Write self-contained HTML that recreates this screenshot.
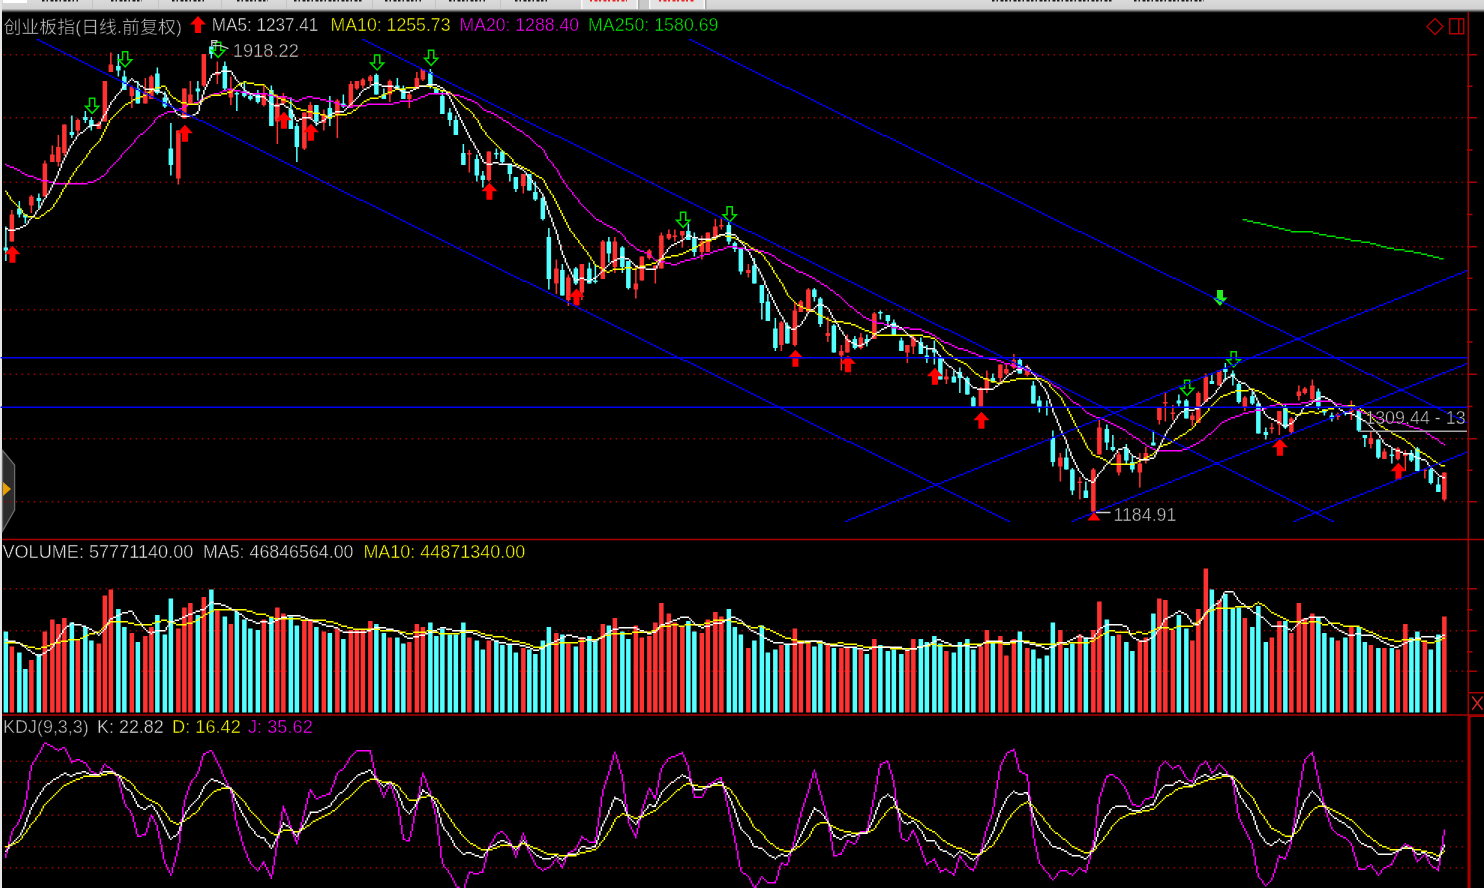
<!DOCTYPE html><html><head><meta charset="utf-8"><title>创业板指</title><style>
html,body{margin:0;padding:0;background:#000;}
#w{position:relative;width:1484px;height:888px;overflow:hidden;background:#000;}
#w>svg{position:absolute;left:0;top:0;}
text{font-family:'Liberation Sans', 'Noto Sans CJK SC', sans-serif;stroke:#000;stroke-width:0.45px;}
</style></head><body><div id="w">
<svg width="1484" height="888" viewBox="0 0 1484 888">
<defs><linearGradient id="tg" x1="0" y1="0" x2="0" y2="1"><stop offset="0" stop-color="#dadada"/><stop offset="1" stop-color="#d1d1d1"/></linearGradient></defs>
<rect x="0" y="0" width="1484" height="9" fill="url(#tg)"/><rect x="0" y="9" width="1484" height="1" fill="#b0b0b0"/><rect x="0" y="10" width="1484" height="1" fill="#7e7e7e"/><rect x="0" y="11" width="1484" height="1" fill="#454545"/><rect x="0" y="12" width="1484" height="1" fill="#0e0e0e"/>

<rect x="3" y="0" width="24" height="3" fill="#ffffff"/>
<g stroke="#1a1a1a" stroke-width="1.6" stroke-dasharray="2.5 2 1.5 2.5 3 1.5">
<line x1="42" y1="0.8" x2="78" y2="0.8"/>
<line x1="111" y1="0.8" x2="142" y2="0.8"/>
<line x1="172" y1="0.8" x2="206" y2="0.8"/>
<line x1="237" y1="0.8" x2="268" y2="0.8"/>
<line x1="294" y1="0.8" x2="363" y2="0.8"/>
<line x1="385" y1="0.8" x2="421" y2="0.8"/>
<line x1="449" y1="0.8" x2="485" y2="0.8"/>
<line x1="515" y1="0.8" x2="549" y2="0.8"/>
<line x1="992" y1="0.8" x2="1112" y2="0.8"/>
<line x1="1134" y1="0.8" x2="1204" y2="0.8"/>
</g>
<g stroke="#c4c4c4" stroke-width="1">
<line x1="92.5" y1="0" x2="92.5" y2="9"/><line x1="158.5" y1="0" x2="158.5" y2="9"/><line x1="221.5" y1="0" x2="221.5" y2="9"/>
<line x1="286.5" y1="0" x2="286.5" y2="9"/><line x1="372.5" y1="0" x2="372.5" y2="9"/><line x1="435.5" y1="0" x2="435.5" y2="9"/><line x1="500.5" y1="0" x2="500.5" y2="9"/>
</g>
<rect x="581" y="0" width="57" height="9" fill="#e3e3e3"/>
<rect x="649" y="0" width="56" height="9" fill="#e3e3e3"/>
<rect x="638" y="0" width="11" height="9" fill="#c9c9c9"/>
<rect x="581" y="0" width="1.5" height="9" fill="#fafafa"/><rect x="636.5" y="0" width="1.5" height="9" fill="#fafafa"/>
<rect x="649" y="0" width="1.5" height="9" fill="#fafafa"/><rect x="703.5" y="0" width="1.5" height="9" fill="#fafafa"/>
<rect x="638" y="0" width="1.5" height="9" fill="#a8a8a8"/><rect x="705" y="0" width="1.5" height="9" fill="#a8a8a8"/>
<g stroke="#ee2020" stroke-width="1.6" stroke-dasharray="2 2.5 3 1.5">
<line x1="590" y1="0.8" x2="627" y2="0.8"/>
<line x1="659" y1="0.8" x2="694" y2="0.8"/>
</g>

<rect x="0" y="0" width="2" height="888" fill="#e6e6e6"/>
<polygon points="2.5,450.5 14.6,465 14.6,510 2.5,531" fill="#2c2c2c" stroke="#6a6a6a" stroke-width="1.3"/><polygon points="3,482 11,489 3,496" fill="#e8a000" stroke="none" stroke-width="1.5"/>
<line x1="3.6" y1="54.75" x2="1464" y2="54.75" stroke="#a00000" stroke-width="1.5" stroke-dasharray="1.5 4.5"/>
<line x1="3.6" y1="117.75" x2="1464" y2="117.75" stroke="#a00000" stroke-width="1.5" stroke-dasharray="1.5 4.5"/>
<line x1="3.6" y1="182.25" x2="1464" y2="182.25" stroke="#a00000" stroke-width="1.5" stroke-dasharray="1.5 4.5"/>
<line x1="3.6" y1="246.75" x2="1464" y2="246.75" stroke="#a00000" stroke-width="1.5" stroke-dasharray="1.5 4.5"/>
<line x1="3.6" y1="309.75" x2="1464" y2="309.75" stroke="#a00000" stroke-width="1.5" stroke-dasharray="1.5 4.5"/>
<line x1="3.6" y1="374.25" x2="1464" y2="374.25" stroke="#a00000" stroke-width="1.5" stroke-dasharray="1.5 4.5"/>
<line x1="3.6" y1="438.75" x2="1464" y2="438.75" stroke="#a00000" stroke-width="1.5" stroke-dasharray="1.5 4.5"/>
<line x1="3.6" y1="501.75" x2="1464" y2="501.75" stroke="#a00000" stroke-width="1.5" stroke-dasharray="1.5 4.5"/>
<line x1="3.6" y1="588.75" x2="1464" y2="588.75" stroke="#a00000" stroke-width="1.5" stroke-dasharray="1.5 4.5"/>
<line x1="3.6" y1="630.75" x2="1464" y2="630.75" stroke="#a00000" stroke-width="1.5" stroke-dasharray="1.5 4.5"/>
<line x1="3.6" y1="671.25" x2="1464" y2="671.25" stroke="#a00000" stroke-width="1.5" stroke-dasharray="1.5 4.5"/>
<line x1="3.6" y1="761.25" x2="1464" y2="761.25" stroke="#a00000" stroke-width="1.5" stroke-dasharray="1.5 4.5"/>
<line x1="3.6" y1="782.25" x2="1464" y2="782.25" stroke="#a00000" stroke-width="1.5" stroke-dasharray="1.5 4.5"/>
<line x1="3.6" y1="815.25" x2="1464" y2="815.25" stroke="#a00000" stroke-width="1.5" stroke-dasharray="1.5 4.5"/>
<line x1="3.6" y1="846.75" x2="1464" y2="846.75" stroke="#a00000" stroke-width="1.5" stroke-dasharray="1.5 4.5"/>
<line x1="3.6" y1="867.75" x2="1464" y2="867.75" stroke="#a00000" stroke-width="1.5" stroke-dasharray="1.5 4.5"/>
<rect x="5.1" y="226.5" width="1.5" height="34.5" fill="#54ffff"/>
<rect x="3.6" y="247.5" width="4.5" height="3" fill="#54ffff"/>
<rect x="11.1" y="210" width="1.5" height="31.5" fill="#ff3232"/>
<rect x="9.6" y="214.5" width="4.5" height="27" fill="#ff3232"/>
<rect x="18.6" y="201" width="1.5" height="16.5" fill="#54ffff"/>
<rect x="17.1" y="208.5" width="4.5" height="6" fill="#54ffff"/>
<rect x="24.6" y="214.5" width="1.5" height="9" fill="#54ffff"/>
<rect x="23.1" y="214.5" width="4.5" height="3" fill="#54ffff"/>
<rect x="30.6" y="195" width="1.5" height="18" fill="#ff3232"/>
<rect x="29.1" y="196.5" width="4.5" height="9" fill="#ff3232"/>
<rect x="38.1" y="193.5" width="1.5" height="15" fill="#54ffff"/>
<rect x="36.6" y="198" width="4.5" height="3" fill="#54ffff"/>
<rect x="44.1" y="160.5" width="1.5" height="36" fill="#ff3232"/>
<rect x="42.6" y="163.5" width="4.5" height="33" fill="#ff3232"/>
<rect x="51.6" y="145.5" width="1.5" height="16.5" fill="#ff3232"/>
<rect x="50.1" y="154.5" width="4.5" height="7.5" fill="#ff3232"/>
<rect x="57.6" y="135" width="1.5" height="31.5" fill="#ff3232"/>
<rect x="56.1" y="147" width="4.5" height="15" fill="#ff3232"/>
<rect x="63.6" y="124.5" width="1.5" height="31.5" fill="#ff3232"/>
<rect x="62.1" y="124.5" width="4.5" height="28.5" fill="#ff3232"/>
<rect x="71.1" y="115.5" width="1.5" height="22.5" fill="#54ffff"/>
<rect x="69.6" y="132" width="4.5" height="3" fill="#54ffff"/>
<rect x="77.1" y="118.5" width="1.5" height="16.5" fill="#ff3232"/>
<rect x="75.6" y="120" width="4.5" height="10.5" fill="#ff3232"/>
<rect x="84.6" y="111" width="1.5" height="12" fill="#54ffff"/>
<rect x="83.1" y="117" width="4.5" height="3" fill="#54ffff"/>
<rect x="90.6" y="117" width="1.5" height="13.5" fill="#54ffff"/>
<rect x="89.1" y="120" width="4.5" height="6" fill="#54ffff"/>
<rect x="98.1" y="121.5" width="1.5" height="7.5" fill="#ff3232"/>
<rect x="96.6" y="123" width="4.5" height="6" fill="#ff3232"/>
<rect x="104.1" y="81" width="1.5" height="40.5" fill="#ff3232"/>
<rect x="102.6" y="81" width="4.5" height="40.5" fill="#ff3232"/>
<rect x="110.1" y="52.5" width="1.5" height="19.5" fill="#ff3232"/>
<rect x="108.6" y="64.5" width="4.5" height="7.5" fill="#ff3232"/>
<rect x="117.6" y="54" width="1.5" height="22.5" fill="#54ffff"/>
<rect x="116.1" y="66" width="4.5" height="4.5" fill="#54ffff"/>
<rect x="123.6" y="70.5" width="1.5" height="19.5" fill="#54ffff"/>
<rect x="122.1" y="76.5" width="4.5" height="13.5" fill="#54ffff"/>
<rect x="131.1" y="85.5" width="1.5" height="22.5" fill="#ff3232"/>
<rect x="129.6" y="87" width="4.5" height="9" fill="#ff3232"/>
<rect x="137.1" y="81" width="1.5" height="22.5" fill="#54ffff"/>
<rect x="135.6" y="88.5" width="4.5" height="15" fill="#54ffff"/>
<rect x="144.6" y="78" width="1.5" height="25.5" fill="#ff3232"/>
<rect x="143.1" y="91.5" width="4.5" height="12" fill="#ff3232"/>
<rect x="150.6" y="75" width="1.5" height="24" fill="#ff3232"/>
<rect x="149.1" y="76.5" width="4.5" height="22.5" fill="#ff3232"/>
<rect x="156.6" y="67.5" width="1.5" height="27" fill="#54ffff"/>
<rect x="155.1" y="73.5" width="4.5" height="19.5" fill="#54ffff"/>
<rect x="164.1" y="91.5" width="1.5" height="16.5" fill="#54ffff"/>
<rect x="162.6" y="97.5" width="4.5" height="9" fill="#54ffff"/>
<rect x="170.1" y="123" width="1.5" height="52.5" fill="#54ffff"/>
<rect x="168.6" y="148.5" width="4.5" height="16.5" fill="#54ffff"/>
<rect x="177.6" y="130.5" width="1.5" height="54" fill="#ff3232"/>
<rect x="176.1" y="130.5" width="4.5" height="48" fill="#ff3232"/>
<rect x="183.6" y="88.5" width="1.5" height="30" fill="#ff3232"/>
<rect x="182.1" y="88.5" width="4.5" height="30" fill="#ff3232"/>
<rect x="189.6" y="81" width="1.5" height="24" fill="#ff3232"/>
<rect x="188.1" y="94.5" width="4.5" height="9" fill="#ff3232"/>
<rect x="197.1" y="81" width="1.5" height="19.5" fill="#54ffff"/>
<rect x="195.6" y="88.5" width="4.5" height="3" fill="#54ffff"/>
<rect x="203.1" y="54" width="1.5" height="33" fill="#ff3232"/>
<rect x="201.6" y="54" width="4.5" height="31.5" fill="#ff3232"/>
<rect x="210.6" y="46.5" width="1.5" height="12" fill="#54ffff"/>
<rect x="209.1" y="46.5" width="4.5" height="7.5" fill="#54ffff"/>
<rect x="216.6" y="61.5" width="1.5" height="22.5" fill="#ff3232"/>
<rect x="215.1" y="72" width="4.5" height="3" fill="#ff3232"/>
<rect x="224.1" y="61.5" width="1.5" height="28.5" fill="#54ffff"/>
<rect x="222.6" y="66" width="4.5" height="22.5" fill="#54ffff"/>
<rect x="230.1" y="76.5" width="1.5" height="28.5" fill="#ff3232"/>
<rect x="228.6" y="90" width="4.5" height="7.5" fill="#ff3232"/>
<rect x="236.1" y="91.5" width="1.5" height="19.5" fill="#54ffff"/>
<rect x="234.6" y="93" width="4.5" height="1.5" fill="#54ffff"/>
<rect x="243.6" y="81" width="1.5" height="16.5" fill="#54ffff"/>
<rect x="242.1" y="91.5" width="4.5" height="4.5" fill="#54ffff"/>
<rect x="249.6" y="94.5" width="1.5" height="6" fill="#54ffff"/>
<rect x="248.1" y="96" width="4.5" height="3" fill="#54ffff"/>
<rect x="257.1" y="90" width="1.5" height="13.5" fill="#54ffff"/>
<rect x="255.6" y="94.5" width="4.5" height="7.5" fill="#54ffff"/>
<rect x="263.1" y="85.5" width="1.5" height="21" fill="#ff3232"/>
<rect x="261.6" y="93" width="4.5" height="12" fill="#ff3232"/>
<rect x="270.6" y="85.5" width="1.5" height="40.5" fill="#54ffff"/>
<rect x="269.1" y="90" width="4.5" height="36" fill="#54ffff"/>
<rect x="276.6" y="94.5" width="1.5" height="49.5" fill="#ff3232"/>
<rect x="275.1" y="103.5" width="4.5" height="18" fill="#ff3232"/>
<rect x="282.6" y="93" width="1.5" height="12" fill="#ff3232"/>
<rect x="281.1" y="96" width="4.5" height="7.5" fill="#ff3232"/>
<rect x="290.1" y="97.5" width="1.5" height="31.5" fill="#54ffff"/>
<rect x="288.6" y="109.5" width="4.5" height="19.5" fill="#54ffff"/>
<rect x="296.1" y="123" width="1.5" height="39" fill="#54ffff"/>
<rect x="294.6" y="126" width="4.5" height="21" fill="#54ffff"/>
<rect x="303.6" y="112.5" width="1.5" height="37.5" fill="#ff3232"/>
<rect x="302.1" y="112.5" width="4.5" height="36" fill="#ff3232"/>
<rect x="309.6" y="102" width="1.5" height="18" fill="#ff3232"/>
<rect x="308.1" y="105" width="4.5" height="13.5" fill="#ff3232"/>
<rect x="315.6" y="105" width="1.5" height="21" fill="#54ffff"/>
<rect x="314.1" y="105" width="4.5" height="16.5" fill="#54ffff"/>
<rect x="323.1" y="109.5" width="1.5" height="21" fill="#ff3232"/>
<rect x="321.6" y="114" width="4.5" height="9" fill="#ff3232"/>
<rect x="329.1" y="96" width="1.5" height="30" fill="#54ffff"/>
<rect x="327.6" y="108" width="4.5" height="10.5" fill="#54ffff"/>
<rect x="336.6" y="99" width="1.5" height="39" fill="#ff3232"/>
<rect x="335.1" y="100.5" width="4.5" height="13.5" fill="#ff3232"/>
<rect x="342.6" y="94.5" width="1.5" height="13.5" fill="#54ffff"/>
<rect x="341.1" y="103.5" width="4.5" height="3" fill="#54ffff"/>
<rect x="350.1" y="81" width="1.5" height="25.5" fill="#ff3232"/>
<rect x="348.6" y="84" width="4.5" height="22.5" fill="#ff3232"/>
<rect x="356.1" y="81" width="1.5" height="9" fill="#ff3232"/>
<rect x="354.6" y="81" width="4.5" height="7.5" fill="#ff3232"/>
<rect x="362.1" y="78" width="1.5" height="10.5" fill="#ff3232"/>
<rect x="360.6" y="79.5" width="4.5" height="6" fill="#ff3232"/>
<rect x="369.6" y="75" width="1.5" height="10.5" fill="#ff3232"/>
<rect x="368.1" y="76.5" width="4.5" height="4.5" fill="#ff3232"/>
<rect x="375.6" y="73.5" width="1.5" height="21" fill="#54ffff"/>
<rect x="374.1" y="75" width="4.5" height="19.5" fill="#54ffff"/>
<rect x="383.1" y="88.5" width="1.5" height="10.5" fill="#54ffff"/>
<rect x="381.6" y="94.5" width="4.5" height="4.5" fill="#54ffff"/>
<rect x="389.1" y="79.5" width="1.5" height="22.5" fill="#ff3232"/>
<rect x="387.6" y="81" width="4.5" height="13.5" fill="#ff3232"/>
<rect x="396.6" y="78" width="1.5" height="12" fill="#54ffff"/>
<rect x="395.1" y="85.5" width="4.5" height="3" fill="#54ffff"/>
<rect x="402.6" y="85.5" width="1.5" height="13.5" fill="#54ffff"/>
<rect x="401.1" y="88.5" width="4.5" height="10.5" fill="#54ffff"/>
<rect x="408.6" y="93" width="1.5" height="15" fill="#ff3232"/>
<rect x="407.1" y="94.5" width="4.5" height="4.5" fill="#ff3232"/>
<rect x="416.1" y="72" width="1.5" height="16.5" fill="#ff3232"/>
<rect x="414.6" y="78" width="4.5" height="10.5" fill="#ff3232"/>
<rect x="422.1" y="69" width="1.5" height="12" fill="#ff3232"/>
<rect x="420.6" y="69" width="4.5" height="10.5" fill="#ff3232"/>
<rect x="429.6" y="69" width="1.5" height="19.5" fill="#54ffff"/>
<rect x="428.1" y="72" width="4.5" height="13.5" fill="#54ffff"/>
<rect x="435.6" y="88.5" width="1.5" height="4.5" fill="#54ffff"/>
<rect x="434.1" y="88.5" width="4.5" height="4.5" fill="#54ffff"/>
<rect x="441.6" y="90" width="1.5" height="24" fill="#54ffff"/>
<rect x="440.1" y="96" width="4.5" height="18" fill="#54ffff"/>
<rect x="449.1" y="108" width="1.5" height="18" fill="#54ffff"/>
<rect x="447.6" y="112.5" width="4.5" height="7.5" fill="#54ffff"/>
<rect x="455.1" y="115.5" width="1.5" height="19.5" fill="#54ffff"/>
<rect x="453.6" y="120" width="4.5" height="15" fill="#54ffff"/>
<rect x="462.6" y="144" width="1.5" height="21" fill="#54ffff"/>
<rect x="461.1" y="153" width="4.5" height="12" fill="#54ffff"/>
<rect x="468.6" y="150" width="1.5" height="22.5" fill="#ff3232"/>
<rect x="467.1" y="153" width="4.5" height="1.5" fill="#ff3232"/>
<rect x="476.1" y="154.5" width="1.5" height="27" fill="#54ffff"/>
<rect x="474.6" y="159" width="4.5" height="16.5" fill="#54ffff"/>
<rect x="482.1" y="171" width="1.5" height="16.5" fill="#54ffff"/>
<rect x="480.6" y="175.5" width="4.5" height="4.5" fill="#54ffff"/>
<rect x="488.1" y="151.5" width="1.5" height="30" fill="#ff3232"/>
<rect x="486.6" y="151.5" width="4.5" height="28.5" fill="#ff3232"/>
<rect x="495.6" y="148.5" width="1.5" height="10.5" fill="#54ffff"/>
<rect x="494.1" y="153" width="4.5" height="1.5" fill="#54ffff"/>
<rect x="501.6" y="150" width="1.5" height="13.5" fill="#54ffff"/>
<rect x="500.1" y="151.5" width="4.5" height="10.5" fill="#54ffff"/>
<rect x="509.1" y="165" width="1.5" height="16.5" fill="#54ffff"/>
<rect x="507.6" y="165" width="4.5" height="9" fill="#54ffff"/>
<rect x="515.1" y="177" width="1.5" height="15" fill="#54ffff"/>
<rect x="513.6" y="177" width="4.5" height="12" fill="#54ffff"/>
<rect x="522.6" y="174" width="1.5" height="19.5" fill="#ff3232"/>
<rect x="521.1" y="174" width="4.5" height="12" fill="#ff3232"/>
<rect x="528.6" y="174" width="1.5" height="16.5" fill="#54ffff"/>
<rect x="527.1" y="174" width="4.5" height="16.5" fill="#54ffff"/>
<rect x="534.6" y="181.5" width="1.5" height="19.5" fill="#54ffff"/>
<rect x="533.1" y="192" width="4.5" height="7.5" fill="#54ffff"/>
<rect x="542.1" y="196.5" width="1.5" height="24" fill="#54ffff"/>
<rect x="540.6" y="198" width="4.5" height="21" fill="#54ffff"/>
<rect x="548.1" y="228" width="1.5" height="61.5" fill="#54ffff"/>
<rect x="546.6" y="237" width="4.5" height="42" fill="#54ffff"/>
<rect x="555.6" y="259.5" width="1.5" height="34.5" fill="#ff3232"/>
<rect x="554.1" y="268.5" width="4.5" height="15" fill="#ff3232"/>
<rect x="561.6" y="264" width="1.5" height="31.5" fill="#54ffff"/>
<rect x="560.1" y="270" width="4.5" height="25.5" fill="#54ffff"/>
<rect x="567.6" y="274.5" width="1.5" height="31.5" fill="#ff3232"/>
<rect x="566.1" y="277.5" width="4.5" height="22.5" fill="#ff3232"/>
<rect x="575.1" y="267" width="1.5" height="18" fill="#54ffff"/>
<rect x="573.6" y="268.5" width="4.5" height="15" fill="#54ffff"/>
<rect x="581.1" y="264" width="1.5" height="36" fill="#ff3232"/>
<rect x="579.6" y="264" width="4.5" height="28.5" fill="#ff3232"/>
<rect x="588.6" y="262.5" width="1.5" height="21" fill="#54ffff"/>
<rect x="587.1" y="268.5" width="4.5" height="15" fill="#54ffff"/>
<rect x="594.6" y="264" width="1.5" height="19.5" fill="#54ffff"/>
<rect x="593.1" y="280.5" width="4.5" height="1.5" fill="#54ffff"/>
<rect x="602.1" y="240" width="1.5" height="39" fill="#ff3232"/>
<rect x="600.6" y="241.5" width="4.5" height="37.5" fill="#ff3232"/>
<rect x="608.1" y="237" width="1.5" height="25.5" fill="#54ffff"/>
<rect x="606.6" y="241.5" width="4.5" height="12" fill="#54ffff"/>
<rect x="614.1" y="237" width="1.5" height="36" fill="#ff3232"/>
<rect x="612.6" y="241.5" width="4.5" height="25.5" fill="#ff3232"/>
<rect x="621.6" y="246" width="1.5" height="27" fill="#54ffff"/>
<rect x="620.1" y="247.5" width="4.5" height="19.5" fill="#54ffff"/>
<rect x="627.6" y="261" width="1.5" height="28.5" fill="#54ffff"/>
<rect x="626.1" y="261" width="4.5" height="27" fill="#54ffff"/>
<rect x="635.1" y="265.5" width="1.5" height="33" fill="#ff3232"/>
<rect x="633.6" y="283.5" width="4.5" height="6" fill="#ff3232"/>
<rect x="641.1" y="256.5" width="1.5" height="24" fill="#ff3232"/>
<rect x="639.6" y="256.5" width="4.5" height="24" fill="#ff3232"/>
<rect x="648.6" y="249" width="1.5" height="10.5" fill="#ff3232"/>
<rect x="647.1" y="250.5" width="4.5" height="7.5" fill="#ff3232"/>
<rect x="654.6" y="265.5" width="1.5" height="18" fill="#ff3232"/>
<rect x="653.1" y="265.5" width="4.5" height="3" fill="#ff3232"/>
<rect x="660.6" y="232.5" width="1.5" height="36" fill="#ff3232"/>
<rect x="659.1" y="235.5" width="4.5" height="33" fill="#ff3232"/>
<rect x="668.1" y="229.5" width="1.5" height="10.5" fill="#ff3232"/>
<rect x="666.6" y="234" width="4.5" height="4.5" fill="#ff3232"/>
<rect x="674.1" y="229.5" width="1.5" height="12" fill="#ff3232"/>
<rect x="672.6" y="235.5" width="4.5" height="1.5" fill="#ff3232"/>
<rect x="681.6" y="231" width="1.5" height="16.5" fill="#ff3232"/>
<rect x="680.1" y="231" width="4.5" height="4.5" fill="#ff3232"/>
<rect x="687.6" y="223.5" width="1.5" height="16.5" fill="#54ffff"/>
<rect x="686.1" y="231" width="4.5" height="9" fill="#54ffff"/>
<rect x="693.6" y="232.5" width="1.5" height="24" fill="#54ffff"/>
<rect x="692.1" y="238.5" width="4.5" height="13.5" fill="#54ffff"/>
<rect x="701.1" y="235.5" width="1.5" height="24" fill="#ff3232"/>
<rect x="699.6" y="241.5" width="4.5" height="10.5" fill="#ff3232"/>
<rect x="707.1" y="232.5" width="1.5" height="19.5" fill="#ff3232"/>
<rect x="705.6" y="232.5" width="4.5" height="19.5" fill="#ff3232"/>
<rect x="714.6" y="219" width="1.5" height="19.5" fill="#ff3232"/>
<rect x="713.1" y="226.5" width="4.5" height="10.5" fill="#ff3232"/>
<rect x="720.6" y="217.5" width="1.5" height="12" fill="#ff3232"/>
<rect x="719.1" y="225" width="4.5" height="1.5" fill="#ff3232"/>
<rect x="728.1" y="222" width="1.5" height="22.5" fill="#54ffff"/>
<rect x="726.6" y="225" width="4.5" height="16.5" fill="#54ffff"/>
<rect x="734.1" y="241.5" width="1.5" height="10.5" fill="#54ffff"/>
<rect x="732.6" y="243" width="4.5" height="6" fill="#54ffff"/>
<rect x="740.1" y="249" width="1.5" height="25.5" fill="#54ffff"/>
<rect x="738.6" y="249" width="4.5" height="22.5" fill="#54ffff"/>
<rect x="747.6" y="264" width="1.5" height="13.5" fill="#ff3232"/>
<rect x="746.1" y="270" width="4.5" height="3" fill="#ff3232"/>
<rect x="753.6" y="258" width="1.5" height="25.5" fill="#54ffff"/>
<rect x="752.1" y="265.5" width="4.5" height="18" fill="#54ffff"/>
<rect x="761.1" y="285" width="1.5" height="34.5" fill="#54ffff"/>
<rect x="759.6" y="285" width="4.5" height="18" fill="#54ffff"/>
<rect x="767.1" y="294" width="1.5" height="27" fill="#54ffff"/>
<rect x="765.6" y="301.5" width="4.5" height="19.5" fill="#54ffff"/>
<rect x="774.6" y="318" width="1.5" height="33" fill="#54ffff"/>
<rect x="773.1" y="328.5" width="4.5" height="19.5" fill="#54ffff"/>
<rect x="780.6" y="321" width="1.5" height="30" fill="#ff3232"/>
<rect x="779.1" y="322.5" width="4.5" height="22.5" fill="#ff3232"/>
<rect x="786.6" y="322.5" width="1.5" height="21" fill="#54ffff"/>
<rect x="785.1" y="325.5" width="4.5" height="18" fill="#54ffff"/>
<rect x="794.1" y="303" width="1.5" height="43.5" fill="#ff3232"/>
<rect x="792.6" y="310.5" width="4.5" height="34.5" fill="#ff3232"/>
<rect x="800.1" y="300" width="1.5" height="12" fill="#ff3232"/>
<rect x="798.6" y="301.5" width="4.5" height="10.5" fill="#ff3232"/>
<rect x="807.6" y="288" width="1.5" height="25.5" fill="#ff3232"/>
<rect x="806.1" y="289.5" width="4.5" height="22.5" fill="#ff3232"/>
<rect x="813.6" y="288" width="1.5" height="13.5" fill="#54ffff"/>
<rect x="812.1" y="289.5" width="4.5" height="7.5" fill="#54ffff"/>
<rect x="819.6" y="297" width="1.5" height="30" fill="#54ffff"/>
<rect x="818.1" y="298.5" width="4.5" height="25.5" fill="#54ffff"/>
<rect x="827.1" y="316.5" width="1.5" height="25.5" fill="#ff3232"/>
<rect x="825.6" y="333" width="4.5" height="3" fill="#ff3232"/>
<rect x="833.1" y="324" width="1.5" height="28.5" fill="#54ffff"/>
<rect x="831.6" y="325.5" width="4.5" height="27" fill="#54ffff"/>
<rect x="840.6" y="345" width="1.5" height="25.5" fill="#ff3232"/>
<rect x="839.1" y="351" width="4.5" height="4.5" fill="#ff3232"/>
<rect x="846.6" y="334.5" width="1.5" height="18" fill="#ff3232"/>
<rect x="845.1" y="339" width="4.5" height="13.5" fill="#ff3232"/>
<rect x="854.1" y="336" width="1.5" height="13.5" fill="#54ffff"/>
<rect x="852.6" y="339" width="4.5" height="9" fill="#54ffff"/>
<rect x="860.1" y="333" width="1.5" height="16.5" fill="#ff3232"/>
<rect x="858.6" y="337.5" width="4.5" height="10.5" fill="#ff3232"/>
<rect x="866.1" y="334.5" width="1.5" height="12" fill="#54ffff"/>
<rect x="864.6" y="339" width="4.5" height="3" fill="#54ffff"/>
<rect x="873.6" y="312" width="1.5" height="27" fill="#ff3232"/>
<rect x="872.1" y="313.5" width="4.5" height="25.5" fill="#ff3232"/>
<rect x="879.6" y="310.5" width="1.5" height="9" fill="#54ffff"/>
<rect x="878.1" y="312" width="4.5" height="1.5" fill="#54ffff"/>
<rect x="887.1" y="315" width="1.5" height="10.5" fill="#54ffff"/>
<rect x="885.6" y="315" width="4.5" height="6" fill="#54ffff"/>
<rect x="893.1" y="319.5" width="1.5" height="16.5" fill="#54ffff"/>
<rect x="891.6" y="322.5" width="4.5" height="13.5" fill="#54ffff"/>
<rect x="900.6" y="337.5" width="1.5" height="13.5" fill="#54ffff"/>
<rect x="899.1" y="340.5" width="4.5" height="10.5" fill="#54ffff"/>
<rect x="906.6" y="345" width="1.5" height="18" fill="#ff3232"/>
<rect x="905.1" y="345" width="4.5" height="7.5" fill="#ff3232"/>
<rect x="912.6" y="336" width="1.5" height="18" fill="#ff3232"/>
<rect x="911.1" y="337.5" width="4.5" height="9" fill="#ff3232"/>
<rect x="920.1" y="337.5" width="1.5" height="16.5" fill="#54ffff"/>
<rect x="918.6" y="342" width="4.5" height="12" fill="#54ffff"/>
<rect x="926.1" y="345" width="1.5" height="18" fill="#54ffff"/>
<rect x="924.6" y="355.5" width="4.5" height="3" fill="#54ffff"/>
<rect x="933.6" y="340.5" width="1.5" height="24" fill="#54ffff"/>
<rect x="932.1" y="349.5" width="4.5" height="3" fill="#54ffff"/>
<rect x="939.6" y="355.5" width="1.5" height="24" fill="#54ffff"/>
<rect x="938.1" y="357" width="4.5" height="22.5" fill="#54ffff"/>
<rect x="945.6" y="369" width="1.5" height="15" fill="#ff3232"/>
<rect x="944.1" y="376.5" width="4.5" height="3" fill="#ff3232"/>
<rect x="953.1" y="370.5" width="1.5" height="12" fill="#54ffff"/>
<rect x="951.6" y="376.5" width="4.5" height="6" fill="#54ffff"/>
<rect x="959.1" y="367.5" width="1.5" height="25.5" fill="#54ffff"/>
<rect x="957.6" y="372" width="4.5" height="6" fill="#54ffff"/>
<rect x="966.6" y="376.5" width="1.5" height="18" fill="#54ffff"/>
<rect x="965.1" y="378" width="4.5" height="16.5" fill="#54ffff"/>
<rect x="972.6" y="396" width="1.5" height="10.5" fill="#54ffff"/>
<rect x="971.1" y="397.5" width="4.5" height="9" fill="#54ffff"/>
<rect x="980.1" y="387" width="1.5" height="19.5" fill="#ff3232"/>
<rect x="978.6" y="388.5" width="4.5" height="18" fill="#ff3232"/>
<rect x="986.1" y="370.5" width="1.5" height="22.5" fill="#ff3232"/>
<rect x="984.6" y="378" width="4.5" height="12" fill="#ff3232"/>
<rect x="992.1" y="373.5" width="1.5" height="9" fill="#54ffff"/>
<rect x="990.6" y="378" width="4.5" height="3" fill="#54ffff"/>
<rect x="999.6" y="364.5" width="1.5" height="18" fill="#ff3232"/>
<rect x="998.1" y="364.5" width="4.5" height="13.5" fill="#ff3232"/>
<rect x="1005.6" y="364.5" width="1.5" height="10.5" fill="#ff3232"/>
<rect x="1004.1" y="369" width="4.5" height="4.5" fill="#ff3232"/>
<rect x="1013.1" y="354" width="1.5" height="15" fill="#ff3232"/>
<rect x="1011.6" y="360" width="4.5" height="7.5" fill="#ff3232"/>
<rect x="1019.1" y="358.5" width="1.5" height="15" fill="#54ffff"/>
<rect x="1017.6" y="360" width="4.5" height="13.5" fill="#54ffff"/>
<rect x="1026.6" y="364.5" width="1.5" height="12" fill="#ff3232"/>
<rect x="1025.1" y="367.5" width="4.5" height="7.5" fill="#ff3232"/>
<rect x="1032.6" y="381" width="1.5" height="22.5" fill="#54ffff"/>
<rect x="1031.1" y="385.5" width="4.5" height="18" fill="#54ffff"/>
<rect x="1038.6" y="396" width="1.5" height="16.5" fill="#54ffff"/>
<rect x="1037.1" y="400.5" width="4.5" height="7.5" fill="#54ffff"/>
<rect x="1046.1" y="400.5" width="1.5" height="15" fill="#54ffff"/>
<rect x="1044.6" y="406.5" width="4.5" height="1.5" fill="#54ffff"/>
<rect x="1052.1" y="430.5" width="1.5" height="36" fill="#54ffff"/>
<rect x="1050.6" y="438" width="4.5" height="24" fill="#54ffff"/>
<rect x="1059.6" y="453" width="1.5" height="28.5" fill="#ff3232"/>
<rect x="1058.1" y="457.5" width="4.5" height="9" fill="#ff3232"/>
<rect x="1065.6" y="448.5" width="1.5" height="21" fill="#54ffff"/>
<rect x="1064.1" y="457.5" width="4.5" height="12" fill="#54ffff"/>
<rect x="1071.6" y="468" width="1.5" height="27" fill="#54ffff"/>
<rect x="1070.1" y="469.5" width="4.5" height="21" fill="#54ffff"/>
<rect x="1079.1" y="477" width="1.5" height="22.5" fill="#ff3232"/>
<rect x="1077.6" y="481.5" width="4.5" height="1.5" fill="#ff3232"/>
<rect x="1085.1" y="481.5" width="1.5" height="16.5" fill="#54ffff"/>
<rect x="1083.6" y="490.5" width="4.5" height="7.5" fill="#54ffff"/>
<rect x="1092.6" y="468" width="1.5" height="45" fill="#ff3232"/>
<rect x="1091.1" y="469.5" width="4.5" height="42" fill="#ff3232"/>
<rect x="1098.6" y="420" width="1.5" height="34.5" fill="#ff3232"/>
<rect x="1097.1" y="427.5" width="4.5" height="27" fill="#ff3232"/>
<rect x="1106.1" y="424.5" width="1.5" height="25.5" fill="#54ffff"/>
<rect x="1104.6" y="429" width="4.5" height="13.5" fill="#54ffff"/>
<rect x="1112.1" y="435" width="1.5" height="16.5" fill="#54ffff"/>
<rect x="1110.6" y="447" width="4.5" height="3" fill="#54ffff"/>
<rect x="1118.1" y="451.5" width="1.5" height="24" fill="#ff3232"/>
<rect x="1116.6" y="454.5" width="4.5" height="18" fill="#ff3232"/>
<rect x="1125.6" y="444" width="1.5" height="21" fill="#54ffff"/>
<rect x="1124.1" y="448.5" width="4.5" height="12" fill="#54ffff"/>
<rect x="1131.6" y="456" width="1.5" height="16.5" fill="#54ffff"/>
<rect x="1130.1" y="462" width="4.5" height="7.5" fill="#54ffff"/>
<rect x="1139.1" y="453" width="1.5" height="34.5" fill="#ff3232"/>
<rect x="1137.6" y="463.5" width="4.5" height="9" fill="#ff3232"/>
<rect x="1145.1" y="447" width="1.5" height="16.5" fill="#ff3232"/>
<rect x="1143.6" y="453" width="4.5" height="7.5" fill="#ff3232"/>
<rect x="1152.6" y="430.5" width="1.5" height="15" fill="#54ffff"/>
<rect x="1151.1" y="442.5" width="4.5" height="3" fill="#54ffff"/>
<rect x="1158.6" y="408" width="1.5" height="16.5" fill="#ff3232"/>
<rect x="1157.1" y="408" width="4.5" height="12" fill="#ff3232"/>
<rect x="1164.6" y="393" width="1.5" height="28.5" fill="#ff3232"/>
<rect x="1163.1" y="402" width="4.5" height="1.5" fill="#ff3232"/>
<rect x="1172.1" y="405" width="1.5" height="15" fill="#ff3232"/>
<rect x="1170.6" y="412.5" width="4.5" height="1.5" fill="#ff3232"/>
<rect x="1178.1" y="394.5" width="1.5" height="12" fill="#54ffff"/>
<rect x="1176.6" y="400.5" width="4.5" height="3" fill="#54ffff"/>
<rect x="1185.6" y="399" width="1.5" height="19.5" fill="#54ffff"/>
<rect x="1184.1" y="400.5" width="4.5" height="18" fill="#54ffff"/>
<rect x="1191.6" y="412.5" width="1.5" height="13.5" fill="#ff3232"/>
<rect x="1190.1" y="415.5" width="4.5" height="4.5" fill="#ff3232"/>
<rect x="1197.6" y="391.5" width="1.5" height="31.5" fill="#ff3232"/>
<rect x="1196.1" y="393" width="4.5" height="30" fill="#ff3232"/>
<rect x="1205.1" y="373.5" width="1.5" height="28.5" fill="#ff3232"/>
<rect x="1203.6" y="376.5" width="4.5" height="25.5" fill="#ff3232"/>
<rect x="1211.1" y="373.5" width="1.5" height="10.5" fill="#54ffff"/>
<rect x="1209.6" y="381" width="4.5" height="3" fill="#54ffff"/>
<rect x="1218.6" y="370.5" width="1.5" height="15" fill="#ff3232"/>
<rect x="1217.1" y="370.5" width="4.5" height="15" fill="#ff3232"/>
<rect x="1224.6" y="363" width="1.5" height="18" fill="#54ffff"/>
<rect x="1223.1" y="369" width="4.5" height="3" fill="#54ffff"/>
<rect x="1232.1" y="370.5" width="1.5" height="15" fill="#54ffff"/>
<rect x="1230.6" y="373.5" width="4.5" height="3" fill="#54ffff"/>
<rect x="1238.1" y="382.5" width="1.5" height="21" fill="#54ffff"/>
<rect x="1236.6" y="384" width="4.5" height="18" fill="#54ffff"/>
<rect x="1244.1" y="396" width="1.5" height="15" fill="#ff3232"/>
<rect x="1242.6" y="397.5" width="4.5" height="10.5" fill="#ff3232"/>
<rect x="1251.6" y="391.5" width="1.5" height="13.5" fill="#54ffff"/>
<rect x="1250.1" y="396" width="4.5" height="7.5" fill="#54ffff"/>
<rect x="1257.6" y="402" width="1.5" height="31.5" fill="#54ffff"/>
<rect x="1256.1" y="403.5" width="4.5" height="30" fill="#54ffff"/>
<rect x="1265.1" y="427.5" width="1.5" height="12" fill="#54ffff"/>
<rect x="1263.6" y="432" width="4.5" height="3" fill="#54ffff"/>
<rect x="1271.1" y="423" width="1.5" height="10.5" fill="#ff3232"/>
<rect x="1269.6" y="427.5" width="4.5" height="1.5" fill="#ff3232"/>
<rect x="1278.6" y="411" width="1.5" height="24" fill="#ff3232"/>
<rect x="1277.1" y="411" width="4.5" height="13.5" fill="#ff3232"/>
<rect x="1284.6" y="405" width="1.5" height="24" fill="#54ffff"/>
<rect x="1283.1" y="408" width="4.5" height="19.5" fill="#54ffff"/>
<rect x="1290.6" y="417" width="1.5" height="18" fill="#ff3232"/>
<rect x="1289.1" y="418.5" width="4.5" height="13.5" fill="#ff3232"/>
<rect x="1298.1" y="385.5" width="1.5" height="15" fill="#ff3232"/>
<rect x="1296.6" y="391.5" width="4.5" height="4.5" fill="#ff3232"/>
<rect x="1304.1" y="387" width="1.5" height="7.5" fill="#ff3232"/>
<rect x="1302.6" y="388.5" width="4.5" height="4.5" fill="#ff3232"/>
<rect x="1311.6" y="379.5" width="1.5" height="22.5" fill="#ff3232"/>
<rect x="1310.1" y="385.5" width="4.5" height="13.5" fill="#ff3232"/>
<rect x="1317.6" y="388.5" width="1.5" height="21" fill="#54ffff"/>
<rect x="1316.1" y="391.5" width="4.5" height="15" fill="#54ffff"/>
<rect x="1323.6" y="409.5" width="1.5" height="6" fill="#54ffff"/>
<rect x="1322.1" y="409.5" width="4.5" height="3" fill="#54ffff"/>
<rect x="1331.1" y="412.5" width="1.5" height="9" fill="#54ffff"/>
<rect x="1329.6" y="415.5" width="4.5" height="3" fill="#54ffff"/>
<rect x="1337.1" y="412.5" width="1.5" height="7.5" fill="#ff3232"/>
<rect x="1335.6" y="414" width="4.5" height="3" fill="#ff3232"/>
<rect x="1344.6" y="411" width="1.5" height="4.5" fill="#54ffff"/>
<rect x="1343.1" y="412.5" width="4.5" height="1.5" fill="#54ffff"/>
<rect x="1350.6" y="400.5" width="1.5" height="19.5" fill="#ff3232"/>
<rect x="1349.1" y="409.5" width="4.5" height="3" fill="#ff3232"/>
<rect x="1358.1" y="409.5" width="1.5" height="22.5" fill="#54ffff"/>
<rect x="1356.6" y="411" width="4.5" height="19.5" fill="#54ffff"/>
<rect x="1364.1" y="435" width="1.5" height="12" fill="#54ffff"/>
<rect x="1362.6" y="435" width="4.5" height="3" fill="#54ffff"/>
<rect x="1370.1" y="432" width="1.5" height="16.5" fill="#ff3232"/>
<rect x="1368.6" y="438" width="4.5" height="6" fill="#ff3232"/>
<rect x="1377.6" y="439.5" width="1.5" height="19.5" fill="#54ffff"/>
<rect x="1376.1" y="439.5" width="4.5" height="18" fill="#54ffff"/>
<rect x="1383.6" y="448.5" width="1.5" height="10.5" fill="#ff3232"/>
<rect x="1382.1" y="451.5" width="4.5" height="7.5" fill="#ff3232"/>
<rect x="1391.1" y="448.5" width="1.5" height="15" fill="#54ffff"/>
<rect x="1389.6" y="454.5" width="4.5" height="1.5" fill="#54ffff"/>
<rect x="1397.1" y="447" width="1.5" height="13.5" fill="#ff3232"/>
<rect x="1395.6" y="448.5" width="4.5" height="10.5" fill="#ff3232"/>
<rect x="1404.6" y="450" width="1.5" height="21" fill="#ff3232"/>
<rect x="1403.1" y="453" width="4.5" height="3" fill="#ff3232"/>
<rect x="1410.6" y="450" width="1.5" height="12" fill="#54ffff"/>
<rect x="1409.1" y="453" width="4.5" height="7.5" fill="#54ffff"/>
<rect x="1416.6" y="447" width="1.5" height="24" fill="#54ffff"/>
<rect x="1415.1" y="448.5" width="4.5" height="22.5" fill="#54ffff"/>
<rect x="1424.1" y="468" width="1.5" height="10.5" fill="#ff3232"/>
<rect x="1422.6" y="469.5" width="4.5" height="1.5" fill="#ff3232"/>
<rect x="1430.1" y="468" width="1.5" height="16.5" fill="#54ffff"/>
<rect x="1428.6" y="469.5" width="4.5" height="13.5" fill="#54ffff"/>
<rect x="1437.6" y="477" width="1.5" height="15" fill="#54ffff"/>
<rect x="1436.1" y="484.5" width="4.5" height="7.5" fill="#54ffff"/>
<rect x="1443.6" y="472.5" width="1.5" height="28.5" fill="#ff3232"/>
<rect x="1442.1" y="472.5" width="4.5" height="27" fill="#ff3232"/>
<path fill="#ff00ff" d="M213.6 93h6v1.5h-6zM246.6 93h21v1.5h-21zM428.1 93h24v1.5h-24zM1095.6 417h6v1.5h-6zM1230.6 417h4.5v1.5h-4.5zM1376.1 417h3v1.5h-3zM1116.6 426h3v1.5h-3zM1409.1 426h4.5v1.5h-4.5zM1104.6 420h3v1.5h-3zM1224.6 420h3v1.5h-3zM1382.1 420h6v1.5h-6zM1113.6 424.5h3v1.5h-3zM1406.1 424.5h3v1.5h-3zM206.1 96h3v1.5h-3zM273.6 96h13.5v1.5h-13.5zM306.6 96h6v1.5h-6zM420.6 96h4.5v1.5h-4.5zM459.6 96h4.5v1.5h-4.5zM983.1 357h6v1.5h-6zM1308.6 400.5h24v1.5h-24zM1136.1 438h3v1.5h-3zM1434.6 438h3v1.5h-3zM185.1 105h3v1.5h-3zM341.1 105h6v1.5h-6zM353.1 105h13.5v1.5h-13.5zM1146.6 445.5h3v1.5h-3zM1190.1 445.5h3v1.5h-3zM665.1 262.5h6v1.5h-6zM677.1 262.5h3v1.5h-3zM782.1 262.5h3v1.5h-3zM1254.6 409.5h7.5v1.5h-7.5zM1356.6 409.5h3v1.5h-3zM1128.6 433.5h3v1.5h-3zM1208.1 433.5h3v1.5h-3zM1427.1 433.5h3v1.5h-3zM498.6 117h3v1.5h-3zM167.1 111h7.5v1.5h-7.5zM486.6 111h4.5v1.5h-4.5zM806.1 274.5h3v1.5h-3zM222.6 90h4.5v1.5h-4.5zM233.1 90h7.5v1.5h-7.5zM836.1 294h3v1.5h-3zM1037.1 375h4.5v1.5h-4.5zM1023.6 369h4.5v1.5h-4.5zM1076.1 403.5h3v1.5h-3zM1275.6 403.5h25.5v1.5h-25.5zM1335.6 403.5h6v1.5h-6zM1266.6 406.5h3v1.5h-3zM1347.6 406.5h6v1.5h-6zM795.6 270h3v1.5h-3zM639.6 250.5h4.5v1.5h-4.5zM713.1 250.5h4.5v1.5h-4.5zM758.1 250.5h6v1.5h-6zM1028.1 370.5h3v1.5h-3zM219.6 91.5h3v1.5h-3zM240.6 91.5h6v1.5h-6zM33.6 177h3v1.5h-3zM36.6 178.5h4.5v1.5h-4.5zM96.6 178.5h3v1.5h-3zM857.1 312h3v1.5h-3zM1041.6 376.5h3v1.5h-3zM636.6 249h3v1.5h-3zM717.6 249h6v1.5h-6zM744.6 249h13.5v1.5h-13.5zM1155.6 450h27v1.5h-27zM200.1 99h3v1.5h-3zM291.6 99h3v1.5h-3zM299.1 99h3v1.5h-3zM320.1 99h6v1.5h-6zM413.1 99h4.5v1.5h-4.5zM467.1 99h4.5v1.5h-4.5zM647.1 253.5h3v1.5h-3zM704.1 253.5h6v1.5h-6zM768.6 253.5h3v1.5h-3zM188.1 103.5h6v1.5h-6zM338.1 103.5h3v1.5h-3zM366.6 103.5h27v1.5h-27zM798.6 271.5h4.5v1.5h-4.5zM897.6 328.5h6v1.5h-6zM909.6 328.5h12v1.5h-12zM788.1 265.5h3v1.5h-3zM1248.6 411h6v1.5h-6zM1359.6 411h3v1.5h-3zM1031.1 372h3v1.5h-3zM1101.6 418.5h3v1.5h-3zM1227.6 418.5h3v1.5h-3zM1379.1 418.5h3v1.5h-3zM1142.1 442.5h3v1.5h-3zM1196.1 442.5h3v1.5h-3zM1440.6 442.5h3v1.5h-3zM1262.1 408h4.5v1.5h-4.5zM1353.6 408h3v1.5h-3zM1017.6 367.5h6v1.5h-6zM1193.1 444h3v1.5h-3zM203.1 97.5h3v1.5h-3zM287.1 97.5h4.5v1.5h-4.5zM302.1 97.5h4.5v1.5h-4.5zM312.6 97.5h7.5v1.5h-7.5zM417.6 97.5h3v1.5h-3zM464.1 97.5h3v1.5h-3zM194.1 102h4.5v1.5h-4.5zM333.6 102h4.5v1.5h-4.5zM393.6 102h6v1.5h-6zM474.6 102h3v1.5h-3zM671.1 264h6v1.5h-6zM785.1 264h3v1.5h-3zM41.1 180h7.5v1.5h-7.5zM93.6 180h3v1.5h-3zM54.6 183h33v1.5h-33zM989.1 358.5h7.5v1.5h-7.5zM654.6 259.5h3v1.5h-3zM684.6 259.5h6v1.5h-6zM777.6 259.5h3v1.5h-3zM723.6 247.5h3v1.5h-3zM737.1 247.5h7.5v1.5h-7.5zM161.1 114h3v1.5h-3zM494.1 114h3v1.5h-3zM1092.6 415.5h3v1.5h-3zM1235.1 415.5h4.5v1.5h-4.5zM1373.1 415.5h3v1.5h-3zM17.1 169.5h3v1.5h-3zM1152.6 448.5h3v1.5h-3zM1182.6 448.5h4.5v1.5h-4.5zM525.6 135h3v1.5h-3zM891.6 327h6v1.5h-6zM903.6 327h6v1.5h-6zM209.1 94.5h4.5v1.5h-4.5zM267.6 94.5h6v1.5h-6zM425.1 94.5h3v1.5h-3zM452.1 94.5h7.5v1.5h-7.5zM630.6 244.5h3v1.5h-3zM657.6 261h7.5v1.5h-7.5zM680.1 261h4.5v1.5h-4.5zM1073.1 402h3v1.5h-3zM1301.1 402h7.5v1.5h-7.5zM1332.6 402h3v1.5h-3zM1119.6 427.5h3v1.5h-3zM1413.6 427.5h6v1.5h-6zM1089.6 414h3v1.5h-3zM1239.6 414h3v1.5h-3zM1367.1 414h6v1.5h-6zM294.6 100.5h4.5v1.5h-4.5zM326.1 100.5h7.5v1.5h-7.5zM399.6 100.5h13.5v1.5h-13.5zM471.6 100.5h3v1.5h-3zM9.6 166.5h4.5v1.5h-4.5zM48.6 181.5h6v1.5h-6zM87.6 181.5h6v1.5h-6zM726.6 246h10.5v1.5h-10.5zM996.6 360h4.5v1.5h-4.5zM1107.6 421.5h3v1.5h-3zM1221.6 421.5h3v1.5h-3zM1388.1 421.5h13.5v1.5h-13.5zM690.6 258h6v1.5h-6zM1422.6 430.5h3v1.5h-3zM179.1 108h3v1.5h-3zM164.1 112.5h3v1.5h-3zM491.1 112.5h3v1.5h-3zM182.1 106.5h3v1.5h-3zM347.1 106.5h6v1.5h-6zM617.1 231h3v1.5h-3zM866.1 318h3v1.5h-3zM849.6 306h3v1.5h-3zM1004.1 363h6v1.5h-6zM951.6 345h3v1.5h-3zM644.1 252h3v1.5h-3zM710.1 252h3v1.5h-3zM764.1 252h4.5v1.5h-4.5zM699.6 255h4.5v1.5h-4.5zM771.6 255h3v1.5h-3zM941.1 340.5h3v1.5h-3zM1269.6 405h6v1.5h-6zM1341.6 405h6v1.5h-6zM957.6 348h6v1.5h-6zM944.1 342h4.5v1.5h-4.5zM516.6 129h3v1.5h-3zM1056.6 387h3v1.5h-3zM519.6 130.5h3v1.5h-3zM14.1 168h3v1.5h-3zM921.6 330h3v1.5h-3zM512.1 126h3v1.5h-3zM816.6 280.5h3v1.5h-3zM1001.1 361.5h3v1.5h-3zM227.1 88.5h6v1.5h-6zM971.1 352.5h4.5v1.5h-4.5zM1053.6 385.5h3v1.5h-3zM606.6 225h3v1.5h-3zM596.1 219h3v1.5h-3zM929.1 333h3v1.5h-3zM1086.6 412.5h3v1.5h-3zM1242.6 412.5h6v1.5h-6zM1362.6 412.5h4.5v1.5h-4.5zM963.6 349.5h4.5v1.5h-4.5zM872.1 321h4.5v1.5h-4.5zM821.1 283.5h3v1.5h-3zM599.1 220.5h3v1.5h-3zM968.1 351h3v1.5h-3zM503.1 120h3v1.5h-3zM932.1 334.5h3v1.5h-3zM1149.6 447h3v1.5h-3zM1187.1 447h3v1.5h-3zM158.1 115.5h3v1.5h-3zM1010.1 364.5h4.5v1.5h-4.5zM6.6 165h3v1.5h-3zM876.6 322.5h7.5v1.5h-7.5zM924.6 331.5h4.5v1.5h-4.5zM21.6 172.5h3v1.5h-3zM1122.6 429h3v1.5h-3zM1419.6 429h3v1.5h-3zM809.1 276h3v1.5h-3zM140.1 133.5h3v1.5h-3zM978.6 355.5h4.5v1.5h-4.5zM1133.1 436.5h3v1.5h-3zM1431.6 436.5h3v1.5h-3zM506.1 121.5h3v1.5h-3zM803.1 273h3v1.5h-3zM1034.1 373.5h3v1.5h-3zM1200.6 439.5h3v1.5h-3zM791.1 267h3v1.5h-3zM696.6 256.5h3v1.5h-3zM1110.6 423h3v1.5h-3zM1401.6 423h4.5v1.5h-4.5zM888.6 325.5h3v1.5h-3zM174.6 109.5h4.5v1.5h-4.5zM483.6 109.5h3v1.5h-3zM24.6 174h3v1.5h-3zM27.6 175.5h6v1.5h-6zM101.1 175.5h3v1.5h-3zM884.1 324h4.5v1.5h-4.5zM1044.6 378h3v1.5h-3zM830.1 289.5h3v1.5h-3zM603.6 223.5h3v1.5h-3zM948.6 343.5h3v1.5h-3zM609.6 226.5h3v1.5h-3zM954.6 346.5h3v1.5h-3zM824.1 285h3v1.5h-3zM612.6 228h3v1.5h-3zM537.6 145.5h3v1.5h-3zM863.1 316.5h3v1.5h-3zM936.6 337.5h3v1.5h-3zM869.1 319.5h3v1.5h-3zM1014.6 366h3v1.5h-3zM975.6 354h3v1.5h-3zM812.1 277.5h3v1.5h-3zM1217.1 426h1.5v1.5h-1.5zM1065.6 394.5h1.5v1.5h-1.5zM1218.6 424.5h1.5v1.5h-1.5zM1071.6 400.5h1.5v1.5h-1.5zM1203.6 438h1.5v1.5h-1.5zM150.6 124.5h1.5v1.5h-1.5zM510.6 124.5h1.5v1.5h-1.5zM479.1 105h1.5v1.5h-1.5zM123.6 151.5h1.5v1.5h-1.5zM543.6 150h1.5v3h-1.5zM1083.6 409.5h1.5v1.5h-1.5zM120.6 154.5h1.5v3h-1.5zM546.6 156h1.5v3h-1.5zM156.6 117h1.5v1.5h-1.5zM134.1 139.5h1.5v3h-1.5zM531.6 139.5h1.5v1.5h-1.5zM840.6 297h1.5v1.5h-1.5zM1080.6 406.5h1.5v1.5h-1.5zM1131.6 435h1.5v1.5h-1.5zM1206.6 435h1.5v1.5h-1.5zM1430.1 435h1.5v1.5h-1.5zM99.6 177h1.5v1.5h-1.5zM560.1 175.5h1.5v3h-1.5zM561.6 178.5h1.5v1.5h-1.5zM132.6 142.5h1.5v1.5h-1.5zM534.6 142.5h1.5v1.5h-1.5zM477.6 103.5h1.5v1.5h-1.5zM1085.1 411h1.5v1.5h-1.5zM1082.1 408h1.5v1.5h-1.5zM1145.1 444h1.5v1.5h-1.5zM1443.6 444h1.5v1.5h-1.5zM563.1 180h1.5v3h-1.5zM564.6 183h1.5v1.5h-1.5zM117.6 159h1.5v1.5h-1.5zM548.1 159h1.5v1.5h-1.5zM635.1 247.5h1.5v1.5h-1.5zM107.1 169.5h1.5v3h-1.5zM557.1 169.5h1.5v3h-1.5zM138.6 135h1.5v1.5h-1.5zM569.1 189h1.5v1.5h-1.5zM834.6 292.5h1.5v1.5h-1.5zM570.6 190.5h1.5v1.5h-1.5zM780.6 261h1.5v1.5h-1.5zM116.1 160.5h1.5v1.5h-1.5zM549.6 160.5h1.5v1.5h-1.5zM1215.6 427.5h1.5v1.5h-1.5zM545.1 153h1.5v3h-1.5zM198.6 100.5h1.5v1.5h-1.5zM1127.1 432h1.5v1.5h-1.5zM1211.1 432h1.5v1.5h-1.5zM1425.6 432h1.5v1.5h-1.5zM110.1 166.5h1.5v1.5h-1.5zM554.1 166.5h1.5v1.5h-1.5zM143.1 132h1.5v1.5h-1.5zM522.6 132h1.5v1.5h-1.5zM633.6 246h1.5v1.5h-1.5zM653.1 258h1.5v1.5h-1.5zM776.1 258h1.5v1.5h-1.5zM828.6 288h1.5v1.5h-1.5zM1125.6 430.5h1.5v1.5h-1.5zM1212.6 430.5h1.5v1.5h-1.5zM585.6 208.5h1.5v1.5h-1.5zM482.1 108h1.5v1.5h-1.5zM480.6 106.5h1.5v1.5h-1.5zM126.6 148.5h1.5v1.5h-1.5zM542.1 148.5h1.5v1.5h-1.5zM620.1 232.5h1.5v1.5h-1.5zM125.1 150h1.5v1.5h-1.5zM650.1 255h1.5v1.5h-1.5zM1079.1 405h1.5v1.5h-1.5zM146.1 129h1.5v1.5h-1.5zM827.1 286.5h1.5v1.5h-1.5zM144.6 130.5h1.5v1.5h-1.5zM5.1 163.5h1.5v1.5h-1.5zM113.1 163.5h1.5v1.5h-1.5zM552.6 163.5h1.5v3h-1.5zM131.1 144h1.5v1.5h-1.5zM536.1 144h1.5v1.5h-1.5zM845.1 301.5h1.5v1.5h-1.5zM1059.6 388.5h1.5v1.5h-1.5zM935.1 336h1.5v1.5h-1.5zM108.6 168h1.5v1.5h-1.5zM555.6 168h1.5v1.5h-1.5zM149.1 126h1.5v1.5h-1.5zM1052.1 384h1.5v1.5h-1.5zM1068.6 397.5h1.5v1.5h-1.5zM573.6 195h1.5v1.5h-1.5zM1070.1 399h1.5v1.5h-1.5zM843.6 300h1.5v1.5h-1.5zM584.1 207h1.5v1.5h-1.5zM860.1 313.5h1.5v1.5h-1.5zM861.6 315h1.5v1.5h-1.5zM602.1 222h1.5v1.5h-1.5zM153.6 120h1.5v3h-1.5zM594.6 217.5h1.5v1.5h-1.5zM497.1 115.5h1.5v1.5h-1.5zM111.6 165h1.5v1.5h-1.5zM105.6 172.5h1.5v1.5h-1.5zM558.6 172.5h1.5v3h-1.5zM1214.1 429h1.5v1.5h-1.5zM572.1 192h1.5v3h-1.5zM135.6 138h1.5v1.5h-1.5zM530.1 138h1.5v1.5h-1.5zM524.1 133.5h1.5v1.5h-1.5zM578.1 199.5h1.5v3h-1.5zM1205.1 436.5h1.5v1.5h-1.5zM815.1 279h1.5v1.5h-1.5zM1139.1 439.5h1.5v1.5h-1.5zM1437.6 439.5h1.5v1.5h-1.5zM119.1 157.5h1.5v1.5h-1.5zM122.1 153h1.5v1.5h-1.5zM651.6 256.5h1.5v1.5h-1.5zM774.6 256.5h1.5v1.5h-1.5zM1220.1 423h1.5v1.5h-1.5zM854.1 309h1.5v1.5h-1.5zM114.6 162h1.5v1.5h-1.5zM551.1 162h1.5v1.5h-1.5zM623.1 235.5h1.5v1.5h-1.5zM152.1 123h1.5v1.5h-1.5zM509.1 123h1.5v1.5h-1.5zM137.1 136.5h1.5v1.5h-1.5zM528.6 136.5h1.5v1.5h-1.5zM104.1 174h1.5v1.5h-1.5zM20.1 171h1.5v1.5h-1.5zM848.1 304.5h1.5v1.5h-1.5zM1062.6 391.5h1.5v1.5h-1.5zM533.1 141h1.5v1.5h-1.5zM852.6 307.5h1.5v1.5h-1.5zM621.6 234h1.5v1.5h-1.5zM1140.6 441h1.5v1.5h-1.5zM1199.1 441h1.5v1.5h-1.5zM1439.1 441h1.5v1.5h-1.5zM1061.1 390h1.5v1.5h-1.5zM587.1 210h1.5v1.5h-1.5zM615.6 229.5h1.5v1.5h-1.5zM588.6 211.5h1.5v1.5h-1.5zM566.1 184.5h1.5v3h-1.5zM575.1 196.5h1.5v1.5h-1.5zM576.6 198h1.5v1.5h-1.5zM129.6 145.5h1.5v1.5h-1.5zM846.6 303h1.5v1.5h-1.5zM624.6 237h1.5v3h-1.5zM626.1 240h1.5v1.5h-1.5zM147.6 127.5h1.5v1.5h-1.5zM515.1 127.5h1.5v1.5h-1.5zM1049.1 381h1.5v1.5h-1.5zM855.6 310.5h1.5v1.5h-1.5zM579.6 202.5h1.5v1.5h-1.5zM581.1 204h1.5v1.5h-1.5zM794.1 268.5h1.5v1.5h-1.5zM591.6 214.5h1.5v1.5h-1.5zM1047.6 379.5h1.5v1.5h-1.5zM155.1 118.5h1.5v1.5h-1.5zM501.6 118.5h1.5v1.5h-1.5zM839.1 295.5h1.5v1.5h-1.5zM590.1 213h1.5v1.5h-1.5zM1064.1 393h1.5v1.5h-1.5zM567.6 187.5h1.5v1.5h-1.5zM629.1 243h1.5v1.5h-1.5zM128.1 147h1.5v1.5h-1.5zM540.6 147h1.5v1.5h-1.5zM833.1 291h1.5v1.5h-1.5zM627.6 241.5h1.5v1.5h-1.5zM939.6 339h1.5v1.5h-1.5zM842.1 298.5h1.5v1.5h-1.5zM582.6 205.5h1.5v1.5h-1.5zM819.6 282h1.5v1.5h-1.5zM1050.6 382.5h1.5v1.5h-1.5zM1067.1 396h1.5v1.5h-1.5zM593.1 216h1.5v1.5h-1.5z"/>
<path fill="#ffff00" d="M996.6 382.5h6v1.5h-6zM1416.6 450h3v1.5h-3zM1103.1 459h3v1.5h-3zM1140.6 459h3v1.5h-3zM810.6 310.5h4.5v1.5h-4.5zM872.1 333h4.5v1.5h-4.5zM177.6 100.5h3v1.5h-3zM200.1 100.5h3v1.5h-3zM285.6 100.5h3v1.5h-3zM363.6 100.5h3v1.5h-3zM221.1 93h6v1.5h-6zM384.6 93h3v1.5h-3zM686.1 250.5h3v1.5h-3zM755.1 250.5h3v1.5h-3zM831.6 321h12v1.5h-12zM1107.6 462h3v1.5h-3zM1134.6 462h3v1.5h-3zM671.1 255h7.5v1.5h-7.5zM603.6 270h3v1.5h-3zM609.6 270h3v1.5h-3zM1295.1 414h6v1.5h-6zM1367.1 414h3v1.5h-3zM1322.1 409.5h6v1.5h-6zM1361.1 409.5h3v1.5h-3zM1271.1 399h3v1.5h-3zM152.1 88.5h3v1.5h-3zM395.1 88.5h10.5v1.5h-10.5zM437.1 88.5h3v1.5h-3zM683.1 252h3v1.5h-3zM758.1 252h3v1.5h-3zM800.1 306h3v1.5h-3zM1110.6 463.5h24v1.5h-24zM1437.6 463.5h3v1.5h-3zM990.6 381h6v1.5h-6zM1002.6 381h7.5v1.5h-7.5zM1044.6 381h3v1.5h-3zM240.6 82.5h3v1.5h-3zM246.6 82.5h7.5v1.5h-7.5zM306.6 111h6v1.5h-6zM876.6 334.5h46.5v1.5h-46.5zM606.6 271.5h3v1.5h-3zM930.6 337.5h4.5v1.5h-4.5zM1223.1 394.5h4.5v1.5h-4.5zM1347.6 405h7.5v1.5h-7.5zM320.1 114h4.5v1.5h-4.5zM335.1 114h12v1.5h-12zM1277.1 402h3v1.5h-3zM612.6 268.5h12v1.5h-12zM632.1 268.5h4.5v1.5h-4.5zM140.1 96h3v1.5h-3zM207.6 96h3v1.5h-3zM378.6 96h3v1.5h-3zM1095.6 456h4.5v1.5h-4.5zM1146.6 456h3v1.5h-3zM1427.1 456h3v1.5h-3zM392.1 90h3v1.5h-3zM440.1 90h6v1.5h-6zM692.1 247.5h3v1.5h-3zM750.6 247.5h3v1.5h-3zM237.6 84h3v1.5h-3zM254.1 84h10.5v1.5h-10.5zM1328.1 408h6v1.5h-6zM983.1 378h4.5v1.5h-4.5zM1016.1 378h25.5v1.5h-25.5zM657.6 259.5h3v1.5h-3zM300.6 109.5h6v1.5h-6zM353.1 109.5h3v1.5h-3zM161.1 85.5h4.5v1.5h-4.5zM419.1 85.5h13.5v1.5h-13.5zM705.6 240h6v1.5h-6zM738.6 240h3v1.5h-3zM536.1 175.5h3v1.5h-3zM651.6 262.5h4.5v1.5h-4.5zM1137.6 460.5h3v1.5h-3zM1433.1 460.5h3v1.5h-3zM135.6 97.5h4.5v1.5h-4.5zM173.1 97.5h3v1.5h-3zM204.6 97.5h3v1.5h-3zM278.1 97.5h3v1.5h-3zM369.6 97.5h9v1.5h-9zM147.6 91.5h3v1.5h-3zM227.1 91.5h4.5v1.5h-4.5zM387.6 91.5h4.5v1.5h-4.5zM446.1 91.5h4.5v1.5h-4.5zM143.1 94.5h3v1.5h-3zM210.6 94.5h10.5v1.5h-10.5zM273.6 94.5h3v1.5h-3zM381.6 94.5h3v1.5h-3zM1182.6 433.5h3v1.5h-3zM1392.6 433.5h3v1.5h-3zM923.1 336h7.5v1.5h-7.5zM527.1 169.5h3v1.5h-3zM518.1 165h3v1.5h-3zM155.1 87h6v1.5h-6zM405.6 87h13.5v1.5h-13.5zM432.6 87h4.5v1.5h-4.5zM327.6 117h4.5v1.5h-4.5zM1235.1 390h13.5v1.5h-13.5zM1254.6 390h4.5v1.5h-4.5zM731.1 237h4.5v1.5h-4.5zM531.6 172.5h3v1.5h-3zM125.1 103.5h3v1.5h-3zM186.6 103.5h12v1.5h-12zM1334.1 406.5h13.5v1.5h-13.5zM1355.1 406.5h4.5v1.5h-4.5zM27.6 216h7.5v1.5h-7.5zM47.1 210h3v1.5h-3zM720.6 234h4.5v1.5h-4.5zM599.1 267h3v1.5h-3zM624.6 267h7.5v1.5h-7.5zM636.6 267h3v1.5h-3zM1160.1 445.5h3v1.5h-3zM312.6 112.5h7.5v1.5h-7.5zM347.1 112.5h4.5v1.5h-4.5zM1419.6 451.5h3v1.5h-3zM515.1 163.5h3v1.5h-3zM35.1 217.5h4.5v1.5h-4.5zM324.6 115.5h3v1.5h-3zM332.1 115.5h3v1.5h-3zM717.6 235.5h3v1.5h-3zM725.1 235.5h6v1.5h-6zM678.6 253.5h4.5v1.5h-4.5zM645.6 264h6v1.5h-6zM1290.6 412.5h4.5v1.5h-4.5zM1301.1 412.5h7.5v1.5h-7.5zM1314.6 412.5h4.5v1.5h-4.5zM296.1 108h4.5v1.5h-4.5zM465.6 108h3v1.5h-3zM744.6 243h3v1.5h-3zM1163.1 444h4.5v1.5h-4.5zM987.6 379.5h3v1.5h-3zM1010.1 379.5h6v1.5h-6zM1041.6 379.5h3v1.5h-3zM1220.1 396h3v1.5h-3zM843.6 322.5h7.5v1.5h-7.5zM1170.6 441h3v1.5h-3zM660.6 258h4.5v1.5h-4.5zM689.1 249h3v1.5h-3zM1227.6 393h3v1.5h-3zM1262.1 393h3v1.5h-3zM128.1 102h3v1.5h-3zM180.6 102h6v1.5h-6zM288.6 102h3v1.5h-3zM1440.6 465h4.5v1.5h-4.5zM1274.1 400.5h3v1.5h-3zM132.6 99h3v1.5h-3zM281.1 99h4.5v1.5h-4.5zM366.6 99h3v1.5h-3zM864.6 330h4.5v1.5h-4.5zM1268.1 397.5h3v1.5h-3zM1287.6 411h3v1.5h-3zM1308.6 411h6v1.5h-6zM1319.1 411h3v1.5h-3zM702.6 241.5h3v1.5h-3zM741.6 241.5h3v1.5h-3zM960.6 361.5h3v1.5h-3zM1398.6 436.5h3v1.5h-3zM596.1 265.5h3v1.5h-3zM639.6 265.5h6v1.5h-6zM695.1 246h3v1.5h-3zM858.6 327h3v1.5h-3zM954.6 358.5h3v1.5h-3zM1248.6 388.5h6v1.5h-6zM957.6 360h3v1.5h-3zM1175.1 438h3v1.5h-3zM1401.6 438h3v1.5h-3zM851.1 324h4.5v1.5h-4.5zM825.6 318h3v1.5h-3zM803.1 307.5h3v1.5h-3zM24.6 214.5h3v1.5h-3zM41.1 214.5h3v1.5h-3zM1092.6 454.5h3v1.5h-3zM1149.6 454.5h3v1.5h-3zM869.1 331.5h3v1.5h-3zM797.1 304.5h3v1.5h-3zM539.1 177h3v1.5h-3zM1179.6 435h3v1.5h-3zM1395.6 435h3v1.5h-3zM243.6 81h3v1.5h-3zM1188.6 429h3v1.5h-3zM1385.1 429h3v1.5h-3zM1167.6 442.5h3v1.5h-3zM1407.6 442.5h3v1.5h-3zM1388.1 430.5h3v1.5h-3zM711.6 238.5h4.5v1.5h-4.5zM735.6 238.5h3v1.5h-3zM975.6 373.5h3v1.5h-3zM806.1 309h4.5v1.5h-4.5zM1380.6 426h3v1.5h-3zM665.1 256.5h6v1.5h-6zM504.6 153h3v1.5h-3zM1100.1 457.5h3v1.5h-3zM1143.6 457.5h3v1.5h-3zM948.6 354h3v1.5h-3zM1230.6 391.5h4.5v1.5h-4.5zM1259.1 391.5h3v1.5h-3zM698.1 244.5h3v1.5h-3zM524.1 168h3v1.5h-3zM521.1 166.5h3v1.5h-3zM855.6 325.5h3v1.5h-3zM963.6 363h3v1.5h-3zM980.1 376.5h3v1.5h-3zM828.6 319.5h3v1.5h-3zM816.6 313.5h3v1.5h-3zM861.6 328.5h3v1.5h-3zM822.6 316.5h3v1.5h-3zM819.6 315h3v1.5h-3zM1422.6 453h3v1.5h-3zM1047.6 382.5h1.5v1.5h-1.5zM1089.6 450h1.5v1.5h-1.5zM1155.6 450h1.5v1.5h-1.5zM1431.6 459h1.5v1.5h-1.5zM6.6 192h1.5v3h-1.5zM60.6 192h1.5v3h-1.5zM549.6 190.5h1.5v3h-1.5zM131.1 100.5h1.5v1.5h-1.5zM458.1 100.5h1.5v1.5h-1.5zM146.1 93h1.5v1.5h-1.5zM168.6 91.5h1.5v3h-1.5zM272.1 93h1.5v1.5h-1.5zM450.6 93h1.5v1.5h-1.5zM585.6 250.5h1.5v1.5h-1.5zM18.6 207h1.5v1.5h-1.5zM51.6 207h1.5v1.5h-1.5zM558.6 207h1.5v3h-1.5zM1436.1 462h1.5v1.5h-1.5zM588.6 255h1.5v1.5h-1.5zM762.6 255h1.5v1.5h-1.5zM12.6 201h1.5v1.5h-1.5zM56.1 199.5h1.5v3h-1.5zM555.6 201h1.5v3h-1.5zM773.1 270h1.5v3h-1.5zM1070.1 414h1.5v3h-1.5zM1203.6 414h1.5v1.5h-1.5zM1067.1 408h1.5v3h-1.5zM1208.1 408h1.5v3h-1.5zM1286.1 409.5h1.5v1.5h-1.5zM1079.1 432h1.5v1.5h-1.5zM1185.6 432h1.5v1.5h-1.5zM1391.1 432h1.5v1.5h-1.5zM1061.1 397.5h1.5v3h-1.5zM1217.1 399h1.5v1.5h-1.5zM165.6 87h1.5v3h-1.5zM233.1 88.5h1.5v1.5h-1.5zM267.6 88.5h1.5v1.5h-1.5zM587.1 252h1.5v3h-1.5zM122.1 106.5h1.5v1.5h-1.5zM294.6 106.5h1.5v1.5h-1.5zM357.6 106.5h1.5v1.5h-1.5zM464.1 106.5h1.5v1.5h-1.5zM117.6 111h1.5v1.5h-1.5zM351.6 111h1.5v1.5h-1.5zM470.1 111h1.5v1.5h-1.5zM23.1 213h1.5v1.5h-1.5zM44.1 213h1.5v1.5h-1.5zM561.6 213h1.5v3h-1.5zM1058.1 394.5h1.5v1.5h-1.5zM1265.1 394.5h1.5v1.5h-1.5zM1064.1 403.5h1.5v3h-1.5zM1211.1 405h1.5v1.5h-1.5zM1281.6 405h1.5v1.5h-1.5zM114.6 114h1.5v1.5h-1.5zM473.1 114h1.5v3h-1.5zM1062.6 400.5h1.5v3h-1.5zM1214.1 402h1.5v1.5h-1.5zM602.1 268.5h1.5v1.5h-1.5zM771.6 267h1.5v3h-1.5zM1076.1 426h1.5v3h-1.5zM1191.6 427.5h1.5v1.5h-1.5zM1383.6 427.5h1.5v1.5h-1.5zM171.6 96h1.5v1.5h-1.5zM276.6 96h1.5v1.5h-1.5zM453.6 96h1.5v1.5h-1.5zM150.6 90h1.5v1.5h-1.5zM167.1 90h1.5v1.5h-1.5zM231.6 90h1.5v1.5h-1.5zM269.1 90h1.5v1.5h-1.5zM582.6 246h1.5v3h-1.5zM1073.1 420h1.5v3h-1.5zM1196.1 421.5h1.5v1.5h-1.5zM1376.1 421.5h1.5v1.5h-1.5zM86.1 154.5h1.5v3h-1.5zM507.6 154.5h1.5v1.5h-1.5zM593.1 261h1.5v3h-1.5zM656.1 261h1.5v1.5h-1.5zM767.1 261h1.5v1.5h-1.5zM779.1 279h1.5v3h-1.5zM1284.6 408h1.5v1.5h-1.5zM1359.6 408h1.5v1.5h-1.5zM591.6 259.5h1.5v1.5h-1.5zM765.6 259.5h1.5v1.5h-1.5zM119.1 109.5h1.5v1.5h-1.5zM468.6 109.5h1.5v1.5h-1.5zM236.1 85.5h1.5v1.5h-1.5zM264.6 85.5h1.5v1.5h-1.5zM99.6 138h1.5v3h-1.5zM491.1 139.5h1.5v1.5h-1.5zM9.6 196.5h1.5v3h-1.5zM59.1 195h1.5v3h-1.5zM552.6 195h1.5v3h-1.5zM578.1 240h1.5v3h-1.5zM71.1 175.5h1.5v1.5h-1.5zM15.6 204h1.5v1.5h-1.5zM53.1 204h1.5v3h-1.5zM557.1 204h1.5v3h-1.5zM768.6 262.5h1.5v3h-1.5zM936.6 340.5h1.5v1.5h-1.5zM1106.1 460.5h1.5v1.5h-1.5zM455.1 97.5h1.5v1.5h-1.5zM98.1 141h1.5v1.5h-1.5zM492.6 141h1.5v1.5h-1.5zM270.6 91.5h1.5v1.5h-1.5zM170.1 94.5h1.5v1.5h-1.5zM452.1 94.5h1.5v1.5h-1.5zM1049.1 384h1.5v3h-1.5zM1080.6 433.5h1.5v3h-1.5zM11.1 199.5h1.5v1.5h-1.5zM554.1 198h1.5v3h-1.5zM74.1 171h1.5v1.5h-1.5zM530.1 171h1.5v1.5h-1.5zM75.6 168h1.5v3h-1.5zM78.6 165h1.5v1.5h-1.5zM1202.1 415.5h1.5v1.5h-1.5zM1370.1 415.5h1.5v1.5h-1.5zM234.6 87h1.5v1.5h-1.5zM266.1 87h1.5v1.5h-1.5zM111.6 117h1.5v1.5h-1.5zM474.6 117h1.5v1.5h-1.5zM947.1 352.5h1.5v1.5h-1.5zM1053.6 390h1.5v1.5h-1.5zM575.1 237h1.5v1.5h-1.5zM716.1 237h1.5v1.5h-1.5zM72.6 172.5h1.5v3h-1.5zM291.6 103.5h1.5v1.5h-1.5zM360.6 103.5h1.5v1.5h-1.5zM461.1 103.5h1.5v1.5h-1.5zM1071.6 417h1.5v3h-1.5zM1200.6 417h1.5v1.5h-1.5zM1371.6 417h1.5v1.5h-1.5zM1065.6 406.5h1.5v1.5h-1.5zM1209.6 406.5h1.5v1.5h-1.5zM1283.1 406.5h1.5v1.5h-1.5zM89.1 150h1.5v3h-1.5zM503.1 151.5h1.5v1.5h-1.5zM1074.6 423h1.5v3h-1.5zM1194.6 423h1.5v3h-1.5zM1377.6 423h1.5v1.5h-1.5zM569.1 228h1.5v3h-1.5zM39.6 216h1.5v1.5h-1.5zM563.1 216h1.5v3h-1.5zM21.6 210h1.5v3h-1.5zM560.1 210h1.5v3h-1.5zM105.6 126h1.5v3h-1.5zM480.6 126h1.5v3h-1.5zM573.6 234h1.5v3h-1.5zM1086.6 445.5h1.5v3h-1.5zM1412.1 445.5h1.5v1.5h-1.5zM116.1 112.5h1.5v1.5h-1.5zM471.6 112.5h1.5v1.5h-1.5zM62.1 189h1.5v3h-1.5zM548.1 189h1.5v1.5h-1.5zM66.6 183h1.5v1.5h-1.5zM545.1 183h1.5v3h-1.5zM1091.1 451.5h1.5v3h-1.5zM1154.1 451.5h1.5v1.5h-1.5zM80.1 163.5h1.5v1.5h-1.5zM84.6 157.5h1.5v1.5h-1.5zM510.6 157.5h1.5v1.5h-1.5zM969.6 367.5h1.5v1.5h-1.5zM8.1 195h1.5v1.5h-1.5zM102.6 132h1.5v3h-1.5zM485.1 132h1.5v3h-1.5zM113.1 115.5h1.5v1.5h-1.5zM761.1 253.5h1.5v1.5h-1.5zM594.6 264h1.5v1.5h-1.5zM1068.6 411h1.5v3h-1.5zM1205.1 412.5h1.5v1.5h-1.5zM1365.6 412.5h1.5v1.5h-1.5zM120.6 108h1.5v1.5h-1.5zM356.1 108h1.5v1.5h-1.5zM579.6 243h1.5v1.5h-1.5zM701.1 243h1.5v1.5h-1.5zM1085.1 442.5h1.5v3h-1.5zM1410.6 444h1.5v1.5h-1.5zM501.6 150h1.5v1.5h-1.5zM551.1 193.5h1.5v1.5h-1.5zM1379.1 424.5h1.5v1.5h-1.5zM1059.6 396h1.5v1.5h-1.5zM1266.6 396h1.5v1.5h-1.5zM96.6 142.5h1.5v1.5h-1.5zM494.1 142.5h1.5v1.5h-1.5zM567.6 225h1.5v3h-1.5zM1083.6 439.5h1.5v3h-1.5zM1406.1 441h1.5v1.5h-1.5zM107.1 123h1.5v3h-1.5zM479.1 123h1.5v3h-1.5zM590.1 256.5h1.5v3h-1.5zM764.1 256.5h1.5v3h-1.5zM584.1 249h1.5v1.5h-1.5zM753.6 249h1.5v1.5h-1.5zM783.6 286.5h1.5v3h-1.5zM968.1 366h1.5v1.5h-1.5zM788.1 295.5h1.5v1.5h-1.5zM81.6 160.5h1.5v3h-1.5zM512.1 159h1.5v3h-1.5zM777.6 277.5h1.5v1.5h-1.5zM1056.6 393h1.5v1.5h-1.5zM198.6 102h1.5v1.5h-1.5zM362.1 102h1.5v1.5h-1.5zM459.6 102h1.5v1.5h-1.5zM513.6 162h1.5v1.5h-1.5zM1215.6 400.5h1.5v1.5h-1.5zM176.1 99h1.5v1.5h-1.5zM203.1 99h1.5v1.5h-1.5zM456.6 99h1.5v1.5h-1.5zM20.1 208.5h1.5v1.5h-1.5zM50.1 208.5h1.5v1.5h-1.5zM1158.6 447h1.5v1.5h-1.5zM1413.6 447h1.5v1.5h-1.5zM1212.6 403.5h1.5v1.5h-1.5zM1280.1 403.5h1.5v1.5h-1.5zM1218.6 397.5h1.5v1.5h-1.5zM1206.6 411h1.5v1.5h-1.5zM1364.1 411h1.5v1.5h-1.5zM776.1 274.5h1.5v3h-1.5zM1082.1 436.5h1.5v3h-1.5zM1178.1 436.5h1.5v1.5h-1.5zM108.6 120h1.5v3h-1.5zM477.6 120h1.5v3h-1.5zM770.1 265.5h1.5v1.5h-1.5zM782.1 283.5h1.5v3h-1.5zM749.1 246h1.5v1.5h-1.5zM1052.1 388.5h1.5v1.5h-1.5zM83.1 159h1.5v1.5h-1.5zM14.1 202.5h1.5v1.5h-1.5zM54.6 202.5h1.5v1.5h-1.5zM1173.6 439.5h1.5v1.5h-1.5zM1404.6 439.5h1.5v1.5h-1.5zM566.1 222h1.5v3h-1.5zM786.6 292.5h1.5v3h-1.5zM1425.6 454.5h1.5v1.5h-1.5zM572.1 232.5h1.5v1.5h-1.5zM780.6 282h1.5v1.5h-1.5zM69.6 177h1.5v3h-1.5zM938.1 342h1.5v1.5h-1.5zM1077.6 429h1.5v3h-1.5zM939.6 343.5h1.5v1.5h-1.5zM1187.1 430.5h1.5v1.5h-1.5zM95.1 144h1.5v1.5h-1.5zM495.6 144h1.5v1.5h-1.5zM576.6 238.5h1.5v1.5h-1.5zM1193.1 426h1.5v1.5h-1.5zM978.6 375h1.5v1.5h-1.5zM87.6 153h1.5v1.5h-1.5zM1430.1 457.5h1.5v1.5h-1.5zM1055.1 391.5h1.5v1.5h-1.5zM65.1 184.5h1.5v3h-1.5zM101.1 135h1.5v3h-1.5zM486.6 135h1.5v1.5h-1.5zM785.1 289.5h1.5v3h-1.5zM815.1 312h1.5v1.5h-1.5zM17.1 205.5h1.5v1.5h-1.5zM104.1 129h1.5v3h-1.5zM483.6 130.5h1.5v1.5h-1.5zM1050.6 387h1.5v1.5h-1.5zM570.6 231h1.5v1.5h-1.5zM482.1 129h1.5v1.5h-1.5zM564.6 219h1.5v3h-1.5zM110.1 118.5h1.5v1.5h-1.5zM476.1 118.5h1.5v1.5h-1.5zM45.6 211.5h1.5v1.5h-1.5zM581.1 244.5h1.5v1.5h-1.5zM747.6 244.5h1.5v1.5h-1.5zM791.1 298.5h1.5v1.5h-1.5zM971.1 369h1.5v1.5h-1.5zM942.6 346.5h1.5v3h-1.5zM1088.1 448.5h1.5v1.5h-1.5zM1157.1 448.5h1.5v1.5h-1.5zM1415.1 448.5h1.5v1.5h-1.5zM1197.6 420h1.5v1.5h-1.5zM1374.6 420h1.5v1.5h-1.5zM489.6 138h1.5v1.5h-1.5zM77.1 166.5h1.5v1.5h-1.5zM542.1 178.5h1.5v1.5h-1.5zM789.6 297h1.5v1.5h-1.5zM92.1 147h1.5v1.5h-1.5zM498.6 147h1.5v1.5h-1.5zM93.6 145.5h1.5v1.5h-1.5zM497.1 145.5h1.5v1.5h-1.5zM63.6 187.5h1.5v1.5h-1.5zM546.6 186h1.5v3h-1.5zM123.6 105h1.5v1.5h-1.5zM293.1 105h1.5v1.5h-1.5zM359.1 105h1.5v1.5h-1.5zM462.6 105h1.5v1.5h-1.5zM57.6 198h1.5v1.5h-1.5zM941.1 345h1.5v1.5h-1.5zM1199.1 418.5h1.5v1.5h-1.5zM1373.1 418.5h1.5v1.5h-1.5zM68.1 180h1.5v3h-1.5zM543.6 180h1.5v3h-1.5zM509.1 156h1.5v1.5h-1.5zM951.6 355.5h1.5v1.5h-1.5zM953.1 357h1.5v1.5h-1.5zM972.6 370.5h1.5v1.5h-1.5zM974.1 372h1.5v1.5h-1.5zM534.6 174h1.5v1.5h-1.5zM1152.6 453h1.5v1.5h-1.5zM792.6 300h1.5v1.5h-1.5zM5.1 190.5h1.5v1.5h-1.5zM794.1 301.5h1.5v1.5h-1.5zM935.1 339h1.5v1.5h-1.5zM944.1 349.5h1.5v1.5h-1.5zM945.6 351h1.5v1.5h-1.5zM90.6 148.5h1.5v1.5h-1.5zM500.1 148.5h1.5v1.5h-1.5zM488.1 136.5h1.5v1.5h-1.5zM966.6 364.5h1.5v1.5h-1.5zM774.6 273h1.5v1.5h-1.5zM795.6 303h1.5v1.5h-1.5z"/>
<path fill="#ffffff" d="M797.1 325.5h3v1.5h-3zM887.1 325.5h3v1.5h-3zM896.1 325.5h3v1.5h-3zM677.1 241.5h3v1.5h-3zM995.1 385.5h3v1.5h-3zM698.1 238.5h13.5v1.5h-13.5zM140.1 85.5h3v1.5h-3zM381.6 85.5h12v1.5h-12zM419.1 85.5h7.5v1.5h-7.5zM437.1 85.5h3v1.5h-3zM483.6 162h3v1.5h-3zM492.6 162h6v1.5h-6zM680.1 240h3v1.5h-3zM671.1 244.5h3v1.5h-3zM786.6 327h4.5v1.5h-4.5zM884.1 327h3v1.5h-3zM899.1 327h3v1.5h-3zM851.1 342h3v1.5h-3zM864.6 342h3v1.5h-3zM90.6 124.5h9v1.5h-9zM645.6 268.5h10.5v1.5h-10.5zM1400.1 451.5h3v1.5h-3zM1308.6 403.5h3v1.5h-3zM299.1 118.5h3v1.5h-3zM80.1 132h3v1.5h-3zM144.6 88.5h9v1.5h-9zM363.6 88.5h3v1.5h-3zM413.1 88.5h3v1.5h-3zM719.1 234h6v1.5h-6zM731.1 234h4.5v1.5h-4.5zM1022.1 367.5h3v1.5h-3zM1344.6 412.5h7.5v1.5h-7.5zM791.1 328.5h4.5v1.5h-4.5zM881.1 328.5h3v1.5h-3zM134.1 81h3v1.5h-3zM614.1 259.5h3v1.5h-3zM1016.1 369h6v1.5h-6zM977.1 388.5h16.5v1.5h-16.5zM302.1 117h9v1.5h-9zM371.1 84h3v1.5h-3zM378.6 84h3v1.5h-3zM426.6 84h10.5v1.5h-10.5zM212.1 73.5h3v1.5h-3zM890.1 324h6v1.5h-6zM1139.1 459h10.5v1.5h-10.5zM1421.1 459h4.5v1.5h-4.5zM335.1 111h9v1.5h-9zM1439.1 475.5h3v1.5h-3zM180.6 115.5h12v1.5h-12zM159.6 91.5h3v1.5h-3zM246.6 91.5h3v1.5h-3zM402.6 91.5h7.5v1.5h-7.5zM1008.6 373.5h3v1.5h-3zM215.1 72h6v1.5h-6zM1314.6 399h3v1.5h-3zM1328.1 399h3v1.5h-3zM270.6 103.5h3v1.5h-3zM279.6 103.5h4.5v1.5h-4.5zM162.6 93h3v1.5h-3zM249.6 93h3v1.5h-3zM1224.6 378h3v1.5h-3zM1238.1 381h3v1.5h-3zM1289.1 423h3v1.5h-3zM576.6 279h3v1.5h-3zM584.1 279h3v1.5h-3zM590.1 279h3v1.5h-3zM519.6 168h3v1.5h-3zM221.1 70.5h10.5v1.5h-10.5zM1230.6 375h3v1.5h-3zM177.6 114h3v1.5h-3zM192.6 114h3v1.5h-3zM329.1 114h3v1.5h-3zM5.1 228h3v1.5h-3zM15.6 228h4.5v1.5h-4.5zM810.6 309h3v1.5h-3zM1122.6 447h4.5v1.5h-4.5zM1352.1 414h3v1.5h-3zM692.1 237h6v1.5h-6zM711.6 237h4.5v1.5h-4.5zM1185.6 408h3v1.5h-3zM1194.6 408h4.5v1.5h-4.5zM816.6 304.5h3v1.5h-3zM821.1 304.5h3v1.5h-3zM1118.1 448.5h4.5v1.5h-4.5zM1392.6 448.5h3v1.5h-3zM635.1 265.5h3v1.5h-3zM366.6 87h3v1.5h-3zM393.6 87h4.5v1.5h-4.5zM416.1 87h3v1.5h-3zM440.1 87h3v1.5h-3zM848.1 340.5h3v1.5h-3zM915.6 340.5h3v1.5h-3zM252.6 94.5h3v1.5h-3zM195.6 112.5h3v1.5h-3zM332.1 112.5h3v1.5h-3zM1136.1 457.5h3v1.5h-3zM1149.6 457.5h4.5v1.5h-4.5zM1416.6 457.5h4.5v1.5h-4.5zM153.6 90h6v1.5h-6zM399.6 90h3v1.5h-3zM410.1 90h3v1.5h-3zM1208.1 397.5h3v1.5h-3zM1317.6 397.5h3v1.5h-3zM1325.1 397.5h3v1.5h-3zM1188.6 409.5h6v1.5h-6zM1340.1 409.5h3v1.5h-3zM923.1 346.5h3v1.5h-3zM296.1 120h3v1.5h-3zM321.6 120h3v1.5h-3zM617.1 258h3v1.5h-3zM624.6 258h4.5v1.5h-4.5zM1227.6 376.5h3v1.5h-3zM486.6 163.5h6v1.5h-6zM498.6 163.5h13.5v1.5h-13.5zM926.1 348h9v1.5h-9zM273.6 105h6v1.5h-6zM909.6 336h3v1.5h-3zM948.6 366h3v1.5h-3zM1025.1 366h3v1.5h-3zM689.1 235.5h3v1.5h-3zM716.1 235.5h3v1.5h-3zM255.6 96h9v1.5h-9zM876.6 331.5h3v1.5h-3zM1268.1 417h3v1.5h-3zM972.6 387h4.5v1.5h-4.5zM854.1 343.5h3v1.5h-3zM861.6 343.5h3v1.5h-3zM87.6 126h3v1.5h-3zM638.1 267h7.5v1.5h-7.5zM1181.1 411h3v1.5h-3zM1274.1 420h3v1.5h-3zM1362.6 420h3v1.5h-3zM1320.6 396h4.5v1.5h-4.5zM674.1 243h3v1.5h-3zM1277.1 421.5h3v1.5h-3zM611.1 261h3v1.5h-3zM512.1 165h4.5v1.5h-4.5zM374.1 82.5h4.5v1.5h-4.5zM1385.1 444h3v1.5h-3zM1403.1 453h9v1.5h-9zM285.6 106.5h3v1.5h-3zM579.6 277.5h4.5v1.5h-4.5zM593.1 277.5h3v1.5h-3zM8.1 229.5h7.5v1.5h-7.5zM318.6 121.5h3v1.5h-3zM1305.6 405h3v1.5h-3zM1395.6 450h4.5v1.5h-4.5zM315.6 123h3v1.5h-3zM1388.1 445.5h3v1.5h-3zM956.1 372h3v1.5h-3zM725.1 232.5h6v1.5h-6zM1442.1 477h3v1.5h-3zM1133.1 456h3v1.5h-3zM1413.6 456h3v1.5h-3zM1271.1 418.5h3v1.5h-3zM1359.6 418.5h3v1.5h-3zM1355.1 415.5h3v1.5h-3zM1281.6 424.5h3v1.5h-3zM1286.1 424.5h3v1.5h-3zM620.1 256.5h4.5v1.5h-4.5zM587.1 280.5h3v1.5h-3zM516.6 166.5h3v1.5h-3zM1013.1 370.5h3v1.5h-3zM824.1 306h3v1.5h-3zM20.1 226.5h3v1.5h-3zM1241.1 382.5h4.5v1.5h-4.5zM857.1 345h4.5v1.5h-4.5zM1088.1 480h3v1.5h-3zM23.1 225h3v1.5h-3zM1091.1 481.5h3v1.5h-3zM1085.1 478.5h3v1.5h-3zM786.6 325.5h1.5v1.5h-1.5zM837.6 324h1.5v3h-1.5zM941.1 357h1.5v1.5h-1.5zM69.6 145.5h1.5v3h-1.5zM474.6 145.5h1.5v3h-1.5zM777.6 309h1.5v3h-1.5zM809.1 310.5h1.5v1.5h-1.5zM828.6 309h1.5v3h-1.5zM842.1 331.5h1.5v3h-1.5zM875.1 333h1.5v1.5h-1.5zM906.6 333h1.5v1.5h-1.5zM1076.1 465h1.5v3h-1.5zM1103.1 466.5h1.5v3h-1.5zM1430.1 466.5h1.5v1.5h-1.5zM65.1 154.5h1.5v3h-1.5zM479.1 153h1.5v3h-1.5zM558.6 240h1.5v4.5h-1.5zM740.1 241.5h1.5v1.5h-1.5zM783.6 319.5h1.5v3h-1.5zM801.6 321h1.5v3h-1.5zM834.6 319.5h1.5v3h-1.5zM971.1 385.5h1.5v1.5h-1.5zM1041.6 385.5h1.5v1.5h-1.5zM1220.1 384h1.5v3h-1.5zM1247.1 385.5h1.5v1.5h-1.5zM557.1 234h1.5v6h-1.5zM683.1 238.5h1.5v1.5h-1.5zM737.1 237h1.5v3h-1.5zM779.1 312h1.5v3h-1.5zM807.6 312h1.5v1.5h-1.5zM830.1 312h1.5v3h-1.5zM123.6 85.5h1.5v1.5h-1.5zM206.1 84h1.5v3h-1.5zM240.6 84h1.5v3h-1.5zM369.6 85.5h1.5v1.5h-1.5zM62.1 160.5h1.5v3h-1.5zM75.6 136.5h1.5v3h-1.5zM468.6 135h1.5v3h-1.5zM480.6 156h1.5v3h-1.5zM806.1 313.5h1.5v3h-1.5zM738.6 240h1.5v1.5h-1.5zM560.1 244.5h1.5v6h-1.5zM743.1 244.5h1.5v1.5h-1.5zM795.6 327h1.5v1.5h-1.5zM839.1 327h1.5v3h-1.5zM54.6 178.5h1.5v3h-1.5zM530.1 178.5h1.5v1.5h-1.5zM63.6 157.5h1.5v3h-1.5zM918.6 342h1.5v1.5h-1.5zM462.6 123h1.5v3h-1.5zM27.6 220.5h1.5v3h-1.5zM551.1 217.5h1.5v4.5h-1.5zM470.1 138h1.5v3h-1.5zM569.1 268.5h1.5v3h-1.5zM603.6 268.5h1.5v1.5h-1.5zM758.1 268.5h1.5v3h-1.5zM1070.1 451.5h1.5v4.5h-1.5zM1116.6 450h1.5v3h-1.5zM1128.6 450h1.5v3h-1.5zM1155.6 451.5h1.5v3h-1.5zM1050.6 403.5h1.5v4.5h-1.5zM1202.1 403.5h1.5v1.5h-1.5zM1259.1 403.5h1.5v3h-1.5zM1334.1 403.5h1.5v1.5h-1.5zM101.1 118.5h1.5v3h-1.5zM294.6 117h1.5v3h-1.5zM311.1 118.5h1.5v1.5h-1.5zM324.6 118.5h1.5v1.5h-1.5zM459.6 117h1.5v3h-1.5zM39.6 205.5h1.5v3h-1.5zM546.6 205.5h1.5v4.5h-1.5zM467.1 132h1.5v3h-1.5zM120.6 88.5h1.5v3h-1.5zM204.6 87h1.5v3h-1.5zM243.6 88.5h1.5v1.5h-1.5zM398.1 88.5h1.5v1.5h-1.5zM443.1 88.5h1.5v1.5h-1.5zM666.6 249h1.5v3h-1.5zM746.1 249h1.5v1.5h-1.5zM45.6 195h1.5v3h-1.5zM542.1 193.5h1.5v3h-1.5zM687.6 234h1.5v1.5h-1.5zM951.6 367.5h1.5v1.5h-1.5zM1028.1 367.5h1.5v1.5h-1.5zM1053.6 412.5h1.5v3h-1.5zM1179.6 412.5h1.5v1.5h-1.5zM1263.6 411h1.5v3h-1.5zM1299.6 412.5h1.5v1.5h-1.5zM531.6 180h1.5v3h-1.5zM1079.1 471h1.5v1.5h-1.5zM1100.1 471h1.5v1.5h-1.5zM1434.6 471h1.5v1.5h-1.5zM902.1 328.5h1.5v1.5h-1.5zM128.1 81h1.5v1.5h-1.5zM207.6 81h1.5v3h-1.5zM237.6 81h1.5v1.5h-1.5zM563.1 255h1.5v3h-1.5zM662.1 255h1.5v3h-1.5zM750.6 255h1.5v3h-1.5zM564.6 258h1.5v4.5h-1.5zM629.1 259.5h1.5v1.5h-1.5zM659.1 259.5h1.5v3h-1.5zM752.1 258h1.5v3h-1.5zM767.1 288h1.5v3h-1.5zM953.1 369h1.5v1.5h-1.5zM1029.6 369h1.5v3h-1.5zM1044.6 388.5h1.5v3h-1.5zM1217.1 388.5h1.5v1.5h-1.5zM1250.1 388.5h1.5v1.5h-1.5zM51.6 184.5h1.5v3h-1.5zM536.1 186h1.5v1.5h-1.5zM102.6 115.5h1.5v3h-1.5zM326.1 117h1.5v1.5h-1.5zM26.1 223.5h1.5v1.5h-1.5zM552.6 222h1.5v4.5h-1.5zM125.1 84h1.5v1.5h-1.5zM138.6 84h1.5v1.5h-1.5zM231.6 72h1.5v3h-1.5zM843.6 334.5h1.5v1.5h-1.5zM873.6 334.5h1.5v1.5h-1.5zM908.1 334.5h1.5v1.5h-1.5zM785.1 322.5h1.5v3h-1.5zM800.1 324h1.5v1.5h-1.5zM114.6 96h1.5v3h-1.5zM167.1 97.5h1.5v3h-1.5zM201.6 94.5h1.5v6h-1.5zM264.6 97.5h1.5v1.5h-1.5zM356.1 97.5h1.5v1.5h-1.5zM449.1 96h1.5v3h-1.5zM1073.1 459h1.5v3h-1.5zM1110.6 459h1.5v1.5h-1.5zM105.6 111h1.5v3h-1.5zM174.6 109.5h1.5v3h-1.5zM197.1 111h1.5v1.5h-1.5zM291.6 111h1.5v3h-1.5zM456.6 111h1.5v3h-1.5zM1082.1 474h1.5v3h-1.5zM1097.1 474h1.5v3h-1.5zM293.1 114h1.5v3h-1.5zM327.6 115.5h1.5v1.5h-1.5zM458.1 114h1.5v3h-1.5zM119.1 91.5h1.5v1.5h-1.5zM203.1 90h1.5v4.5h-1.5zM360.6 91.5h1.5v1.5h-1.5zM446.1 91.5h1.5v3h-1.5zM965.1 379.5h1.5v1.5h-1.5zM1002.6 379.5h1.5v1.5h-1.5zM1037.1 379.5h1.5v1.5h-1.5zM1223.1 379.5h1.5v3h-1.5zM1236.6 379.5h1.5v1.5h-1.5zM959.1 373.5h1.5v1.5h-1.5zM1032.6 373.5h1.5v1.5h-1.5zM210.6 75h1.5v3h-1.5zM233.1 75h1.5v1.5h-1.5zM1049.1 399h1.5v4.5h-1.5zM1206.6 399h1.5v1.5h-1.5zM1256.1 397.5h1.5v3h-1.5zM110.1 102h1.5v3h-1.5zM170.1 103.5h1.5v3h-1.5zM200.1 100.5h1.5v4.5h-1.5zM350.1 103.5h1.5v1.5h-1.5zM452.1 102h1.5v3h-1.5zM117.6 93h1.5v1.5h-1.5zM359.1 93h1.5v3h-1.5zM963.6 378h1.5v1.5h-1.5zM1004.1 378h1.5v1.5h-1.5zM1035.6 376.5h1.5v3h-1.5zM1235.1 378h1.5v1.5h-1.5zM966.6 381h1.5v1.5h-1.5zM1001.1 381h1.5v1.5h-1.5zM1038.6 381h1.5v1.5h-1.5zM1058.1 423h1.5v3h-1.5zM1172.1 423h1.5v1.5h-1.5zM1280.1 423h1.5v1.5h-1.5zM1367.1 423h1.5v1.5h-1.5zM1059.6 426h1.5v4.5h-1.5zM1169.1 427.5h1.5v1.5h-1.5zM1371.6 427.5h1.5v1.5h-1.5zM573.6 277.5h1.5v3h-1.5zM762.6 277.5h1.5v3h-1.5zM572.1 274.5h1.5v3h-1.5zM596.1 276h1.5v1.5h-1.5zM761.1 274.5h1.5v3h-1.5zM59.1 168h1.5v3h-1.5zM1113.6 454.5h1.5v3h-1.5zM1131.6 454.5h1.5v1.5h-1.5zM1154.1 454.5h1.5v3h-1.5zM1412.1 454.5h1.5v1.5h-1.5zM840.6 330h1.5v1.5h-1.5zM879.6 330h1.5v1.5h-1.5zM903.6 330h1.5v1.5h-1.5zM960.6 375h1.5v1.5h-1.5zM1007.1 375h1.5v1.5h-1.5zM1034.1 375h1.5v1.5h-1.5zM104.1 114h1.5v1.5h-1.5zM129.6 79.5h1.5v1.5h-1.5zM132.6 79.5h1.5v1.5h-1.5zM209.1 78h1.5v3h-1.5zM236.1 79.5h1.5v1.5h-1.5zM1077.6 468h1.5v3h-1.5zM1101.6 469.5h1.5v1.5h-1.5zM1433.1 469.5h1.5v1.5h-1.5zM845.1 336h1.5v3h-1.5zM870.6 337.5h1.5v1.5h-1.5zM912.6 337.5h1.5v1.5h-1.5zM1167.6 429h1.5v1.5h-1.5zM1373.1 429h1.5v1.5h-1.5zM1170.6 424.5h1.5v3h-1.5zM1284.6 426h1.5v1.5h-1.5zM1370.1 426h1.5v1.5h-1.5zM554.1 226.5h1.5v3h-1.5zM113.1 99h1.5v1.5h-1.5zM266.1 99h1.5v1.5h-1.5zM354.6 99h1.5v1.5h-1.5zM450.6 99h1.5v3h-1.5zM1067.1 444h1.5v4.5h-1.5zM1158.6 445.5h1.5v3h-1.5zM1391.1 447h1.5v1.5h-1.5zM1178.1 414h1.5v1.5h-1.5zM1265.1 414h1.5v1.5h-1.5zM1298.1 414h1.5v1.5h-1.5zM66.6 151.5h1.5v3h-1.5zM771.6 297h1.5v3h-1.5zM803.1 319.5h1.5v1.5h-1.5zM1109.1 460.5h1.5v1.5h-1.5zM1425.6 460.5h1.5v1.5h-1.5zM969.6 384h1.5v1.5h-1.5zM998.1 384h1.5v1.5h-1.5zM1040.1 382.5h1.5v3h-1.5zM1245.6 384h1.5v1.5h-1.5zM1203.6 402h1.5v1.5h-1.5zM1257.6 400.5h1.5v3h-1.5zM1311.6 402h1.5v1.5h-1.5zM1332.6 402h1.5v1.5h-1.5zM86.1 127.5h1.5v1.5h-1.5zM464.1 126h1.5v3h-1.5zM684.6 237h1.5v1.5h-1.5zM1052.1 408h1.5v4.5h-1.5zM1262.1 408h1.5v3h-1.5zM1302.6 408h1.5v1.5h-1.5zM1338.6 408h1.5v1.5h-1.5zM1046.1 391.5h1.5v3h-1.5zM1214.1 393h1.5v1.5h-1.5zM1253.1 391.5h1.5v3h-1.5zM57.6 171h1.5v4.5h-1.5zM525.6 172.5h1.5v3h-1.5zM774.6 303h1.5v3h-1.5zM77.1 135h1.5v1.5h-1.5zM1068.6 448.5h1.5v3h-1.5zM1127.1 448.5h1.5v1.5h-1.5zM1157.1 448.5h1.5v3h-1.5zM567.6 265.5h1.5v3h-1.5zM606.6 265.5h1.5v1.5h-1.5zM656.1 265.5h1.5v3h-1.5zM755.1 264h1.5v3h-1.5zM122.1 87h1.5v1.5h-1.5zM143.1 87h1.5v1.5h-1.5zM242.1 87h1.5v1.5h-1.5zM782.1 316.5h1.5v3h-1.5zM804.6 316.5h1.5v3h-1.5zM833.1 318h1.5v1.5h-1.5zM867.6 340.5h1.5v1.5h-1.5zM116.1 94.5h1.5v1.5h-1.5zM165.6 94.5h1.5v3h-1.5zM447.6 94.5h1.5v1.5h-1.5zM561.6 250.5h1.5v4.5h-1.5zM665.1 252h1.5v1.5h-1.5zM749.1 252h1.5v3h-1.5zM176.1 112.5h1.5v1.5h-1.5zM1071.6 456h1.5v3h-1.5zM1112.1 457.5h1.5v1.5h-1.5zM245.1 90h1.5v1.5h-1.5zM362.1 90h1.5v1.5h-1.5zM444.6 90h1.5v1.5h-1.5zM1047.6 394.5h1.5v4.5h-1.5zM534.6 184.5h1.5v1.5h-1.5zM1184.1 409.5h1.5v1.5h-1.5zM1301.1 409.5h1.5v3h-1.5zM74.1 139.5h1.5v1.5h-1.5zM1074.6 462h1.5v3h-1.5zM1106.1 463.5h1.5v1.5h-1.5zM1427.1 462h1.5v3h-1.5zM1437.6 474h1.5v1.5h-1.5zM312.6 120h1.5v1.5h-1.5zM461.1 120h1.5v3h-1.5zM660.6 258h1.5v1.5h-1.5zM168.6 100.5h1.5v3h-1.5zM269.1 102h1.5v1.5h-1.5zM351.6 102h1.5v1.5h-1.5zM945.6 363h1.5v1.5h-1.5zM962.1 376.5h1.5v1.5h-1.5zM1005.6 376.5h1.5v1.5h-1.5zM1233.6 376.5h1.5v1.5h-1.5zM60.6 163.5h1.5v4.5h-1.5zM776.1 306h1.5v3h-1.5zM813.6 307.5h1.5v1.5h-1.5zM827.1 307.5h1.5v1.5h-1.5zM1061.1 430.5h1.5v3h-1.5zM1166.1 430.5h1.5v3h-1.5zM1376.1 432h1.5v1.5h-1.5zM108.6 105h1.5v3h-1.5zM198.6 105h1.5v6h-1.5zM284.1 105h1.5v1.5h-1.5zM348.6 105h1.5v1.5h-1.5zM453.6 105h1.5v3h-1.5zM872.1 336h1.5v1.5h-1.5zM947.1 364.5h1.5v1.5h-1.5zM566.1 262.5h1.5v3h-1.5zM609.6 262.5h1.5v1.5h-1.5zM632.1 262.5h1.5v1.5h-1.5zM657.6 262.5h1.5v3h-1.5zM753.6 261h1.5v3h-1.5zM686.1 235.5h1.5v1.5h-1.5zM735.6 235.5h1.5v1.5h-1.5zM72.6 141h1.5v3h-1.5zM473.1 142.5h1.5v3h-1.5zM765.6 285h1.5v3h-1.5zM50.1 187.5h1.5v3h-1.5zM539.1 189h1.5v3h-1.5zM770.1 294h1.5v3h-1.5zM68.1 148.5h1.5v3h-1.5zM477.6 150h1.5v3h-1.5zM357.6 96h1.5v1.5h-1.5zM905.1 331.5h1.5v1.5h-1.5zM1055.1 415.5h1.5v3h-1.5zM1176.6 415.5h1.5v3h-1.5zM1295.1 417h1.5v3h-1.5zM1358.1 417h1.5v1.5h-1.5zM33.6 214.5h1.5v1.5h-1.5zM549.6 214.5h1.5v3h-1.5zM993.6 387h1.5v1.5h-1.5zM1043.1 387h1.5v1.5h-1.5zM1218.6 387h1.5v1.5h-1.5zM1248.6 387h1.5v1.5h-1.5zM920.1 343.5h1.5v1.5h-1.5zM1215.6 390h1.5v3h-1.5zM131.1 78h1.5v1.5h-1.5zM234.6 76.5h1.5v3h-1.5zM1064.1 436.5h1.5v3h-1.5zM1163.1 436.5h1.5v3h-1.5zM1380.6 438h1.5v1.5h-1.5zM1065.6 439.5h1.5v4.5h-1.5zM1160.1 442.5h1.5v3h-1.5zM1383.6 442.5h1.5v1.5h-1.5zM605.1 267h1.5v1.5h-1.5zM756.6 267h1.5v1.5h-1.5zM831.6 315h1.5v3h-1.5zM1343.1 411h1.5v1.5h-1.5zM482.1 159h1.5v3h-1.5zM747.6 250.5h1.5v1.5h-1.5zM1056.6 418.5h1.5v4.5h-1.5zM1173.6 420h1.5v3h-1.5zM1293.6 420h1.5v1.5h-1.5zM84.6 129h1.5v1.5h-1.5zM465.6 129h1.5v3h-1.5zM29.1 219h1.5v1.5h-1.5zM1211.1 396h1.5v1.5h-1.5zM1254.6 394.5h1.5v3h-1.5zM741.6 243h1.5v1.5h-1.5zM935.1 349.5h1.5v1.5h-1.5zM780.6 315h1.5v1.5h-1.5zM1292.1 421.5h1.5v1.5h-1.5zM1365.6 421.5h1.5v1.5h-1.5zM630.6 261h1.5v1.5h-1.5zM56.1 175.5h1.5v3h-1.5zM528.6 177h1.5v1.5h-1.5zM1107.6 462h1.5v1.5h-1.5zM126.6 82.5h1.5v1.5h-1.5zM137.1 82.5h1.5v1.5h-1.5zM239.1 82.5h1.5v1.5h-1.5zM41.1 202.5h1.5v3h-1.5zM545.1 201h1.5v4.5h-1.5zM597.6 274.5h1.5v1.5h-1.5zM764.1 280.5h1.5v4.5h-1.5zM1115.1 453h1.5v1.5h-1.5zM1130.1 453h1.5v1.5h-1.5zM171.6 106.5h1.5v1.5h-1.5zM347.1 106.5h1.5v1.5h-1.5zM1374.6 430.5h1.5v1.5h-1.5zM555.6 229.5h1.5v4.5h-1.5zM99.6 121.5h1.5v3h-1.5zM314.1 121.5h1.5v1.5h-1.5zM537.6 187.5h1.5v1.5h-1.5zM1200.6 405h1.5v1.5h-1.5zM1335.6 405h1.5v1.5h-1.5zM476.1 148.5h1.5v1.5h-1.5zM1062.6 433.5h1.5v3h-1.5zM1164.6 433.5h1.5v3h-1.5zM1379.1 435h1.5v3h-1.5zM1011.6 372h1.5v1.5h-1.5zM1031.1 372h1.5v1.5h-1.5zM1083.6 477h1.5v1.5h-1.5zM1095.6 477h1.5v1.5h-1.5zM570.6 271.5h1.5v3h-1.5zM599.1 273h1.5v1.5h-1.5zM759.6 271.5h1.5v3h-1.5zM44.1 198h1.5v1.5h-1.5zM543.6 196.5h1.5v4.5h-1.5zM669.6 246h1.5v1.5h-1.5zM744.6 246h1.5v3h-1.5zM1175.1 418.5h1.5v1.5h-1.5zM1266.6 415.5h1.5v1.5h-1.5zM1296.6 415.5h1.5v1.5h-1.5zM522.6 169.5h1.5v1.5h-1.5zM1368.6 424.5h1.5v1.5h-1.5zM1080.6 472.5h1.5v1.5h-1.5zM1098.6 472.5h1.5v1.5h-1.5zM1436.1 472.5h1.5v1.5h-1.5zM608.1 264h1.5v1.5h-1.5zM633.6 264h1.5v1.5h-1.5zM42.6 199.5h1.5v3h-1.5zM575.1 280.5h1.5v1.5h-1.5zM1199.1 406.5h1.5v1.5h-1.5zM1260.6 406.5h1.5v1.5h-1.5zM1304.1 406.5h1.5v1.5h-1.5zM1337.1 406.5h1.5v1.5h-1.5zM668.1 247.5h1.5v1.5h-1.5zM954.6 370.5h1.5v1.5h-1.5zM48.6 190.5h1.5v3h-1.5zM30.6 217.5h1.5v1.5h-1.5zM35.1 211.5h1.5v3h-1.5zM548.1 210h1.5v4.5h-1.5zM32.1 216h1.5v1.5h-1.5zM540.6 192h1.5v1.5h-1.5zM815.1 306h1.5v1.5h-1.5zM1431.6 468h1.5v1.5h-1.5zM111.6 100.5h1.5v1.5h-1.5zM267.6 100.5h1.5v1.5h-1.5zM353.1 100.5h1.5v1.5h-1.5zM968.1 382.5h1.5v1.5h-1.5zM999.6 382.5h1.5v1.5h-1.5zM1221.6 382.5h1.5v1.5h-1.5zM1251.6 390h1.5v1.5h-1.5zM921.6 345h1.5v1.5h-1.5zM1104.6 465h1.5v1.5h-1.5zM1428.6 465h1.5v1.5h-1.5zM1161.6 439.5h1.5v3h-1.5zM1382.1 439.5h1.5v3h-1.5zM1094.1 478.5h1.5v3h-1.5zM471.6 141h1.5v1.5h-1.5zM107.1 108h1.5v3h-1.5zM290.1 109.5h1.5v1.5h-1.5zM344.1 109.5h1.5v1.5h-1.5zM455.1 108h1.5v3h-1.5zM938.1 354h1.5v1.5h-1.5zM846.6 339h1.5v1.5h-1.5zM869.1 339h1.5v1.5h-1.5zM914.1 339h1.5v1.5h-1.5zM602.1 270h1.5v1.5h-1.5zM836.1 322.5h1.5v1.5h-1.5zM1205.1 400.5h1.5v1.5h-1.5zM1313.1 400.5h1.5v1.5h-1.5zM1331.1 400.5h1.5v1.5h-1.5zM600.6 271.5h1.5v1.5h-1.5zM936.6 351h1.5v3h-1.5zM83.1 130.5h1.5v1.5h-1.5zM53.1 181.5h1.5v3h-1.5zM533.1 183h1.5v1.5h-1.5zM71.1 144h1.5v1.5h-1.5zM47.1 193.5h1.5v1.5h-1.5zM942.6 358.5h1.5v3h-1.5zM773.1 300h1.5v3h-1.5zM38.1 208.5h1.5v1.5h-1.5zM1377.6 433.5h1.5v1.5h-1.5zM524.1 171h1.5v1.5h-1.5zM1212.6 394.5h1.5v1.5h-1.5zM527.1 175.5h1.5v1.5h-1.5zM173.1 108h1.5v1.5h-1.5zM288.6 108h1.5v1.5h-1.5zM345.6 108h1.5v1.5h-1.5zM663.6 253.5h1.5v1.5h-1.5zM939.6 355.5h1.5v1.5h-1.5zM36.6 210h1.5v1.5h-1.5zM944.1 361.5h1.5v1.5h-1.5zM819.6 303h1.5v1.5h-1.5zM78.6 133.5h1.5v1.5h-1.5zM768.6 291h1.5v3h-1.5z"/>
<rect x="3.6" y="631.5" width="4.5" height="81" fill="#54ffff"/>
<rect x="9.6" y="646.5" width="4.5" height="66" fill="#ff3232"/>
<rect x="17.1" y="652.5" width="4.5" height="60" fill="#54ffff"/>
<rect x="23.1" y="669" width="4.5" height="43.5" fill="#54ffff"/>
<rect x="29.1" y="660" width="4.5" height="52.5" fill="#ff3232"/>
<rect x="36.6" y="654" width="4.5" height="58.5" fill="#54ffff"/>
<rect x="42.6" y="631.5" width="4.5" height="81" fill="#ff3232"/>
<rect x="50.1" y="619.5" width="4.5" height="93" fill="#ff3232"/>
<rect x="56.1" y="624" width="4.5" height="88.5" fill="#ff3232"/>
<rect x="62.1" y="618" width="4.5" height="94.5" fill="#ff3232"/>
<rect x="69.6" y="622.5" width="4.5" height="90" fill="#54ffff"/>
<rect x="75.6" y="640.5" width="4.5" height="72" fill="#ff3232"/>
<rect x="83.1" y="627" width="4.5" height="85.5" fill="#54ffff"/>
<rect x="89.1" y="640.5" width="4.5" height="72" fill="#54ffff"/>
<rect x="96.6" y="643.5" width="4.5" height="69" fill="#ff3232"/>
<rect x="102.6" y="595.5" width="4.5" height="117" fill="#ff3232"/>
<rect x="108.6" y="589.5" width="4.5" height="123" fill="#ff3232"/>
<rect x="116.1" y="609" width="4.5" height="103.5" fill="#54ffff"/>
<rect x="122.1" y="627" width="4.5" height="85.5" fill="#54ffff"/>
<rect x="129.6" y="633" width="4.5" height="79.5" fill="#ff3232"/>
<rect x="135.6" y="642" width="4.5" height="70.5" fill="#54ffff"/>
<rect x="143.1" y="636" width="4.5" height="76.5" fill="#ff3232"/>
<rect x="149.1" y="627" width="4.5" height="85.5" fill="#ff3232"/>
<rect x="155.1" y="615" width="4.5" height="97.5" fill="#54ffff"/>
<rect x="162.6" y="634.5" width="4.5" height="78" fill="#54ffff"/>
<rect x="168.6" y="598.5" width="4.5" height="114" fill="#54ffff"/>
<rect x="176.1" y="628.5" width="4.5" height="84" fill="#ff3232"/>
<rect x="182.1" y="607.5" width="4.5" height="105" fill="#ff3232"/>
<rect x="188.1" y="603" width="4.5" height="109.5" fill="#ff3232"/>
<rect x="195.6" y="615" width="4.5" height="97.5" fill="#54ffff"/>
<rect x="201.6" y="597" width="4.5" height="115.5" fill="#ff3232"/>
<rect x="209.1" y="589.5" width="4.5" height="123" fill="#54ffff"/>
<rect x="215.1" y="610.5" width="4.5" height="102" fill="#ff3232"/>
<rect x="222.6" y="616.5" width="4.5" height="96" fill="#54ffff"/>
<rect x="228.6" y="624" width="4.5" height="88.5" fill="#ff3232"/>
<rect x="234.6" y="612" width="4.5" height="100.5" fill="#54ffff"/>
<rect x="242.1" y="619.5" width="4.5" height="93" fill="#54ffff"/>
<rect x="248.1" y="628.5" width="4.5" height="84" fill="#54ffff"/>
<rect x="255.6" y="630" width="4.5" height="82.5" fill="#54ffff"/>
<rect x="261.6" y="619.5" width="4.5" height="93" fill="#ff3232"/>
<rect x="269.1" y="618" width="4.5" height="94.5" fill="#54ffff"/>
<rect x="275.1" y="607.5" width="4.5" height="105" fill="#ff3232"/>
<rect x="281.1" y="613.5" width="4.5" height="99" fill="#ff3232"/>
<rect x="288.6" y="616.5" width="4.5" height="96" fill="#54ffff"/>
<rect x="294.6" y="625.5" width="4.5" height="87" fill="#54ffff"/>
<rect x="302.1" y="621" width="4.5" height="91.5" fill="#ff3232"/>
<rect x="308.1" y="621" width="4.5" height="91.5" fill="#ff3232"/>
<rect x="314.1" y="627" width="4.5" height="85.5" fill="#54ffff"/>
<rect x="321.6" y="631.5" width="4.5" height="81" fill="#ff3232"/>
<rect x="327.6" y="633" width="4.5" height="79.5" fill="#54ffff"/>
<rect x="335.1" y="628.5" width="4.5" height="84" fill="#ff3232"/>
<rect x="341.1" y="639" width="4.5" height="73.5" fill="#54ffff"/>
<rect x="348.6" y="630" width="4.5" height="82.5" fill="#ff3232"/>
<rect x="354.6" y="630" width="4.5" height="82.5" fill="#ff3232"/>
<rect x="360.6" y="630" width="4.5" height="82.5" fill="#ff3232"/>
<rect x="368.1" y="621" width="4.5" height="91.5" fill="#ff3232"/>
<rect x="374.1" y="624" width="4.5" height="88.5" fill="#54ffff"/>
<rect x="381.6" y="633" width="4.5" height="79.5" fill="#54ffff"/>
<rect x="387.6" y="637.5" width="4.5" height="75" fill="#ff3232"/>
<rect x="395.1" y="637.5" width="4.5" height="75" fill="#54ffff"/>
<rect x="401.1" y="643.5" width="4.5" height="69" fill="#54ffff"/>
<rect x="407.1" y="642" width="4.5" height="70.5" fill="#ff3232"/>
<rect x="414.6" y="624" width="4.5" height="88.5" fill="#ff3232"/>
<rect x="420.6" y="627" width="4.5" height="85.5" fill="#ff3232"/>
<rect x="428.1" y="622.5" width="4.5" height="90" fill="#54ffff"/>
<rect x="434.1" y="636" width="4.5" height="76.5" fill="#54ffff"/>
<rect x="440.1" y="628.5" width="4.5" height="84" fill="#54ffff"/>
<rect x="447.6" y="634.5" width="4.5" height="78" fill="#54ffff"/>
<rect x="453.6" y="634.5" width="4.5" height="78" fill="#54ffff"/>
<rect x="461.1" y="622.5" width="4.5" height="90" fill="#54ffff"/>
<rect x="467.1" y="637.5" width="4.5" height="75" fill="#ff3232"/>
<rect x="474.6" y="640.5" width="4.5" height="72" fill="#54ffff"/>
<rect x="480.6" y="649.5" width="4.5" height="63" fill="#54ffff"/>
<rect x="486.6" y="640.5" width="4.5" height="72" fill="#ff3232"/>
<rect x="494.1" y="640.5" width="4.5" height="72" fill="#54ffff"/>
<rect x="500.1" y="645" width="4.5" height="67.5" fill="#54ffff"/>
<rect x="507.6" y="645" width="4.5" height="67.5" fill="#54ffff"/>
<rect x="513.6" y="652.5" width="4.5" height="60" fill="#54ffff"/>
<rect x="521.1" y="648" width="4.5" height="64.5" fill="#ff3232"/>
<rect x="527.1" y="649.5" width="4.5" height="63" fill="#54ffff"/>
<rect x="533.1" y="654" width="4.5" height="58.5" fill="#54ffff"/>
<rect x="540.6" y="640.5" width="4.5" height="72" fill="#54ffff"/>
<rect x="546.6" y="627" width="4.5" height="85.5" fill="#54ffff"/>
<rect x="554.1" y="633" width="4.5" height="79.5" fill="#ff3232"/>
<rect x="560.1" y="634.5" width="4.5" height="78" fill="#54ffff"/>
<rect x="566.1" y="643.5" width="4.5" height="69" fill="#ff3232"/>
<rect x="573.6" y="646.5" width="4.5" height="66" fill="#54ffff"/>
<rect x="579.6" y="637.5" width="4.5" height="75" fill="#ff3232"/>
<rect x="587.1" y="636" width="4.5" height="76.5" fill="#54ffff"/>
<rect x="593.1" y="640.5" width="4.5" height="72" fill="#54ffff"/>
<rect x="600.6" y="624" width="4.5" height="88.5" fill="#ff3232"/>
<rect x="606.6" y="625.5" width="4.5" height="87" fill="#54ffff"/>
<rect x="612.6" y="618" width="4.5" height="94.5" fill="#ff3232"/>
<rect x="620.1" y="631.5" width="4.5" height="81" fill="#54ffff"/>
<rect x="626.1" y="639" width="4.5" height="73.5" fill="#54ffff"/>
<rect x="633.6" y="625.5" width="4.5" height="87" fill="#ff3232"/>
<rect x="639.6" y="637.5" width="4.5" height="75" fill="#ff3232"/>
<rect x="647.1" y="636" width="4.5" height="76.5" fill="#ff3232"/>
<rect x="653.1" y="622.5" width="4.5" height="90" fill="#ff3232"/>
<rect x="659.1" y="603" width="4.5" height="109.5" fill="#ff3232"/>
<rect x="666.6" y="613.5" width="4.5" height="99" fill="#ff3232"/>
<rect x="672.6" y="622.5" width="4.5" height="90" fill="#ff3232"/>
<rect x="680.1" y="627" width="4.5" height="85.5" fill="#ff3232"/>
<rect x="686.1" y="621" width="4.5" height="91.5" fill="#54ffff"/>
<rect x="692.1" y="631.5" width="4.5" height="81" fill="#54ffff"/>
<rect x="699.6" y="633" width="4.5" height="79.5" fill="#ff3232"/>
<rect x="705.6" y="619.5" width="4.5" height="93" fill="#ff3232"/>
<rect x="713.1" y="612" width="4.5" height="100.5" fill="#ff3232"/>
<rect x="719.1" y="616.5" width="4.5" height="96" fill="#ff3232"/>
<rect x="726.6" y="609" width="4.5" height="103.5" fill="#54ffff"/>
<rect x="732.6" y="627" width="4.5" height="85.5" fill="#54ffff"/>
<rect x="738.6" y="634.5" width="4.5" height="78" fill="#54ffff"/>
<rect x="746.1" y="648" width="4.5" height="64.5" fill="#ff3232"/>
<rect x="752.1" y="640.5" width="4.5" height="72" fill="#54ffff"/>
<rect x="759.6" y="625.5" width="4.5" height="87" fill="#54ffff"/>
<rect x="765.6" y="652.5" width="4.5" height="60" fill="#54ffff"/>
<rect x="773.1" y="649.5" width="4.5" height="63" fill="#54ffff"/>
<rect x="779.1" y="645" width="4.5" height="67.5" fill="#ff3232"/>
<rect x="785.1" y="645" width="4.5" height="67.5" fill="#54ffff"/>
<rect x="792.6" y="628.5" width="4.5" height="84" fill="#ff3232"/>
<rect x="798.6" y="642" width="4.5" height="70.5" fill="#ff3232"/>
<rect x="806.1" y="643.5" width="4.5" height="69" fill="#ff3232"/>
<rect x="812.1" y="646.5" width="4.5" height="66" fill="#54ffff"/>
<rect x="818.1" y="643.5" width="4.5" height="69" fill="#54ffff"/>
<rect x="825.6" y="645" width="4.5" height="67.5" fill="#ff3232"/>
<rect x="831.6" y="648" width="4.5" height="64.5" fill="#54ffff"/>
<rect x="839.1" y="648" width="4.5" height="64.5" fill="#ff3232"/>
<rect x="845.1" y="648" width="4.5" height="64.5" fill="#ff3232"/>
<rect x="852.6" y="648" width="4.5" height="64.5" fill="#54ffff"/>
<rect x="858.6" y="649.5" width="4.5" height="63" fill="#ff3232"/>
<rect x="864.6" y="654" width="4.5" height="58.5" fill="#54ffff"/>
<rect x="872.1" y="639" width="4.5" height="73.5" fill="#ff3232"/>
<rect x="878.1" y="645" width="4.5" height="67.5" fill="#54ffff"/>
<rect x="885.6" y="651" width="4.5" height="61.5" fill="#54ffff"/>
<rect x="891.6" y="649.5" width="4.5" height="63" fill="#54ffff"/>
<rect x="899.1" y="654" width="4.5" height="58.5" fill="#54ffff"/>
<rect x="905.1" y="651" width="4.5" height="61.5" fill="#ff3232"/>
<rect x="911.1" y="639" width="4.5" height="73.5" fill="#ff3232"/>
<rect x="918.6" y="639" width="4.5" height="73.5" fill="#54ffff"/>
<rect x="924.6" y="642" width="4.5" height="70.5" fill="#54ffff"/>
<rect x="932.1" y="636" width="4.5" height="76.5" fill="#54ffff"/>
<rect x="938.1" y="643.5" width="4.5" height="69" fill="#54ffff"/>
<rect x="944.1" y="651" width="4.5" height="61.5" fill="#ff3232"/>
<rect x="951.6" y="652.5" width="4.5" height="60" fill="#54ffff"/>
<rect x="957.6" y="642" width="4.5" height="70.5" fill="#54ffff"/>
<rect x="965.1" y="639" width="4.5" height="73.5" fill="#54ffff"/>
<rect x="971.1" y="649.5" width="4.5" height="63" fill="#54ffff"/>
<rect x="978.6" y="646.5" width="4.5" height="66" fill="#ff3232"/>
<rect x="984.6" y="630" width="4.5" height="82.5" fill="#ff3232"/>
<rect x="990.6" y="642" width="4.5" height="70.5" fill="#54ffff"/>
<rect x="998.1" y="636" width="4.5" height="76.5" fill="#ff3232"/>
<rect x="1004.1" y="655.5" width="4.5" height="57" fill="#ff3232"/>
<rect x="1011.6" y="639" width="4.5" height="73.5" fill="#ff3232"/>
<rect x="1017.6" y="631.5" width="4.5" height="81" fill="#54ffff"/>
<rect x="1025.1" y="648" width="4.5" height="64.5" fill="#ff3232"/>
<rect x="1031.1" y="649.5" width="4.5" height="63" fill="#54ffff"/>
<rect x="1037.1" y="658.5" width="4.5" height="54" fill="#54ffff"/>
<rect x="1044.6" y="655.5" width="4.5" height="57" fill="#54ffff"/>
<rect x="1050.6" y="622.5" width="4.5" height="90" fill="#54ffff"/>
<rect x="1058.1" y="630" width="4.5" height="82.5" fill="#ff3232"/>
<rect x="1064.1" y="648" width="4.5" height="64.5" fill="#54ffff"/>
<rect x="1070.1" y="643.5" width="4.5" height="69" fill="#54ffff"/>
<rect x="1077.6" y="634.5" width="4.5" height="78" fill="#ff3232"/>
<rect x="1083.6" y="637.5" width="4.5" height="75" fill="#54ffff"/>
<rect x="1091.1" y="630" width="4.5" height="82.5" fill="#ff3232"/>
<rect x="1097.1" y="601.5" width="4.5" height="111" fill="#ff3232"/>
<rect x="1104.6" y="619.5" width="4.5" height="93" fill="#54ffff"/>
<rect x="1110.6" y="636" width="4.5" height="76.5" fill="#54ffff"/>
<rect x="1116.6" y="634.5" width="4.5" height="78" fill="#ff3232"/>
<rect x="1124.1" y="642" width="4.5" height="70.5" fill="#54ffff"/>
<rect x="1130.1" y="651" width="4.5" height="61.5" fill="#54ffff"/>
<rect x="1137.6" y="640.5" width="4.5" height="72" fill="#ff3232"/>
<rect x="1143.6" y="637.5" width="4.5" height="75" fill="#ff3232"/>
<rect x="1151.1" y="613.5" width="4.5" height="99" fill="#54ffff"/>
<rect x="1157.1" y="598.5" width="4.5" height="114" fill="#ff3232"/>
<rect x="1163.1" y="600" width="4.5" height="112.5" fill="#ff3232"/>
<rect x="1170.6" y="630" width="4.5" height="82.5" fill="#ff3232"/>
<rect x="1176.6" y="615" width="4.5" height="97.5" fill="#54ffff"/>
<rect x="1184.1" y="628.5" width="4.5" height="84" fill="#54ffff"/>
<rect x="1190.1" y="640.5" width="4.5" height="72" fill="#ff3232"/>
<rect x="1196.1" y="609" width="4.5" height="103.5" fill="#ff3232"/>
<rect x="1203.6" y="568.5" width="4.5" height="144" fill="#ff3232"/>
<rect x="1209.6" y="589.5" width="4.5" height="123" fill="#54ffff"/>
<rect x="1217.1" y="600" width="4.5" height="112.5" fill="#ff3232"/>
<rect x="1223.1" y="594" width="4.5" height="118.5" fill="#54ffff"/>
<rect x="1230.6" y="609" width="4.5" height="103.5" fill="#54ffff"/>
<rect x="1236.6" y="607.5" width="4.5" height="105" fill="#54ffff"/>
<rect x="1242.6" y="618" width="4.5" height="94.5" fill="#ff3232"/>
<rect x="1250.1" y="627" width="4.5" height="85.5" fill="#54ffff"/>
<rect x="1256.1" y="606" width="4.5" height="106.5" fill="#54ffff"/>
<rect x="1263.6" y="642" width="4.5" height="70.5" fill="#54ffff"/>
<rect x="1269.6" y="637.5" width="4.5" height="75" fill="#ff3232"/>
<rect x="1277.1" y="621" width="4.5" height="91.5" fill="#ff3232"/>
<rect x="1283.1" y="621" width="4.5" height="91.5" fill="#54ffff"/>
<rect x="1289.1" y="633" width="4.5" height="79.5" fill="#ff3232"/>
<rect x="1296.6" y="603" width="4.5" height="109.5" fill="#ff3232"/>
<rect x="1302.6" y="618" width="4.5" height="94.5" fill="#ff3232"/>
<rect x="1310.1" y="613.5" width="4.5" height="99" fill="#ff3232"/>
<rect x="1316.1" y="618" width="4.5" height="94.5" fill="#54ffff"/>
<rect x="1322.1" y="633" width="4.5" height="79.5" fill="#54ffff"/>
<rect x="1329.6" y="637.5" width="4.5" height="75" fill="#54ffff"/>
<rect x="1335.6" y="640.5" width="4.5" height="72" fill="#ff3232"/>
<rect x="1343.1" y="637.5" width="4.5" height="75" fill="#54ffff"/>
<rect x="1349.1" y="627" width="4.5" height="85.5" fill="#ff3232"/>
<rect x="1356.6" y="627" width="4.5" height="85.5" fill="#54ffff"/>
<rect x="1362.6" y="642" width="4.5" height="70.5" fill="#54ffff"/>
<rect x="1368.6" y="645" width="4.5" height="67.5" fill="#ff3232"/>
<rect x="1376.1" y="648" width="4.5" height="64.5" fill="#54ffff"/>
<rect x="1382.1" y="648" width="4.5" height="64.5" fill="#ff3232"/>
<rect x="1389.6" y="648" width="4.5" height="64.5" fill="#54ffff"/>
<rect x="1395.6" y="649.5" width="4.5" height="63" fill="#ff3232"/>
<rect x="1403.1" y="624" width="4.5" height="88.5" fill="#ff3232"/>
<rect x="1409.1" y="637.5" width="4.5" height="75" fill="#54ffff"/>
<rect x="1415.1" y="631.5" width="4.5" height="81" fill="#54ffff"/>
<rect x="1422.6" y="640.5" width="4.5" height="72" fill="#ff3232"/>
<rect x="1428.6" y="649.5" width="4.5" height="63" fill="#54ffff"/>
<rect x="1436.1" y="634.5" width="4.5" height="78" fill="#54ffff"/>
<rect x="1442.1" y="616.5" width="4.5" height="96" fill="#ff3232"/>
<path fill="#ffff00" d="M134.1 624h18v1.5h-18zM176.1 624h10.5v1.5h-10.5zM338.1 624h3v1.5h-3zM671.1 624h7.5v1.5h-7.5zM684.6 624h19.5v1.5h-19.5zM743.1 624h3v1.5h-3zM1322.1 624h6v1.5h-6zM1340.1 624h3v1.5h-3zM68.1 639h12v1.5h-12zM507.6 639h4.5v1.5h-4.5zM585.6 639h12v1.5h-12zM791.1 639h6v1.5h-6zM1388.1 639h6v1.5h-6zM1401.6 639h19.5v1.5h-19.5zM1439.1 639h3v1.5h-3zM347.1 627h6v1.5h-6zM657.6 627h3v1.5h-3zM750.6 627h7.5v1.5h-7.5zM762.6 627h3v1.5h-3zM1157.1 627h12v1.5h-12zM1173.6 627h3v1.5h-3zM1359.6 627h3v1.5h-3zM1254.6 603h3v1.5h-3zM1259.1 603h3v1.5h-3zM380.1 630h19.5v1.5h-19.5zM426.6 630h6v1.5h-6zM465.6 630h12v1.5h-12zM651.6 630h4.5v1.5h-4.5zM770.1 630h3v1.5h-3zM1109.1 630h6v1.5h-6zM1151.1 630h3v1.5h-3zM1365.6 630h3v1.5h-3zM210.6 610.5h3v1.5h-3zM246.6 610.5h6v1.5h-6zM1208.1 610.5h3v1.5h-3zM161.1 619.5h6v1.5h-6zM195.6 619.5h3v1.5h-3zM300.6 619.5h25.5v1.5h-25.5zM713.1 619.5h18v1.5h-18zM1286.1 619.5h3v1.5h-3zM35.1 648h6v1.5h-6zM890.1 648h27v1.5h-27zM20.1 643.5h3v1.5h-3zM50.1 643.5h4.5v1.5h-4.5zM525.6 643.5h4.5v1.5h-4.5zM546.6 643.5h12v1.5h-12zM824.1 643.5h13.5v1.5h-13.5zM843.6 643.5h13.5v1.5h-13.5zM930.6 643.5h6v1.5h-6zM963.6 643.5h19.5v1.5h-19.5zM1002.6 643.5h7.5v1.5h-7.5zM1035.6 643.5h21v1.5h-21zM1062.6 643.5h6v1.5h-6zM5.1 642h15v1.5h-15zM54.6 642h6v1.5h-6zM519.6 642h6v1.5h-6zM558.6 642h19.5v1.5h-19.5zM804.6 642h6v1.5h-6zM816.6 642h7.5v1.5h-7.5zM837.6 642h6v1.5h-6zM983.1 642h19.5v1.5h-19.5zM1010.1 642h6v1.5h-6zM1029.6 642h6v1.5h-6zM1056.6 642h6v1.5h-6zM1068.6 642h21v1.5h-21zM1427.1 642h7.5v1.5h-7.5zM95.1 631.5h4.5v1.5h-4.5zM399.6 631.5h6v1.5h-6zM413.1 631.5h13.5v1.5h-13.5zM432.6 631.5h6v1.5h-6zM459.6 631.5h6v1.5h-6zM477.6 631.5h3v1.5h-3zM632.1 631.5h19.5v1.5h-19.5zM773.1 631.5h3v1.5h-3zM1106.1 631.5h3v1.5h-3zM1115.1 631.5h13.5v1.5h-13.5zM1136.1 631.5h6v1.5h-6zM1148.1 631.5h3v1.5h-3zM1368.6 631.5h4.5v1.5h-4.5zM80.1 637.5h3v1.5h-3zM504.6 637.5h3v1.5h-3zM597.6 637.5h3v1.5h-3zM785.1 637.5h6v1.5h-6zM1095.6 637.5h3v1.5h-3zM1382.1 637.5h6v1.5h-6zM1442.1 637.5h3v1.5h-3zM273.6 618h27v1.5h-27zM1283.1 618h3v1.5h-3zM27.6 646.5h7.5v1.5h-7.5zM41.1 646.5h6v1.5h-6zM533.1 646.5h10.5v1.5h-10.5zM863.1 646.5h27v1.5h-27zM917.1 646.5h6v1.5h-6zM213.6 609h33v1.5h-33zM1211.1 609h4.5v1.5h-4.5zM110.1 621h18v1.5h-18zM155.1 621h6v1.5h-6zM167.1 621h6v1.5h-6zM192.6 621h3v1.5h-3zM326.1 621h7.5v1.5h-7.5zM710.1 621h3v1.5h-3zM731.1 621h6v1.5h-6zM1289.1 621h12v1.5h-12zM1308.6 621h10.5v1.5h-10.5zM89.1 633h6v1.5h-6zM405.6 633h7.5v1.5h-7.5zM438.6 633h21v1.5h-21zM480.6 633h4.5v1.5h-4.5zM611.1 633h21v1.5h-21zM776.1 633h3v1.5h-3zM1103.1 633h3v1.5h-3zM1128.6 633h7.5v1.5h-7.5zM1142.1 633h6v1.5h-6zM1373.1 633h3v1.5h-3zM107.1 622.5h3v1.5h-3zM128.1 622.5h6v1.5h-6zM152.1 622.5h3v1.5h-3zM173.1 622.5h3v1.5h-3zM186.6 622.5h6v1.5h-6zM333.6 622.5h4.5v1.5h-4.5zM704.1 622.5h6v1.5h-6zM737.1 622.5h6v1.5h-6zM1194.6 622.5h3v1.5h-3zM1301.1 622.5h7.5v1.5h-7.5zM1319.1 622.5h3v1.5h-3zM1328.1 622.5h12v1.5h-12zM353.1 628.5h27v1.5h-27zM765.6 628.5h4.5v1.5h-4.5zM1154.1 628.5h3v1.5h-3zM1169.1 628.5h4.5v1.5h-4.5zM1362.6 628.5h3v1.5h-3zM83.1 636h3v1.5h-3zM492.6 636h12v1.5h-12zM600.6 636h4.5v1.5h-4.5zM782.1 636h3v1.5h-3zM1379.1 636h3v1.5h-3zM60.6 640.5h7.5v1.5h-7.5zM512.1 640.5h7.5v1.5h-7.5zM578.1 640.5h7.5v1.5h-7.5zM797.1 640.5h7.5v1.5h-7.5zM810.6 640.5h6v1.5h-6zM1016.1 640.5h13.5v1.5h-13.5zM1089.6 640.5h4.5v1.5h-4.5zM1394.1 640.5h7.5v1.5h-7.5zM1421.1 640.5h6v1.5h-6zM1434.6 640.5h4.5v1.5h-4.5zM204.6 613.5h3v1.5h-3zM255.6 613.5h10.5v1.5h-10.5zM1274.1 613.5h3v1.5h-3zM1215.6 607.5h19.5v1.5h-19.5zM341.1 625.5h6v1.5h-6zM660.6 625.5h10.5v1.5h-10.5zM678.6 625.5h6v1.5h-6zM746.1 625.5h4.5v1.5h-4.5zM758.1 625.5h4.5v1.5h-4.5zM1176.6 625.5h16.5v1.5h-16.5zM1343.1 625.5h16.5v1.5h-16.5zM1235.1 606h18v1.5h-18zM23.1 645h4.5v1.5h-4.5zM47.1 645h3v1.5h-3zM530.1 645h3v1.5h-3zM543.6 645h3v1.5h-3zM857.1 645h6v1.5h-6zM923.1 645h7.5v1.5h-7.5zM936.6 645h27v1.5h-27zM266.1 615h3v1.5h-3zM1277.1 615h3v1.5h-3zM200.1 616.5h3v1.5h-3zM269.1 616.5h4.5v1.5h-4.5zM1280.1 616.5h3v1.5h-3zM207.6 612h3v1.5h-3zM252.6 612h3v1.5h-3zM1271.1 612h3v1.5h-3zM1262.1 604.5h3v1.5h-3zM86.1 634.5h3v1.5h-3zM485.1 634.5h7.5v1.5h-7.5zM605.1 634.5h6v1.5h-6zM779.1 634.5h3v1.5h-3zM1100.1 634.5h3v1.5h-3zM1376.1 634.5h3v1.5h-3zM105.6 624h1.5v1.5h-1.5zM1193.1 624h1.5v1.5h-1.5zM1094.1 639h1.5v1.5h-1.5zM102.6 627h1.5v1.5h-1.5zM99.6 630h1.5v1.5h-1.5zM1269.6 610.5h1.5v1.5h-1.5zM1199.1 619.5h1.5v1.5h-1.5zM198.6 618h1.5v1.5h-1.5zM1200.6 618h1.5v1.5h-1.5zM1268.1 609h1.5v1.5h-1.5zM1197.6 621h1.5v1.5h-1.5zM101.1 628.5h1.5v1.5h-1.5zM656.1 628.5h1.5v1.5h-1.5zM1098.6 636h1.5v1.5h-1.5zM1205.1 613.5h1.5v1.5h-1.5zM1266.6 607.5h1.5v1.5h-1.5zM104.1 625.5h1.5v1.5h-1.5zM1265.1 606h1.5v1.5h-1.5zM203.1 615h1.5v1.5h-1.5zM1203.6 615h1.5v1.5h-1.5zM1202.1 616.5h1.5v1.5h-1.5zM1257.6 601.5h1.5v1.5h-1.5zM1206.6 612h1.5v1.5h-1.5zM1253.1 604.5h1.5v1.5h-1.5z"/>
<path fill="#ffffff" d="M15.6 642h4.5v1.5h-4.5zM498.6 642h7.5v1.5h-7.5zM551.1 642h3v1.5h-3zM773.1 642h10.5v1.5h-10.5zM797.1 642h7.5v1.5h-7.5zM822.6 642h3v1.5h-3zM930.6 642h3v1.5h-3zM944.1 642h4.5v1.5h-4.5zM983.1 642h3v1.5h-3zM1002.6 642h7.5v1.5h-7.5zM1023.6 642h6v1.5h-6zM1059.6 642h7.5v1.5h-7.5zM1383.6 642h3v1.5h-3zM1404.6 642h3v1.5h-3zM71.1 622.5h3v1.5h-3zM255.6 622.5h4.5v1.5h-4.5zM267.6 622.5h4.5v1.5h-4.5zM318.6 622.5h3v1.5h-3zM665.1 622.5h4.5v1.5h-4.5zM713.1 622.5h9v1.5h-9zM1191.6 622.5h3v1.5h-3zM110.1 618h3v1.5h-3zM179.1 618h3v1.5h-3zM245.1 618h3v1.5h-3zM278.1 618h3v1.5h-3zM305.1 618h3v1.5h-3zM677.1 618h3v1.5h-3zM728.1 618h3v1.5h-3zM735.6 618h3v1.5h-3zM1164.6 618h3v1.5h-3zM1304.1 618h4.5v1.5h-4.5zM525.6 646.5h4.5v1.5h-4.5zM843.6 646.5h13.5v1.5h-13.5zM872.1 646.5h30v1.5h-30zM917.1 646.5h6v1.5h-6zM969.6 646.5h7.5v1.5h-7.5zM1041.6 646.5h3v1.5h-3zM1049.1 646.5h4.5v1.5h-4.5zM1394.1 646.5h4.5v1.5h-4.5zM74.1 624h7.5v1.5h-7.5zM321.6 624h4.5v1.5h-4.5zM660.6 624h4.5v1.5h-4.5zM695.1 624h3v1.5h-3zM710.1 624h3v1.5h-3zM1106.1 624h16.5v1.5h-16.5zM1194.6 624h4.5v1.5h-4.5zM89.1 628.5h3v1.5h-3zM371.1 628.5h3v1.5h-3zM386.1 628.5h7.5v1.5h-7.5zM437.1 628.5h3v1.5h-3zM446.1 628.5h6v1.5h-6zM612.6 628.5h6v1.5h-6zM636.6 628.5h3v1.5h-3zM1287.6 628.5h3v1.5h-3zM66.6 625.5h3v1.5h-3zM81.6 625.5h4.5v1.5h-4.5zM326.1 625.5h7.5v1.5h-7.5zM698.1 625.5h3v1.5h-3zM704.1 625.5h6v1.5h-6zM1103.1 625.5h3v1.5h-3zM1122.6 625.5h4.5v1.5h-4.5zM1271.1 625.5h15v1.5h-15zM93.6 631.5h3v1.5h-3zM147.6 631.5h3v1.5h-3zM152.1 631.5h3v1.5h-3zM342.6 631.5h24v1.5h-24zM428.1 631.5h4.5v1.5h-4.5zM465.6 631.5h7.5v1.5h-7.5zM644.1 631.5h3v1.5h-3zM651.6 631.5h4.5v1.5h-4.5zM753.6 631.5h3v1.5h-3zM1341.6 631.5h3v1.5h-3zM8.1 640.5h7.5v1.5h-7.5zM494.1 640.5h4.5v1.5h-4.5zM554.1 640.5h3v1.5h-3zM591.6 640.5h4.5v1.5h-4.5zM770.1 640.5h3v1.5h-3zM804.6 640.5h18v1.5h-18zM933.6 640.5h3v1.5h-3zM941.1 640.5h3v1.5h-3zM986.1 640.5h16.5v1.5h-16.5zM1010.1 640.5h13.5v1.5h-13.5zM1067.1 640.5h3v1.5h-3zM1139.1 640.5h7.5v1.5h-7.5zM1380.6 640.5h3v1.5h-3zM1407.6 640.5h4.5v1.5h-4.5zM113.1 616.5h3v1.5h-3zM182.1 616.5h3v1.5h-3zM281.1 616.5h6v1.5h-6zM300.6 616.5h4.5v1.5h-4.5zM680.1 616.5h9v1.5h-9zM731.1 616.5h4.5v1.5h-4.5zM1167.6 616.5h3v1.5h-3zM1260.6 616.5h3v1.5h-3zM1308.6 616.5h16.5v1.5h-16.5zM530.1 648h3v1.5h-3zM539.1 648h4.5v1.5h-4.5zM857.1 648h6v1.5h-6zM869.1 648h3v1.5h-3zM902.1 648h3v1.5h-3zM909.6 648h7.5v1.5h-7.5zM1044.6 648h4.5v1.5h-4.5zM228.6 607.5h3v1.5h-3zM1247.1 607.5h3v1.5h-3zM221.1 604.5h4.5v1.5h-4.5zM1212.6 604.5h3v1.5h-3zM5.1 639h3v1.5h-3zM491.1 639h3v1.5h-3zM557.1 639h3v1.5h-3zM585.6 639h6v1.5h-6zM596.1 639h3v1.5h-3zM767.1 639h3v1.5h-3zM936.6 639h4.5v1.5h-4.5zM1070.1 639h3v1.5h-3zM1136.1 639h3v1.5h-3zM1146.6 639h3v1.5h-3zM1412.1 639h3v1.5h-3zM419.1 634.5h6v1.5h-6zM477.6 634.5h3v1.5h-3zM566.1 634.5h6v1.5h-6zM759.6 634.5h3v1.5h-3zM1347.6 634.5h7.5v1.5h-7.5zM1361.1 634.5h12v1.5h-12zM1442.1 634.5h3v1.5h-3zM86.1 627h3v1.5h-3zM333.6 627h4.5v1.5h-4.5zM374.1 627h12v1.5h-12zM440.1 627h6v1.5h-6zM618.6 627h18v1.5h-18zM701.1 627h3v1.5h-3zM1100.1 627h3v1.5h-3zM1334.1 627h3v1.5h-3zM155.1 630h10.5v1.5h-10.5zM339.6 630h3v1.5h-3zM366.6 630h4.5v1.5h-4.5zM393.6 630h4.5v1.5h-4.5zM432.6 630h4.5v1.5h-4.5zM452.1 630h13.5v1.5h-13.5zM609.6 630h3v1.5h-3zM639.6 630h4.5v1.5h-4.5zM750.6 630h3v1.5h-3zM1338.6 630h3v1.5h-3zM128.1 610.5h4.5v1.5h-4.5zM195.6 610.5h4.5v1.5h-4.5zM234.6 610.5h3v1.5h-3zM1178.1 610.5h3v1.5h-3zM506.1 643.5h13.5v1.5h-13.5zM548.1 643.5h3v1.5h-3zM783.6 643.5h13.5v1.5h-13.5zM825.6 643.5h4.5v1.5h-4.5zM927.6 643.5h3v1.5h-3zM948.6 643.5h3v1.5h-3zM1029.6 643.5h6v1.5h-6zM1056.6 643.5h3v1.5h-3zM1386.6 643.5h3v1.5h-3zM1401.6 643.5h3v1.5h-3zM404.1 636h3v1.5h-3zM413.1 636h6v1.5h-6zM480.6 636h4.5v1.5h-4.5zM563.1 636h3v1.5h-3zM572.1 636h6v1.5h-6zM1076.1 636h3v1.5h-3zM1080.6 636h3v1.5h-3zM1373.1 636h3v1.5h-3zM1421.1 636h13.5v1.5h-13.5zM1439.1 636h3v1.5h-3zM170.1 621h4.5v1.5h-4.5zM252.6 621h3v1.5h-3zM260.1 621h7.5v1.5h-7.5zM272.1 621h3v1.5h-3zM312.6 621h6v1.5h-6zM669.6 621h3v1.5h-3zM722.1 621h3v1.5h-3zM21.6 645h3v1.5h-3zM519.6 645h6v1.5h-6zM545.1 645h3v1.5h-3zM830.1 645h13.5v1.5h-13.5zM923.1 645h4.5v1.5h-4.5zM951.6 645h18v1.5h-18zM977.1 645h4.5v1.5h-4.5zM1035.6 645h6v1.5h-6zM1053.6 645h3v1.5h-3zM1389.6 645h4.5v1.5h-4.5zM1398.6 645h3v1.5h-3zM407.1 637.5h6v1.5h-6zM485.1 637.5h6v1.5h-6zM560.1 637.5h3v1.5h-3zM578.1 637.5h7.5v1.5h-7.5zM599.1 637.5h3v1.5h-3zM764.1 637.5h3v1.5h-3zM1073.1 637.5h3v1.5h-3zM1083.6 637.5h10.5v1.5h-10.5zM1133.1 637.5h3v1.5h-3zM1149.6 637.5h3v1.5h-3zM1376.1 637.5h3v1.5h-3zM1415.1 637.5h6v1.5h-6zM1434.6 637.5h4.5v1.5h-4.5zM116.1 615h3v1.5h-3zM185.1 615h3v1.5h-3zM287.1 615h13.5v1.5h-13.5zM1170.6 615h3v1.5h-3zM213.6 603h7.5v1.5h-7.5zM1215.6 603h3v1.5h-3zM1241.1 603h3v1.5h-3zM1224.6 591h9v1.5h-9zM174.6 619.5h4.5v1.5h-4.5zM248.1 619.5h4.5v1.5h-4.5zM275.1 619.5h3v1.5h-3zM308.1 619.5h4.5v1.5h-4.5zM672.6 619.5h4.5v1.5h-4.5zM725.1 619.5h3v1.5h-3zM738.6 619.5h3v1.5h-3zM1301.1 619.5h3v1.5h-3zM399.6 633h3v1.5h-3zM425.1 633h3v1.5h-3zM473.1 633h4.5v1.5h-4.5zM605.1 633h3v1.5h-3zM647.1 633h4.5v1.5h-4.5zM756.6 633h3v1.5h-3zM1344.6 633h3v1.5h-3zM1355.1 633h6v1.5h-6zM210.6 601.5h3v1.5h-3zM119.1 613.5h3v1.5h-3zM188.1 613.5h4.5v1.5h-4.5zM239.1 613.5h3v1.5h-3zM1184.1 613.5h3v1.5h-3zM1256.1 613.5h3v1.5h-3zM32.1 652.5h3v1.5h-3zM42.6 652.5h3v1.5h-3zM27.6 649.5h3v1.5h-3zM47.1 649.5h3v1.5h-3zM533.1 649.5h6v1.5h-6zM863.1 649.5h6v1.5h-6zM905.1 649.5h4.5v1.5h-4.5zM225.6 606h3v1.5h-3zM122.1 612h6v1.5h-6zM192.6 612h3v1.5h-3zM1175.1 612h3v1.5h-3zM1181.1 612h3v1.5h-3zM1253.1 612h3v1.5h-3zM35.1 654h3v1.5h-3zM39.6 654h3v1.5h-3zM200.1 609h4.5v1.5h-4.5zM231.6 609h3v1.5h-3zM54.6 642h1.5v1.5h-1.5zM107.1 622.5h1.5v3h-1.5zM140.1 622.5h1.5v1.5h-1.5zM168.6 622.5h1.5v3h-1.5zM693.6 622.5h1.5v1.5h-1.5zM743.1 622.5h1.5v1.5h-1.5zM1161.6 622.5h1.5v3h-1.5zM1199.1 621h1.5v3h-1.5zM1268.1 622.5h1.5v1.5h-1.5zM1298.1 622.5h1.5v1.5h-1.5zM1329.6 622.5h1.5v1.5h-1.5zM135.6 616.5h1.5v3h-1.5zM689.1 618h1.5v1.5h-1.5zM1188.6 618h1.5v1.5h-1.5zM1202.1 616.5h1.5v3h-1.5zM1263.6 618h1.5v1.5h-1.5zM1325.1 618h1.5v1.5h-1.5zM24.6 646.5h1.5v1.5h-1.5zM51.6 646.5h1.5v1.5h-1.5zM543.6 646.5h1.5v1.5h-1.5zM69.6 624h1.5v1.5h-1.5zM141.6 624h1.5v3h-1.5zM744.6 624h1.5v1.5h-1.5zM1269.6 624h1.5v1.5h-1.5zM1296.6 624h1.5v1.5h-1.5zM1331.1 624h1.5v1.5h-1.5zM63.6 628.5h1.5v1.5h-1.5zM104.1 628.5h1.5v1.5h-1.5zM144.6 628.5h1.5v1.5h-1.5zM165.6 627h1.5v3h-1.5zM338.1 628.5h1.5v1.5h-1.5zM657.6 627h1.5v3h-1.5zM749.1 628.5h1.5v1.5h-1.5zM1098.6 628.5h1.5v1.5h-1.5zM1127.1 627h1.5v3h-1.5zM1158.6 628.5h1.5v1.5h-1.5zM1292.1 628.5h1.5v1.5h-1.5zM1337.1 628.5h1.5v1.5h-1.5zM105.6 625.5h1.5v3h-1.5zM167.1 625.5h1.5v1.5h-1.5zM659.1 625.5h1.5v1.5h-1.5zM746.1 625.5h1.5v1.5h-1.5zM1160.1 625.5h1.5v3h-1.5zM1295.1 625.5h1.5v1.5h-1.5zM1332.6 625.5h1.5v1.5h-1.5zM62.1 630h1.5v3h-1.5zM101.1 631.5h1.5v1.5h-1.5zM398.1 631.5h1.5v1.5h-1.5zM608.1 631.5h1.5v1.5h-1.5zM1097.1 630h1.5v3h-1.5zM1128.6 630h1.5v3h-1.5zM1155.6 631.5h1.5v3h-1.5zM56.1 639h1.5v3h-1.5zM243.6 616.5h1.5v1.5h-1.5zM1187.1 615h1.5v3h-1.5zM26.1 648h1.5v1.5h-1.5zM50.1 648h1.5v1.5h-1.5zM204.6 607.5h1.5v1.5h-1.5zM1209.6 607.5h1.5v1.5h-1.5zM207.6 604.5h1.5v1.5h-1.5zM1244.1 604.5h1.5v1.5h-1.5zM1379.1 639h1.5v1.5h-1.5zM59.1 634.5h1.5v3h-1.5zM98.1 634.5h1.5v1.5h-1.5zM402.6 634.5h1.5v1.5h-1.5zM603.6 634.5h1.5v1.5h-1.5zM1079.1 634.5h1.5v1.5h-1.5zM1094.1 634.5h1.5v3h-1.5zM1130.1 633h1.5v3h-1.5zM1154.1 634.5h1.5v1.5h-1.5zM65.1 627h1.5v1.5h-1.5zM143.1 627h1.5v1.5h-1.5zM747.6 627h1.5v1.5h-1.5zM1286.1 627h1.5v1.5h-1.5zM1293.6 627h1.5v1.5h-1.5zM92.1 630h1.5v1.5h-1.5zM102.6 630h1.5v1.5h-1.5zM146.1 630h1.5v1.5h-1.5zM656.1 630h1.5v1.5h-1.5zM1157.1 630h1.5v1.5h-1.5zM1290.6 630h1.5v1.5h-1.5zM1206.6 610.5h1.5v1.5h-1.5zM1251.6 610.5h1.5v1.5h-1.5zM20.1 643.5h1.5v1.5h-1.5zM53.1 643.5h1.5v3h-1.5zM981.6 643.5h1.5v1.5h-1.5zM602.1 636h1.5v1.5h-1.5zM762.6 636h1.5v1.5h-1.5zM1131.6 636h1.5v1.5h-1.5zM1152.6 636h1.5v1.5h-1.5zM108.6 619.5h1.5v3h-1.5zM138.6 621h1.5v1.5h-1.5zM692.1 621h1.5v1.5h-1.5zM741.6 621h1.5v1.5h-1.5zM1163.1 619.5h1.5v3h-1.5zM1190.1 619.5h1.5v3h-1.5zM1266.6 621h1.5v1.5h-1.5zM1299.6 621h1.5v1.5h-1.5zM1328.1 621h1.5v1.5h-1.5zM57.6 637.5h1.5v1.5h-1.5zM134.1 615h1.5v1.5h-1.5zM242.1 615h1.5v1.5h-1.5zM1203.6 613.5h1.5v3h-1.5zM1259.1 615h1.5v1.5h-1.5zM209.1 603h1.5v1.5h-1.5zM137.1 619.5h1.5v1.5h-1.5zM690.6 619.5h1.5v1.5h-1.5zM1200.6 619.5h1.5v1.5h-1.5zM1265.1 619.5h1.5v1.5h-1.5zM1326.6 619.5h1.5v1.5h-1.5zM1220.1 598.5h1.5v3h-1.5zM1238.1 600h1.5v1.5h-1.5zM60.6 633h1.5v1.5h-1.5zM96.6 633h1.5v1.5h-1.5zM99.6 633h1.5v1.5h-1.5zM150.6 633h1.5v1.5h-1.5zM1095.6 633h1.5v1.5h-1.5zM1218.6 601.5h1.5v1.5h-1.5zM1239.6 601.5h1.5v1.5h-1.5zM132.6 612h1.5v3h-1.5zM1173.6 613.5h1.5v1.5h-1.5zM206.1 606h1.5v1.5h-1.5zM1211.1 606h1.5v1.5h-1.5zM1245.6 606h1.5v1.5h-1.5zM237.6 612h1.5v1.5h-1.5zM1205.1 612h1.5v1.5h-1.5zM1208.1 609h1.5v1.5h-1.5zM1250.1 609h1.5v1.5h-1.5zM30.6 651h1.5v1.5h-1.5zM45.6 651h1.5v1.5h-1.5zM1221.6 595.5h1.5v3h-1.5zM1235.1 595.5h1.5v1.5h-1.5zM1223.1 592.5h1.5v3h-1.5zM1233.6 592.5h1.5v3h-1.5zM38.1 655.5h1.5v1.5h-1.5zM1236.6 597h1.5v3h-1.5z"/>
<svg x="0" y="715.5" width="1468" height="172.5" viewBox="0 715.5 1468 172.5" overflow="hidden">
<path fill="#ff00ff" d="M96.6 774h3v1.5h-3zM1025.1 774h3v1.5h-3zM1109.1 774h4.5v1.5h-4.5zM137.1 835.5h4.5v1.5h-4.5zM1340.1 835.5h3v1.5h-3zM75.6 759h4.5v1.5h-4.5zM837.6 853.5h4.5v1.5h-4.5zM203.1 753h3v1.5h-3zM678.6 753h4.5v1.5h-4.5zM1310.1 753h3v1.5h-3zM852.6 843h3v1.5h-3zM71.1 760.5h4.5v1.5h-4.5zM80.1 760.5h3v1.5h-3zM885.6 760.5h3v1.5h-3zM422.1 775.5h3v1.5h-3zM1106.1 775.5h3v1.5h-3zM581.1 837h3v1.5h-3zM1343.1 837h3v1.5h-3zM93.6 772.5h3v1.5h-3zM1022.1 772.5h3v1.5h-3zM783.6 864h4.5v1.5h-4.5zM1389.6 864h3v1.5h-3zM719.1 777h3v1.5h-3zM1115.1 777h3v1.5h-3zM83.1 762h3v1.5h-3zM882.6 762h3v1.5h-3zM573.6 849h3v1.5h-3zM1188.6 780h4.5v1.5h-4.5zM1406.1 844.5h3v1.5h-3zM588.6 841.5h7.5v1.5h-7.5zM849.6 841.5h3v1.5h-3zM339.6 769.5h3v1.5h-3zM318.6 796.5h3v1.5h-3zM653.1 796.5h3v1.5h-3zM693.6 796.5h9v1.5h-9zM1149.6 796.5h4.5v1.5h-4.5zM570.6 850.5h3v1.5h-3zM959.1 856.5h3v1.5h-3zM1278.6 856.5h4.5v1.5h-4.5zM473.1 873h6v1.5h-6zM743.1 873h3v1.5h-3zM951.6 873h3v1.5h-3zM1068.6 873h3v1.5h-3zM141.6 834h4.5v1.5h-4.5zM633.6 834h3v1.5h-3zM1337.1 834h3v1.5h-3zM1283.1 858h3v1.5h-3zM560.1 865.5h3v1.5h-3zM1367.1 865.5h3v1.5h-3zM1386.6 865.5h3v1.5h-3zM294.6 840h3v1.5h-3zM405.6 840h4.5v1.5h-4.5zM846.6 840h3v1.5h-3zM905.1 840h3v1.5h-3zM567.6 852h3v1.5h-3zM648.6 789h3v1.5h-3zM932.1 859.5h3v1.5h-3zM1416.6 859.5h3v1.5h-3zM939.6 870h4.5v1.5h-4.5zM1059.6 870h7.5v1.5h-7.5zM1082.1 870h4.5v1.5h-4.5zM500.1 831h3v1.5h-3zM860.1 831h7.5v1.5h-7.5zM911.1 831h3v1.5h-3zM282.6 810h3v1.5h-3zM282.6 808.5h3v1.5h-3zM456.6 886.5h3v1.5h-3zM753.6 886.5h3v1.5h-3zM468.6 871.5h4.5v1.5h-4.5zM479.1 871.5h4.5v1.5h-4.5zM948.6 871.5h3v1.5h-3zM833.1 855h4.5v1.5h-4.5zM1409.1 846h3v1.5h-3zM1136.1 805.5h4.5v1.5h-4.5zM309.6 790.5h3v1.5h-3zM261.6 862.5h3v1.5h-3zM780.6 862.5h3v1.5h-3zM926.1 862.5h3v1.5h-3zM497.1 832.5h3v1.5h-3zM315.6 798h3v1.5h-3zM1145.1 798h4.5v1.5h-4.5zM402.6 838.5h3v1.5h-3zM584.1 838.5h3v1.5h-3zM902.1 838.5h3v1.5h-3zM708.6 783h3v1.5h-3zM716.1 778.5h3v1.5h-3zM107.1 766.5h3v1.5h-3zM1173.6 766.5h3v1.5h-3zM543.6 868.5h3v1.5h-3zM944.1 868.5h3v1.5h-3zM969.6 868.5h4.5v1.5h-4.5zM1358.1 868.5h7.5v1.5h-7.5zM1436.1 868.5h3v1.5h-3zM711.6 781.5h3v1.5h-3zM929.1 861h3v1.5h-3zM326.1 793.5h4.5v1.5h-4.5zM54.6 748.5h3v1.5h-3zM59.1 748.5h3v1.5h-3zM150.6 816h3v1.5h-3zM206.1 751.5h3v1.5h-3zM1007.1 751.5h3v1.5h-3zM879.6 763.5h3v1.5h-3zM1200.6 763.5h3v1.5h-3zM537.6 867h3v1.5h-3zM546.6 867h3v1.5h-3zM1383.6 867h3v1.5h-3zM1433.1 867h3v1.5h-3zM675.6 754.5h3v1.5h-3zM1131.6 804h4.5v1.5h-4.5zM767.1 882h9v1.5h-9zM671.1 756h4.5v1.5h-4.5zM321.6 795h4.5v1.5h-4.5zM653.1 795h3v1.5h-3zM90.6 771h3v1.5h-3zM1019.1 771h3v1.5h-3zM1211.1 771h3v1.5h-3zM62.1 747h3v1.5h-3zM1176.6 765h3v1.5h-3zM668.1 757.5h3v1.5h-3zM209.1 750h3v1.5h-3zM356.1 750h15v1.5h-15zM1010.1 750h4.5v1.5h-4.5zM269.1 874.5h3v1.5h-3zM50.1 745.5h3v1.5h-3zM459.6 888h4.5v1.5h-4.5zM44.1 742.5h3v1.5h-3zM47.1 744h3v1.5h-3zM29.1 771h1.5v9h-1.5zM114.6 772.5h1.5v3h-1.5zM195.6 774h1.5v3h-1.5zM222.6 774h1.5v3h-1.5zM336.6 772.5h1.5v3h-1.5zM374.1 768h1.5v7.5h-1.5zM422.1 772.5h1.5v3h-1.5zM608.1 771h1.5v4.5h-1.5zM621.6 774h1.5v7.5h-1.5zM659.1 772.5h1.5v7.5h-1.5zM689.1 771h1.5v7.5h-1.5zM812.1 772.5h1.5v6h-1.5zM815.1 772.5h1.5v6h-1.5zM878.1 768h1.5v7.5h-1.5zM891.6 774h1.5v6h-1.5zM998.1 771h1.5v9h-1.5zM1157.1 771h1.5v7.5h-1.5zM1184.1 774h1.5v3h-1.5zM1194.6 772.5h1.5v4.5h-1.5zM1227.6 774h1.5v1.5h-1.5zM1301.1 771h1.5v9h-1.5zM1316.1 769.5h1.5v6h-1.5zM9.6 835.5h1.5v6h-1.5zM158.1 831h1.5v7.5h-1.5zM179.1 831h1.5v12h-1.5zM240.6 835.5h1.5v6h-1.5zM278.1 829.5h1.5v9h-1.5zM293.1 834h1.5v3h-1.5zM297.6 834h1.5v6h-1.5zM402.6 834h1.5v4.5h-1.5zM410.1 831h1.5v6h-1.5zM438.6 835.5h1.5v10.5h-1.5zM494.1 835.5h1.5v3h-1.5zM506.1 835.5h1.5v3h-1.5zM521.1 835.5h1.5v4.5h-1.5zM524.1 835.5h1.5v4.5h-1.5zM581.1 835.5h1.5v1.5h-1.5zM596.1 826.5h1.5v10.5h-1.5zM635.1 835.5h1.5v3h-1.5zM734.1 835.5h1.5v7.5h-1.5zM794.1 835.5h1.5v6h-1.5zM830.1 832.5h1.5v9h-1.5zM858.6 834h1.5v3h-1.5zM900.6 832.5h1.5v6h-1.5zM909.6 834h1.5v3h-1.5zM915.6 835.5h1.5v3h-1.5zM984.6 831h1.5v6h-1.5zM1032.6 826.5h1.5v12h-1.5zM1094.1 828h1.5v12h-1.5zM1247.1 834h1.5v3h-1.5zM1292.1 826.5h1.5v10.5h-1.5zM1442.1 835.5h1.5v10.5h-1.5zM21.6 811.5h1.5v3h-1.5zM129.6 810h1.5v3h-1.5zM182.1 807h1.5v12h-1.5zM234.6 811.5h1.5v9h-1.5zM281.1 811.5h1.5v9h-1.5zM284.1 811.5h1.5v1.5h-1.5zM303.6 810h1.5v6h-1.5zM398.1 807h1.5v9h-1.5zM414.6 810h1.5v6h-1.5zM434.1 808.5h1.5v6h-1.5zM599.1 807h1.5v10.5h-1.5zM626.1 804h1.5v12h-1.5zM641.1 808.5h1.5v6h-1.5zM728.1 807h1.5v7.5h-1.5zM800.1 811.5h1.5v6h-1.5zM825.6 811.5h1.5v6h-1.5zM870.6 807h1.5v7.5h-1.5zM897.6 810h1.5v10.5h-1.5zM992.1 807h1.5v7.5h-1.5zM1031.1 811.5h1.5v15h-1.5zM1097.1 804h1.5v12h-1.5zM1236.6 804h1.5v9h-1.5zM1295.1 807h1.5v10.5h-1.5zM1325.1 808.5h1.5v4.5h-1.5zM35.1 757.5h1.5v3h-1.5zM69.6 757.5h1.5v3h-1.5zM201.6 756h1.5v4.5h-1.5zM215.1 757.5h1.5v3h-1.5zM348.6 757.5h1.5v3h-1.5zM371.1 754.5h1.5v7.5h-1.5zM612.6 754.5h1.5v6h-1.5zM617.1 759h1.5v4.5h-1.5zM666.6 759h1.5v3h-1.5zM684.6 757.5h1.5v4.5h-1.5zM1002.6 759h1.5v3h-1.5zM1016.1 757.5h1.5v6h-1.5zM1304.1 759h1.5v4.5h-1.5zM1313.1 756h1.5v6h-1.5zM5.1 853.5h1.5v4.5h-1.5zM162.6 852h1.5v7.5h-1.5zM176.1 850.5h1.5v6h-1.5zM246.6 853.5h1.5v4.5h-1.5zM275.1 847.5h1.5v9h-1.5zM440.1 846h1.5v12h-1.5zM486.6 850.5h1.5v6h-1.5zM513.6 850.5h1.5v4.5h-1.5zM516.6 850.5h1.5v4.5h-1.5zM530.1 853.5h1.5v3h-1.5zM567.6 853.5h1.5v1.5h-1.5zM737.1 850.5h1.5v9h-1.5zM789.6 852h1.5v4.5h-1.5zM833.1 850.5h1.5v4.5h-1.5zM921.6 850.5h1.5v4.5h-1.5zM978.6 853.5h1.5v3h-1.5zM1037.1 852h1.5v7.5h-1.5zM1089.6 853.5h1.5v6h-1.5zM1253.1 849h1.5v7.5h-1.5zM1286.1 852h1.5v4.5h-1.5zM1353.6 852h1.5v4.5h-1.5zM1395.6 853.5h1.5v3h-1.5zM1413.6 852h1.5v4.5h-1.5zM1424.1 853.5h1.5v1.5h-1.5zM1440.6 846h1.5v9h-1.5zM38.1 753h1.5v1.5h-1.5zM66.6 751.5h1.5v3h-1.5zM212.1 751.5h1.5v3h-1.5zM353.1 753h1.5v1.5h-1.5zM369.6 751.5h1.5v3h-1.5zM614.1 751.5h1.5v3h-1.5zM1005.6 753h1.5v3h-1.5zM1014.6 751.5h1.5v6h-1.5zM8.1 841.5h1.5v6h-1.5zM159.6 838.5h1.5v6h-1.5zM177.6 843h1.5v7.5h-1.5zM242.1 841.5h1.5v4.5h-1.5zM276.6 838.5h1.5v9h-1.5zM296.1 841.5h1.5v3h-1.5zM489.6 843h1.5v3h-1.5zM510.6 843h1.5v4.5h-1.5zM519.6 840h1.5v6h-1.5zM525.6 840h1.5v6h-1.5zM578.1 841.5h1.5v3h-1.5zM735.6 843h1.5v7.5h-1.5zM792.6 841.5h1.5v6h-1.5zM831.6 841.5h1.5v9h-1.5zM845.1 843h1.5v3h-1.5zM918.6 843h1.5v3h-1.5zM981.6 843h1.5v6h-1.5zM1034.1 838.5h1.5v7.5h-1.5zM1092.6 840h1.5v7.5h-1.5zM1251.6 843h1.5v6h-1.5zM1290.6 837h1.5v7.5h-1.5zM1350.6 843h1.5v3h-1.5zM1404.6 843h1.5v1.5h-1.5zM33.6 760.5h1.5v1.5h-1.5zM200.1 760.5h1.5v6h-1.5zM216.6 760.5h1.5v3h-1.5zM347.1 760.5h1.5v3h-1.5zM611.1 760.5h1.5v4.5h-1.5zM1164.6 760.5h1.5v1.5h-1.5zM1205.1 760.5h1.5v1.5h-1.5zM116.1 775.5h1.5v1.5h-1.5zM335.1 775.5h1.5v4.5h-1.5zM375.6 775.5h1.5v6h-1.5zM606.6 775.5h1.5v4.5h-1.5zM876.6 775.5h1.5v9h-1.5zM1026.6 775.5h1.5v6h-1.5zM1113.6 775.5h1.5v1.5h-1.5zM1229.1 775.5h1.5v1.5h-1.5zM1317.6 775.5h1.5v7.5h-1.5zM294.6 837h1.5v3h-1.5zM408.6 837h1.5v3h-1.5zM594.6 837h1.5v4.5h-1.5zM857.1 837h1.5v3h-1.5zM908.1 837h1.5v3h-1.5zM983.1 837h1.5v6h-1.5zM1248.6 837h1.5v3h-1.5zM20.1 814.5h1.5v4.5h-1.5zM132.6 816h1.5v6h-1.5zM149.1 817.5h1.5v4.5h-1.5zM152.1 817.5h1.5v1.5h-1.5zM287.1 816h1.5v4.5h-1.5zM302.1 816h1.5v6h-1.5zM399.6 816h1.5v9h-1.5zM413.1 816h1.5v7.5h-1.5zM435.6 814.5h1.5v9h-1.5zM597.6 817.5h1.5v9h-1.5zM627.6 816h1.5v7.5h-1.5zM639.6 814.5h1.5v6h-1.5zM729.6 814.5h1.5v7.5h-1.5zM798.6 817.5h1.5v6h-1.5zM827.1 817.5h1.5v6h-1.5zM869.1 814.5h1.5v6h-1.5zM990.6 814.5h1.5v4.5h-1.5zM1095.6 816h1.5v12h-1.5zM1238.1 813h1.5v6h-1.5zM1293.6 817.5h1.5v9h-1.5zM1328.1 817.5h1.5v4.5h-1.5zM99.6 771h1.5v3h-1.5zM197.1 771h1.5v3h-1.5zM221.1 769.5h1.5v4.5h-1.5zM620.1 769.5h1.5v4.5h-1.5zM890.1 769.5h1.5v4.5h-1.5zM1182.6 771h1.5v3h-1.5zM1211.1 772.5h1.5v1.5h-1.5zM1226.1 771h1.5v3h-1.5zM165.6 864h1.5v3h-1.5zM173.1 862.5h1.5v4.5h-1.5zM251.1 864h1.5v1.5h-1.5zM261.6 864h1.5v1.5h-1.5zM264.6 864h1.5v3h-1.5zM273.6 856.5h1.5v9h-1.5zM443.1 864h1.5v3h-1.5zM483.6 862.5h1.5v6h-1.5zM534.6 862.5h1.5v3h-1.5zM551.1 864h1.5v1.5h-1.5zM560.1 864h1.5v1.5h-1.5zM563.1 862.5h1.5v3h-1.5zM738.6 859.5h1.5v7.5h-1.5zM780.6 864h1.5v1.5h-1.5zM926.1 864h1.5v1.5h-1.5zM936.6 864h1.5v3h-1.5zM956.1 862.5h1.5v6h-1.5zM965.1 862.5h1.5v3h-1.5zM975.6 861h1.5v4.5h-1.5zM1040.1 864h1.5v1.5h-1.5zM1086.6 864h1.5v6h-1.5zM1254.6 856.5h1.5v9h-1.5zM1275.6 862.5h1.5v6h-1.5zM1356.6 861h1.5v6h-1.5zM1370.1 864h1.5v1.5h-1.5zM1430.1 864h1.5v1.5h-1.5zM1439.1 855h1.5v10.5h-1.5zM117.6 777h1.5v4.5h-1.5zM194.1 777h1.5v1.5h-1.5zM224.1 777h1.5v3h-1.5zM420.6 777h1.5v9h-1.5zM423.6 777h1.5v1.5h-1.5zM1106.1 777h1.5v1.5h-1.5zM1185.6 777h1.5v1.5h-1.5zM1193.1 777h1.5v3h-1.5zM1230.6 777h1.5v3h-1.5zM32.1 762h1.5v3h-1.5zM71.1 762h1.5v1.5h-1.5zM372.6 762h1.5v6h-1.5zM665.1 762h1.5v1.5h-1.5zM686.1 762h1.5v3h-1.5zM887.1 762h1.5v1.5h-1.5zM1001.1 762h1.5v3h-1.5zM1163.1 762h1.5v1.5h-1.5zM1166.1 762h1.5v1.5h-1.5zM1203.6 762h1.5v1.5h-1.5zM1206.6 762h1.5v3h-1.5zM1314.6 762h1.5v7.5h-1.5zM6.6 847.5h1.5v6h-1.5zM161.1 844.5h1.5v7.5h-1.5zM243.6 846h1.5v4.5h-1.5zM488.1 846h1.5v4.5h-1.5zM512.1 847.5h1.5v3h-1.5zM518.1 846h1.5v4.5h-1.5zM527.1 846h1.5v4.5h-1.5zM791.1 847.5h1.5v4.5h-1.5zM842.1 849h1.5v3h-1.5zM920.1 846h1.5v4.5h-1.5zM980.1 849h1.5v4.5h-1.5zM1035.6 846h1.5v6h-1.5zM1091.1 847.5h1.5v6h-1.5zM1287.6 849h1.5v3h-1.5zM1352.1 846h1.5v6h-1.5zM1398.6 849h1.5v1.5h-1.5zM1412.1 849h1.5v3h-1.5zM27.6 780h1.5v10.5h-1.5zM191.1 780h1.5v3h-1.5zM225.6 780h1.5v3h-1.5zM333.6 780h1.5v4.5h-1.5zM425.1 778.5h1.5v4.5h-1.5zM605.1 780h1.5v4.5h-1.5zM657.6 780h1.5v7.5h-1.5zM690.6 778.5h1.5v7.5h-1.5zM714.6 780h1.5v1.5h-1.5zM720.6 778.5h1.5v3h-1.5zM810.6 778.5h1.5v4.5h-1.5zM816.6 778.5h1.5v6h-1.5zM893.1 780h1.5v7.5h-1.5zM996.6 780h1.5v9h-1.5zM1104.6 778.5h1.5v4.5h-1.5zM1119.6 780h1.5v3h-1.5zM1155.6 778.5h1.5v7.5h-1.5zM1232.1 780h1.5v6h-1.5zM1299.6 780h1.5v7.5h-1.5zM576.6 844.5h1.5v3h-1.5zM1289.1 844.5h1.5v4.5h-1.5zM1403.1 844.5h1.5v1.5h-1.5zM18.6 819h1.5v3h-1.5zM153.6 819h1.5v3h-1.5zM180.6 819h1.5v12h-1.5zM989.1 819h1.5v3h-1.5zM1239.6 819h1.5v3h-1.5zM491.1 841.5h1.5v1.5h-1.5zM509.1 840h1.5v3h-1.5zM846.6 841.5h1.5v1.5h-1.5zM855.6 840h1.5v3h-1.5zM917.1 838.5h1.5v4.5h-1.5zM1250.1 840h1.5v3h-1.5zM1349.1 841.5h1.5v1.5h-1.5zM30.6 765h1.5v6h-1.5zM89.1 768h1.5v3h-1.5zM101.1 768h1.5v3h-1.5zM111.6 769.5h1.5v1.5h-1.5zM198.6 766.5h1.5v4.5h-1.5zM609.6 765h1.5v6h-1.5zM660.6 768h1.5v4.5h-1.5zM687.6 765h1.5v6h-1.5zM813.6 769.5h1.5v3h-1.5zM999.6 765h1.5v6h-1.5zM1019.1 769.5h1.5v1.5h-1.5zM1158.6 766.5h1.5v4.5h-1.5zM1181.1 769.5h1.5v1.5h-1.5zM1196.1 769.5h1.5v3h-1.5zM1209.6 768h1.5v3h-1.5zM1214.1 769.5h1.5v1.5h-1.5zM1224.6 769.5h1.5v1.5h-1.5zM1302.6 763.5h1.5v7.5h-1.5zM26.1 790.5h1.5v9h-1.5zM122.1 793.5h1.5v6h-1.5zM185.1 795h1.5v4.5h-1.5zM231.6 793.5h1.5v9h-1.5zM308.1 792h1.5v6h-1.5zM314.1 795h1.5v3h-1.5zM383.1 795h1.5v3h-1.5zM393.6 793.5h1.5v4.5h-1.5zM417.6 793.5h1.5v9h-1.5zM431.1 796.5h1.5v6h-1.5zM600.6 796.5h1.5v10.5h-1.5zM624.6 793.5h1.5v10.5h-1.5zM645.6 795h1.5v4.5h-1.5zM725.1 793.5h1.5v7.5h-1.5zM806.1 793.5h1.5v4.5h-1.5zM821.1 795h1.5v6h-1.5zM873.6 792h1.5v7.5h-1.5zM894.6 787.5h1.5v12h-1.5zM995.1 789h1.5v9h-1.5zM1029.6 796.5h1.5v15h-1.5zM1098.6 796.5h1.5v7.5h-1.5zM1128.6 795h1.5v4.5h-1.5zM1235.1 795h1.5v9h-1.5zM1296.6 796.5h1.5v10.5h-1.5zM1322.1 796.5h1.5v6h-1.5zM119.1 781.5h1.5v6h-1.5zM189.6 783h1.5v3h-1.5zM227.1 783h1.5v3h-1.5zM332.1 784.5h1.5v3h-1.5zM378.6 784.5h1.5v3h-1.5zM389.1 783h1.5v3h-1.5zM426.6 783h1.5v4.5h-1.5zM603.6 784.5h1.5v4.5h-1.5zM623.1 781.5h1.5v12h-1.5zM707.1 784.5h1.5v3h-1.5zM722.1 781.5h1.5v6h-1.5zM809.1 783h1.5v6h-1.5zM818.1 784.5h1.5v6h-1.5zM875.1 784.5h1.5v7.5h-1.5zM1028.1 781.5h1.5v15h-1.5zM1103.1 783h1.5v4.5h-1.5zM1122.6 784.5h1.5v1.5h-1.5zM1319.1 783h1.5v6h-1.5zM12.6 828h1.5v3h-1.5zM135.6 828h1.5v6h-1.5zM146.1 828h1.5v4.5h-1.5zM156.6 825h1.5v6h-1.5zM237.6 826.5h1.5v4.5h-1.5zM279.6 820.5h1.5v9h-1.5zM290.1 825h1.5v4.5h-1.5zM299.1 828h1.5v6h-1.5zM401.1 825h1.5v9h-1.5zM411.6 823.5h1.5v7.5h-1.5zM437.1 823.5h1.5v12h-1.5zM630.6 826.5h1.5v3h-1.5zM636.6 828h1.5v6h-1.5zM732.6 828h1.5v7.5h-1.5zM797.1 823.5h1.5v6h-1.5zM828.6 823.5h1.5v9h-1.5zM866.1 828h1.5v3h-1.5zM899.1 820.5h1.5v12h-1.5zM986.1 826.5h1.5v4.5h-1.5zM1244.1 828h1.5v3h-1.5zM1331.1 826.5h1.5v3h-1.5zM245.1 850.5h1.5v3h-1.5zM528.6 850.5h1.5v3h-1.5zM1397.1 850.5h1.5v3h-1.5zM174.6 856.5h1.5v6h-1.5zM485.1 856.5h1.5v6h-1.5zM515.1 855h1.5v3h-1.5zM531.6 856.5h1.5v3h-1.5zM566.1 855h1.5v3h-1.5zM788.1 856.5h1.5v6h-1.5zM923.1 855h1.5v3h-1.5zM977.1 856.5h1.5v4.5h-1.5zM1284.6 856.5h1.5v1.5h-1.5zM1355.1 856.5h1.5v4.5h-1.5zM1394.1 856.5h1.5v3h-1.5zM1415.1 856.5h1.5v3h-1.5zM1421.1 856.5h1.5v1.5h-1.5zM1425.6 855h1.5v3h-1.5zM24.6 799.5h1.5v7.5h-1.5zM123.6 799.5h1.5v4.5h-1.5zM183.6 799.5h1.5v7.5h-1.5zM233.1 802.5h1.5v9h-1.5zM306.6 798h1.5v6h-1.5zM396.6 801h1.5v6h-1.5zM416.1 802.5h1.5v7.5h-1.5zM432.6 802.5h1.5v6h-1.5zM644.1 799.5h1.5v4.5h-1.5zM726.6 801h1.5v6h-1.5zM803.1 802.5h1.5v4.5h-1.5zM822.6 801h1.5v4.5h-1.5zM872.1 799.5h1.5v7.5h-1.5zM896.1 799.5h1.5v10.5h-1.5zM993.6 798h1.5v9h-1.5zM1131.6 802.5h1.5v1.5h-1.5zM1142.1 801h1.5v3h-1.5zM1323.6 802.5h1.5v6h-1.5zM170.1 873h1.5v3h-1.5zM269.1 873h1.5v1.5h-1.5zM272.1 865.5h1.5v9h-1.5zM449.1 873h1.5v1.5h-1.5zM468.6 873h1.5v1.5h-1.5zM777.6 870h1.5v6h-1.5zM1047.6 873h1.5v1.5h-1.5zM1056.6 873h1.5v3h-1.5zM1073.1 873h1.5v1.5h-1.5zM1257.6 873h1.5v4.5h-1.5zM1272.6 873h1.5v4.5h-1.5zM1376.1 871.5h1.5v3h-1.5zM1379.1 873h1.5v1.5h-1.5zM23.1 807h1.5v4.5h-1.5zM126.6 807h1.5v1.5h-1.5zM282.6 805.5h1.5v3h-1.5zM305.1 804h1.5v6h-1.5zM642.6 804h1.5v4.5h-1.5zM801.6 807h1.5v4.5h-1.5zM824.1 805.5h1.5v6h-1.5zM11.1 831h1.5v4.5h-1.5zM137.1 834h1.5v1.5h-1.5zM239.1 831h1.5v4.5h-1.5zM495.6 834h1.5v1.5h-1.5zM504.6 834h1.5v1.5h-1.5zM522.6 832.5h1.5v3h-1.5zM795.6 829.5h1.5v6h-1.5zM914.1 832.5h1.5v3h-1.5zM1443.6 829.5h1.5v6h-1.5zM188.1 786h1.5v4.5h-1.5zM228.6 786h1.5v3h-1.5zM387.6 786h1.5v3h-1.5zM390.6 786h1.5v3h-1.5zM419.1 786h1.5v7.5h-1.5zM692.1 786h1.5v7.5h-1.5zM1124.1 786h1.5v3h-1.5zM1154.1 786h1.5v7.5h-1.5zM1233.6 786h1.5v9h-1.5zM248.1 858h1.5v3h-1.5zM441.6 858h1.5v6h-1.5zM555.6 858h1.5v1.5h-1.5zM564.6 858h1.5v4.5h-1.5zM924.6 858h1.5v4.5h-1.5zM933.6 858h1.5v1.5h-1.5zM957.6 858h1.5v4.5h-1.5zM960.6 858h1.5v1.5h-1.5zM1277.1 858h1.5v4.5h-1.5zM1419.6 858h1.5v1.5h-1.5zM1427.1 858h1.5v3h-1.5zM252.6 865.5h1.5v1.5h-1.5zM260.1 865.5h1.5v1.5h-1.5zM536.1 865.5h1.5v1.5h-1.5zM549.6 865.5h1.5v1.5h-1.5zM779.1 865.5h1.5v4.5h-1.5zM966.6 865.5h1.5v1.5h-1.5zM974.1 865.5h1.5v3h-1.5zM1041.6 865.5h1.5v1.5h-1.5zM1256.1 865.5h1.5v7.5h-1.5zM1371.6 865.5h1.5v3h-1.5zM1431.6 865.5h1.5v1.5h-1.5zM1437.6 865.5h1.5v3h-1.5zM1437.6 870h1.5v1.5h-1.5zM492.6 838.5h1.5v3h-1.5zM579.6 838.5h1.5v3h-1.5zM587.1 840h1.5v1.5h-1.5zM1347.6 840h1.5v1.5h-1.5zM236.1 820.5h1.5v6h-1.5zM288.6 820.5h1.5v4.5h-1.5zM638.1 820.5h1.5v7.5h-1.5zM867.6 820.5h1.5v7.5h-1.5zM17.1 822h1.5v3h-1.5zM134.1 822h1.5v6h-1.5zM147.6 822h1.5v6h-1.5zM155.1 822h1.5v3h-1.5zM300.6 822h1.5v6h-1.5zM629.1 823.5h1.5v3h-1.5zM731.1 822h1.5v6h-1.5zM987.6 822h1.5v4.5h-1.5zM1241.1 822h1.5v3h-1.5zM1329.6 822h1.5v4.5h-1.5zM840.6 852h1.5v1.5h-1.5zM120.6 787.5h1.5v6h-1.5zM230.1 789h1.5v4.5h-1.5zM309.6 789h1.5v1.5h-1.5zM330.6 787.5h1.5v4.5h-1.5zM380.1 787.5h1.5v4.5h-1.5zM386.1 789h1.5v3h-1.5zM392.1 789h1.5v4.5h-1.5zM428.1 787.5h1.5v3h-1.5zM602.1 789h1.5v7.5h-1.5zM656.1 787.5h1.5v7.5h-1.5zM705.6 787.5h1.5v3h-1.5zM723.6 787.5h1.5v6h-1.5zM807.6 789h1.5v4.5h-1.5zM1101.6 787.5h1.5v4.5h-1.5zM1125.6 789h1.5v3h-1.5zM1298.1 787.5h1.5v9h-1.5zM1320.6 789h1.5v7.5h-1.5zM164.1 859.5h1.5v4.5h-1.5zM533.1 859.5h1.5v3h-1.5zM554.1 859.5h1.5v1.5h-1.5zM557.1 859.5h1.5v3h-1.5zM962.1 859.5h1.5v1.5h-1.5zM1038.6 859.5h1.5v4.5h-1.5zM1088.1 859.5h1.5v4.5h-1.5zM1392.6 859.5h1.5v3h-1.5zM168.6 870h1.5v3h-1.5zM171.6 867h1.5v6h-1.5zM257.1 870h1.5v1.5h-1.5zM267.6 870h1.5v3h-1.5zM447.6 870h1.5v3h-1.5zM482.1 868.5h1.5v3h-1.5zM542.1 870h1.5v1.5h-1.5zM740.1 867h1.5v4.5h-1.5zM947.1 870h1.5v1.5h-1.5zM954.6 868.5h1.5v4.5h-1.5zM972.6 870h1.5v1.5h-1.5zM1044.6 870h1.5v1.5h-1.5zM1076.1 870h1.5v1.5h-1.5zM1274.1 868.5h1.5v4.5h-1.5zM1374.6 870h1.5v1.5h-1.5zM1380.6 870h1.5v3h-1.5zM648.6 787.5h1.5v1.5h-1.5zM291.6 829.5h1.5v4.5h-1.5zM632.1 829.5h1.5v3h-1.5zM912.6 829.5h1.5v1.5h-1.5zM1332.6 829.5h1.5v1.5h-1.5zM1245.6 831h1.5v3h-1.5zM1334.1 831h1.5v1.5h-1.5zM128.1 808.5h1.5v1.5h-1.5zM464.1 883.5h1.5v4.5h-1.5zM741.6 871.5h1.5v1.5h-1.5zM939.6 871.5h1.5v1.5h-1.5zM1046.1 871.5h1.5v1.5h-1.5zM1058.1 871.5h1.5v1.5h-1.5zM1067.1 871.5h1.5v1.5h-1.5zM1074.6 871.5h1.5v1.5h-1.5zM1085.1 871.5h1.5v1.5h-1.5zM453.6 880.5h1.5v3h-1.5zM465.6 879h1.5v4.5h-1.5zM750.6 880.5h1.5v3h-1.5zM758.1 880.5h1.5v3h-1.5zM765.6 880.5h1.5v1.5h-1.5zM774.6 880.5h1.5v1.5h-1.5zM1262.1 880.5h1.5v3h-1.5zM1269.6 880.5h1.5v1.5h-1.5zM14.1 826.5h1.5v1.5h-1.5zM1242.6 825h1.5v3h-1.5zM959.1 855h1.5v1.5h-1.5zM1278.6 855h1.5v1.5h-1.5zM1422.6 855h1.5v1.5h-1.5zM843.6 846h1.5v3h-1.5zM1401.6 846h1.5v1.5h-1.5zM125.1 804h1.5v3h-1.5zM186.6 790.5h1.5v4.5h-1.5zM429.6 790.5h1.5v6h-1.5zM647.1 790.5h1.5v4.5h-1.5zM650.1 790.5h1.5v1.5h-1.5zM704.1 790.5h1.5v3h-1.5zM819.6 790.5h1.5v4.5h-1.5zM249.6 861h1.5v3h-1.5zM552.6 861h1.5v3h-1.5zM558.6 862.5h1.5v1.5h-1.5zM786.6 862.5h1.5v1.5h-1.5zM935.1 861h1.5v3h-1.5zM1391.1 862.5h1.5v1.5h-1.5zM1428.6 861h1.5v3h-1.5zM144.6 832.5h1.5v1.5h-1.5zM503.1 832.5h1.5v1.5h-1.5zM633.6 832.5h1.5v1.5h-1.5zM860.1 832.5h1.5v1.5h-1.5zM911.1 832.5h1.5v1.5h-1.5zM1335.6 832.5h1.5v1.5h-1.5zM395.1 798h1.5v3h-1.5zM654.6 798h1.5v1.5h-1.5zM804.6 798h1.5v4.5h-1.5zM507.6 838.5h1.5v1.5h-1.5zM1346.1 838.5h1.5v1.5h-1.5zM377.1 781.5h1.5v3h-1.5zM1121.1 783h1.5v1.5h-1.5zM192.6 778.5h1.5v1.5h-1.5zM1118.1 778.5h1.5v1.5h-1.5zM1187.1 778.5h1.5v1.5h-1.5zM87.6 766.5h1.5v1.5h-1.5zM102.6 765h1.5v3h-1.5zM219.6 766.5h1.5v3h-1.5zM344.1 765h1.5v3h-1.5zM618.6 763.5h1.5v6h-1.5zM662.1 765h1.5v3h-1.5zM879.6 765h1.5v3h-1.5zM888.6 763.5h1.5v6h-1.5zM1017.6 763.5h1.5v6h-1.5zM1170.6 766.5h1.5v1.5h-1.5zM1179.6 766.5h1.5v3h-1.5zM1197.6 766.5h1.5v3h-1.5zM1208.1 765h1.5v3h-1.5zM1215.6 766.5h1.5v3h-1.5zM1221.6 766.5h1.5v1.5h-1.5zM131.1 813h1.5v3h-1.5zM150.6 814.5h1.5v1.5h-1.5zM285.6 813h1.5v3h-1.5zM1326.6 813h1.5v4.5h-1.5zM167.1 867h1.5v3h-1.5zM255.6 868.5h1.5v1.5h-1.5zM258.6 867h1.5v3h-1.5zM266.1 867h1.5v3h-1.5zM446.1 868.5h1.5v1.5h-1.5zM540.6 868.5h1.5v1.5h-1.5zM938.1 867h1.5v3h-1.5zM1043.1 867h1.5v3h-1.5zM1077.6 868.5h1.5v1.5h-1.5zM1080.6 868.5h1.5v1.5h-1.5zM1373.1 868.5h1.5v1.5h-1.5zM1382.1 868.5h1.5v1.5h-1.5zM1191.6 781.5h1.5v1.5h-1.5zM270.6 876h1.5v3h-1.5zM450.6 874.5h1.5v3h-1.5zM467.1 874.5h1.5v4.5h-1.5zM747.6 876h1.5v1.5h-1.5zM761.1 876h1.5v1.5h-1.5zM776.1 876h1.5v4.5h-1.5zM1049.1 874.5h1.5v3h-1.5zM1055.1 876h1.5v1.5h-1.5zM263.1 861h1.5v1.5h-1.5zM963.6 861h1.5v1.5h-1.5zM1416.6 861h1.5v1.5h-1.5zM110.1 768h1.5v1.5h-1.5zM342.6 768h1.5v1.5h-1.5zM1172.1 768h1.5v1.5h-1.5zM1223.1 768h1.5v1.5h-1.5zM312.6 793.5h1.5v1.5h-1.5zM381.6 792h1.5v3h-1.5zM384.6 792h1.5v3h-1.5zM651.6 792h1.5v3h-1.5zM693.6 793.5h1.5v3h-1.5zM702.6 793.5h1.5v3h-1.5zM1100.1 792h1.5v4.5h-1.5zM1127.1 792h1.5v3h-1.5zM1152.6 793.5h1.5v3h-1.5zM41.1 747h1.5v3h-1.5zM65.1 748.5h1.5v3h-1.5zM1013.1 748.5h1.5v1.5h-1.5zM1130.1 799.5h1.5v3h-1.5zM39.6 750h1.5v3h-1.5zM354.6 751.5h1.5v1.5h-1.5zM681.6 751.5h1.5v1.5h-1.5zM1311.6 751.5h1.5v1.5h-1.5zM1311.6 754.5h1.5v1.5h-1.5zM86.1 763.5h1.5v3h-1.5zM104.1 763.5h1.5v1.5h-1.5zM218.1 763.5h1.5v3h-1.5zM345.6 763.5h1.5v1.5h-1.5zM663.6 763.5h1.5v1.5h-1.5zM1161.6 763.5h1.5v1.5h-1.5zM1167.6 763.5h1.5v1.5h-1.5zM1218.6 763.5h1.5v1.5h-1.5zM254.1 867h1.5v1.5h-1.5zM444.6 867h1.5v1.5h-1.5zM561.6 867h1.5v1.5h-1.5zM968.1 867h1.5v1.5h-1.5zM1079.1 867h1.5v1.5h-1.5zM1358.1 867h1.5v1.5h-1.5zM1365.6 867h1.5v1.5h-1.5zM36.6 754.5h1.5v3h-1.5zM68.1 754.5h1.5v3h-1.5zM203.1 754.5h1.5v1.5h-1.5zM213.6 754.5h1.5v3h-1.5zM351.6 754.5h1.5v1.5h-1.5zM615.6 754.5h1.5v4.5h-1.5zM683.1 754.5h1.5v3h-1.5zM1308.6 754.5h1.5v1.5h-1.5zM15.6 825h1.5v1.5h-1.5zM455.1 883.5h1.5v3h-1.5zM752.1 883.5h1.5v3h-1.5zM756.6 883.5h1.5v1.5h-1.5zM1263.6 883.5h1.5v1.5h-1.5zM1266.6 883.5h1.5v1.5h-1.5zM1140.6 804h1.5v1.5h-1.5zM311.1 792h1.5v1.5h-1.5zM329.1 792h1.5v1.5h-1.5zM755.1 885h1.5v1.5h-1.5zM1265.1 885h1.5v1.5h-1.5zM452.1 877.5h1.5v3h-1.5zM749.1 877.5h1.5v3h-1.5zM759.6 877.5h1.5v3h-1.5zM762.6 877.5h1.5v1.5h-1.5zM1050.6 877.5h1.5v1.5h-1.5zM1053.6 877.5h1.5v1.5h-1.5zM1259.1 877.5h1.5v1.5h-1.5zM1271.1 877.5h1.5v3h-1.5zM1268.1 882h1.5v1.5h-1.5zM350.1 756h1.5v1.5h-1.5zM1004.1 756h1.5v3h-1.5zM1307.1 756h1.5v1.5h-1.5zM113.1 771h1.5v1.5h-1.5zM338.1 771h1.5v1.5h-1.5zM53.1 747h1.5v1.5h-1.5zM575.1 847.5h1.5v1.5h-1.5zM1400.1 847.5h1.5v1.5h-1.5zM1410.6 847.5h1.5v1.5h-1.5zM105.6 765h1.5v1.5h-1.5zM1160.1 765h1.5v1.5h-1.5zM1169.1 765h1.5v1.5h-1.5zM1199.1 765h1.5v1.5h-1.5zM1217.1 765h1.5v1.5h-1.5zM1220.1 765h1.5v1.5h-1.5zM1305.6 757.5h1.5v1.5h-1.5zM57.6 750h1.5v1.5h-1.5zM764.1 879h1.5v1.5h-1.5zM1052.1 879h1.5v1.5h-1.5zM1260.6 879h1.5v1.5h-1.5zM746.1 874.5h1.5v1.5h-1.5zM953.1 874.5h1.5v1.5h-1.5zM1071.6 874.5h1.5v1.5h-1.5zM1377.6 874.5h1.5v1.5h-1.5zM1143.6 799.5h1.5v1.5h-1.5zM42.6 744h1.5v3h-1.5zM753.6 888h1.5v1.5h-1.5zM462.6 889.5h1.5v1.5h-1.5z"/>
<path fill="#ffff00" d="M101.1 774h6v1.5h-6zM114.6 774h4.5v1.5h-4.5zM273.6 834h4.5v1.5h-4.5zM1281.6 834h3v1.5h-3zM282.6 829.5h10.5v1.5h-10.5zM299.1 829.5h3v1.5h-3zM756.6 829.5h3v1.5h-3zM839.1 829.5h4.5v1.5h-4.5zM870.6 829.5h3v1.5h-3zM929.1 829.5h3v1.5h-3zM1274.1 829.5h3v1.5h-3zM546.6 853.5h12v1.5h-12zM576.6 853.5h3v1.5h-3zM971.1 853.5h10.5v1.5h-10.5zM1433.1 853.5h3v1.5h-3zM69.6 781.5h3v1.5h-3zM363.6 781.5h3v1.5h-3zM381.6 781.5h10.5v1.5h-10.5zM1200.6 781.5h3v1.5h-3zM332.1 810h3v1.5h-3zM653.1 810h3v1.5h-3zM1142.1 810h7.5v1.5h-7.5zM1332.6 810h3v1.5h-3zM477.6 847.5h3v1.5h-3zM492.6 847.5h4.5v1.5h-4.5zM533.1 847.5h4.5v1.5h-4.5zM776.1 847.5h3v1.5h-3zM956.1 847.5h6v1.5h-6zM1074.6 847.5h3v1.5h-3zM1386.6 847.5h3v1.5h-3zM1401.6 847.5h12v1.5h-12zM149.1 799.5h3v1.5h-3zM408.6 799.5h9v1.5h-9zM63.6 784.5h3v1.5h-3zM395.1 784.5h3v1.5h-3zM683.1 784.5h3v1.5h-3zM690.6 784.5h7.5v1.5h-7.5zM711.6 784.5h12v1.5h-12zM1193.1 784.5h3v1.5h-3zM140.1 793.5h3v1.5h-3zM1169.1 793.5h3v1.5h-3zM279.6 831h3v1.5h-3zM293.1 831h6v1.5h-6zM843.6 831h7.5v1.5h-7.5zM867.6 831h3v1.5h-3zM932.1 831h3v1.5h-3zM1277.1 831h3v1.5h-3zM192.6 813h3v1.5h-3zM327.6 813h3v1.5h-3zM621.6 813h3v1.5h-3zM647.1 813h3v1.5h-3zM903.6 813h3v1.5h-3zM1128.6 813h7.5v1.5h-7.5zM1338.6 813h3v1.5h-3zM170.1 820.5h3v1.5h-3zM182.1 820.5h3v1.5h-3zM312.6 820.5h3v1.5h-3zM917.1 820.5h3v1.5h-3zM173.1 822h3v1.5h-3zM179.1 822h3v1.5h-3zM819.6 822h9v1.5h-9zM540.6 850.5h3v1.5h-3zM585.6 850.5h6v1.5h-6zM783.6 850.5h7.5v1.5h-7.5zM965.1 850.5h3v1.5h-3zM983.1 850.5h3v1.5h-3zM1080.6 850.5h3v1.5h-3zM1089.6 850.5h4.5v1.5h-4.5zM1421.1 850.5h6v1.5h-6zM8.1 844.5h4.5v1.5h-4.5zM473.1 844.5h3v1.5h-3zM500.1 844.5h12v1.5h-12zM518.1 844.5h3v1.5h-3zM525.6 844.5h4.5v1.5h-4.5zM950.1 844.5h3v1.5h-3zM1379.1 844.5h3v1.5h-3zM321.6 816h3v1.5h-3zM617.1 816h3v1.5h-3zM630.6 816h3v1.5h-3zM638.1 816h6v1.5h-6zM908.1 816h3v1.5h-3zM1122.6 816h3v1.5h-3zM426.6 795h4.5v1.5h-4.5zM1166.1 795h3v1.5h-3zM698.1 786h13.5v1.5h-13.5zM723.6 786h3v1.5h-3zM1182.6 786h10.5v1.5h-10.5zM1062.6 838.5h3v1.5h-3zM543.6 852h3v1.5h-3zM579.6 852h6v1.5h-6zM968.1 852h3v1.5h-3zM1083.6 852h6v1.5h-6zM1427.1 852h6v1.5h-6zM1440.6 852h3v1.5h-3zM216.6 789h4.5v1.5h-4.5zM677.1 789h3v1.5h-3zM1175.1 789h3v1.5h-3zM75.6 778.5h4.5v1.5h-4.5zM369.6 778.5h9v1.5h-9zM1208.1 778.5h7.5v1.5h-7.5zM650.1 811.5h3v1.5h-3zM1136.1 811.5h6v1.5h-6zM1335.6 811.5h3v1.5h-3zM558.6 855h18v1.5h-18zM1436.1 855h3v1.5h-3zM5.1 846h3v1.5h-3zM497.1 846h3v1.5h-3zM512.1 846h6v1.5h-6zM530.1 846h3v1.5h-3zM797.1 846h3v1.5h-3zM953.1 846h3v1.5h-3zM989.1 846h3v1.5h-3zM1071.6 846h3v1.5h-3zM1382.1 846h4.5v1.5h-4.5zM176.1 823.5h3v1.5h-3zM816.6 823.5h3v1.5h-3zM897.6 808.5h3v1.5h-3zM1149.6 808.5h4.5v1.5h-4.5zM1329.6 808.5h3v1.5h-3zM186.6 817.5h3v1.5h-3zM318.6 817.5h3v1.5h-3zM633.6 817.5h4.5v1.5h-4.5zM911.1 817.5h3v1.5h-3zM1119.6 817.5h3v1.5h-3zM1346.1 817.5h3v1.5h-3zM1284.6 835.5h7.5v1.5h-7.5zM1367.1 835.5h3v1.5h-3zM270.6 832.5h3v1.5h-3zM851.1 832.5h16.5v1.5h-16.5zM1055.1 832.5h3v1.5h-3zM1293.6 832.5h3v1.5h-3zM1317.6 805.5h9v1.5h-9zM83.1 775.5h18v1.5h-18zM119.1 775.5h3v1.5h-3zM1221.6 775.5h12v1.5h-12zM890.1 807h3v1.5h-3zM894.6 807h3v1.5h-3zM1314.6 807h3v1.5h-3zM1326.6 807h3v1.5h-3zM146.1 798h3v1.5h-3zM345.6 798h3v1.5h-3zM417.6 798h3v1.5h-3zM434.1 798h3v1.5h-3zM107.1 772.5h7.5v1.5h-7.5zM942.6 840h3v1.5h-3zM1373.1 840h3v1.5h-3zM306.6 825h3v1.5h-3zM830.1 825h3v1.5h-3zM480.6 849h12v1.5h-12zM537.6 849h3v1.5h-3zM591.6 849h4.5v1.5h-4.5zM779.1 849h4.5v1.5h-4.5zM791.1 849h4.5v1.5h-4.5zM962.1 849h3v1.5h-3zM1077.6 849h3v1.5h-3zM1389.6 849h12v1.5h-12zM1413.6 849h7.5v1.5h-7.5zM302.1 828h3v1.5h-3zM836.1 828h3v1.5h-3zM926.1 828h3v1.5h-3zM1271.1 828h3v1.5h-3zM1020.6 804h3v1.5h-3zM1029.6 804h3v1.5h-3zM72.6 780h3v1.5h-3zM126.6 780h3v1.5h-3zM366.6 780h3v1.5h-3zM378.6 780h3v1.5h-3zM1203.6 780h4.5v1.5h-4.5zM15.6 841.5h3v1.5h-3zM12.6 843h3v1.5h-3zM470.1 843h3v1.5h-3zM521.1 843h4.5v1.5h-4.5zM770.1 843h3v1.5h-3zM947.1 843h3v1.5h-3zM152.1 801h3v1.5h-3zM663.6 801h3v1.5h-3zM213.6 790.5h3v1.5h-3zM155.1 802.5h3v1.5h-3zM1023.6 802.5h3v1.5h-3zM66.6 783h3v1.5h-3zM392.1 783h3v1.5h-3zM686.1 783h4.5v1.5h-4.5zM1196.1 783h4.5v1.5h-4.5zM221.1 787.5h10.5v1.5h-10.5zM726.6 787.5h3v1.5h-3zM1178.1 787.5h4.5v1.5h-4.5zM80.1 777h3v1.5h-3zM122.1 777h3v1.5h-3zM1215.6 777h6v1.5h-6zM315.6 819h3v1.5h-3zM914.1 819h3v1.5h-3zM1349.1 819h3v1.5h-3zM833.1 826.5h3v1.5h-3zM324.6 814.5h3v1.5h-3zM624.6 814.5h6v1.5h-6zM644.1 814.5h3v1.5h-3zM1125.6 814.5h3v1.5h-3zM1341.6 814.5h3v1.5h-3zM420.6 796.5h6v1.5h-6zM431.1 796.5h3v1.5h-3zM23.1 834h1.5v1.5h-1.5zM461.1 834h1.5v1.5h-1.5zM606.6 832.5h1.5v3h-1.5zM762.6 834h1.5v1.5h-1.5zM809.1 834h1.5v3h-1.5zM936.6 834h1.5v1.5h-1.5zM998.1 834h1.5v3h-1.5zM1058.1 834h1.5v1.5h-1.5zM1106.1 834h1.5v1.5h-1.5zM1292.1 834h1.5v1.5h-1.5zM1365.6 834h1.5v1.5h-1.5zM26.1 829.5h1.5v3h-1.5zM267.6 829.5h1.5v1.5h-1.5zM458.1 829.5h1.5v1.5h-1.5zM609.6 828h1.5v3h-1.5zM812.1 828h1.5v3h-1.5zM1001.1 829.5h1.5v3h-1.5zM1052.1 829.5h1.5v1.5h-1.5zM1109.1 829.5h1.5v1.5h-1.5zM1298.1 829.5h1.5v1.5h-1.5zM1361.1 829.5h1.5v1.5h-1.5zM1439.1 853.5h1.5v1.5h-1.5zM129.6 781.5h1.5v1.5h-1.5zM1238.1 781.5h1.5v1.5h-1.5zM41.1 808.5h1.5v3h-1.5zM162.6 810h1.5v1.5h-1.5zM197.1 810h1.5v1.5h-1.5zM249.6 810h1.5v1.5h-1.5zM443.1 808.5h1.5v3h-1.5zM743.1 810h1.5v1.5h-1.5zM887.1 810h1.5v1.5h-1.5zM900.6 810h1.5v1.5h-1.5zM1014.6 810h1.5v1.5h-1.5zM1035.6 808.5h1.5v3h-1.5zM1259.1 810h1.5v3h-1.5zM1311.6 810h1.5v1.5h-1.5zM596.1 847.5h1.5v1.5h-1.5zM795.6 847.5h1.5v1.5h-1.5zM987.6 847.5h1.5v1.5h-1.5zM1095.6 846h1.5v3h-1.5zM48.6 799.5h1.5v1.5h-1.5zM204.6 799.5h1.5v1.5h-1.5zM242.1 799.5h1.5v1.5h-1.5zM344.1 799.5h1.5v1.5h-1.5zM437.1 799.5h1.5v3h-1.5zM666.6 799.5h1.5v1.5h-1.5zM737.1 799.5h1.5v3h-1.5zM1161.6 799.5h1.5v1.5h-1.5zM1253.1 798h1.5v3h-1.5zM132.6 784.5h1.5v1.5h-1.5zM360.6 784.5h1.5v1.5h-1.5zM1241.1 784.5h1.5v3h-1.5zM54.6 793.5h1.5v1.5h-1.5zM210.6 793.5h1.5v1.5h-1.5zM236.1 793.5h1.5v1.5h-1.5zM351.6 793.5h1.5v1.5h-1.5zM404.1 793.5h1.5v1.5h-1.5zM672.6 793.5h1.5v1.5h-1.5zM732.6 793.5h1.5v1.5h-1.5zM1248.6 793.5h1.5v1.5h-1.5zM269.1 831h1.5v1.5h-1.5zM459.6 831h1.5v3h-1.5zM608.1 831h1.5v1.5h-1.5zM759.6 831h1.5v1.5h-1.5zM810.6 831h1.5v3h-1.5zM1053.6 831h1.5v1.5h-1.5zM1107.6 831h1.5v3h-1.5zM1296.6 831h1.5v1.5h-1.5zM1362.6 831h1.5v1.5h-1.5zM39.6 811.5h1.5v3h-1.5zM165.6 813h1.5v3h-1.5zM252.6 813h1.5v1.5h-1.5zM446.1 813h1.5v1.5h-1.5zM746.1 813h1.5v3h-1.5zM884.1 813h1.5v3h-1.5zM1011.6 813h1.5v1.5h-1.5zM1038.6 813h1.5v1.5h-1.5zM1260.6 813h1.5v1.5h-1.5zM1308.6 813h1.5v3h-1.5zM33.6 820.5h1.5v1.5h-1.5zM260.1 820.5h1.5v3h-1.5zM450.6 819h1.5v3h-1.5zM614.1 819h1.5v3h-1.5zM750.6 820.5h1.5v3h-1.5zM878.1 820.5h1.5v3h-1.5zM1005.6 820.5h1.5v3h-1.5zM1044.6 820.5h1.5v1.5h-1.5zM1116.6 820.5h1.5v1.5h-1.5zM1266.6 820.5h1.5v3h-1.5zM1302.6 820.5h1.5v3h-1.5zM1352.1 820.5h1.5v1.5h-1.5zM32.1 822h1.5v1.5h-1.5zM311.1 822h1.5v1.5h-1.5zM452.1 822h1.5v1.5h-1.5zM612.6 822h1.5v3h-1.5zM920.1 822h1.5v1.5h-1.5zM1046.1 822h1.5v1.5h-1.5zM1115.1 822h1.5v1.5h-1.5zM1353.6 822h1.5v1.5h-1.5zM1443.6 850.5h1.5v1.5h-1.5zM599.1 843h1.5v3h-1.5zM773.1 844.5h1.5v1.5h-1.5zM800.1 844.5h1.5v1.5h-1.5zM992.1 844.5h1.5v1.5h-1.5zM1070.1 844.5h1.5v1.5h-1.5zM1097.1 844.5h1.5v1.5h-1.5zM36.6 816h1.5v1.5h-1.5zM167.1 816h1.5v1.5h-1.5zM189.6 816h1.5v1.5h-1.5zM255.6 816h1.5v1.5h-1.5zM447.6 814.5h1.5v3h-1.5zM747.6 816h1.5v1.5h-1.5zM882.6 816h1.5v1.5h-1.5zM1010.1 814.5h1.5v3h-1.5zM1041.6 816h1.5v1.5h-1.5zM1263.6 816h1.5v3h-1.5zM1307.1 816h1.5v1.5h-1.5zM1344.6 816h1.5v1.5h-1.5zM53.1 795h1.5v1.5h-1.5zM143.1 795h1.5v1.5h-1.5zM209.1 795h1.5v1.5h-1.5zM237.6 795h1.5v1.5h-1.5zM350.1 795h1.5v1.5h-1.5zM405.6 795h1.5v3h-1.5zM671.1 795h1.5v1.5h-1.5zM734.1 795h1.5v1.5h-1.5zM1250.1 795h1.5v1.5h-1.5zM62.1 786h1.5v1.5h-1.5zM134.1 786h1.5v3h-1.5zM359.1 786h1.5v1.5h-1.5zM398.1 786h1.5v1.5h-1.5zM681.6 786h1.5v1.5h-1.5zM20.1 838.5h1.5v1.5h-1.5zM465.6 838.5h1.5v1.5h-1.5zM603.6 837h1.5v3h-1.5zM765.6 838.5h1.5v1.5h-1.5zM806.1 838.5h1.5v1.5h-1.5zM941.1 838.5h1.5v1.5h-1.5zM996.6 837h1.5v3h-1.5zM1103.1 837h1.5v3h-1.5zM1371.6 838.5h1.5v1.5h-1.5zM981.6 852h1.5v1.5h-1.5zM59.1 789h1.5v1.5h-1.5zM135.6 789h1.5v1.5h-1.5zM231.6 789h1.5v1.5h-1.5zM356.1 789h1.5v1.5h-1.5zM399.6 787.5h1.5v3h-1.5zM729.6 789h1.5v1.5h-1.5zM1244.1 789h1.5v1.5h-1.5zM125.1 778.5h1.5v1.5h-1.5zM1235.1 778.5h1.5v1.5h-1.5zM164.1 811.5h1.5v1.5h-1.5zM195.6 811.5h1.5v1.5h-1.5zM251.1 811.5h1.5v1.5h-1.5zM330.6 811.5h1.5v1.5h-1.5zM444.6 811.5h1.5v1.5h-1.5zM744.6 811.5h1.5v1.5h-1.5zM885.6 811.5h1.5v1.5h-1.5zM902.1 811.5h1.5v1.5h-1.5zM1013.1 811.5h1.5v1.5h-1.5zM1037.1 811.5h1.5v1.5h-1.5zM1310.1 811.5h1.5v1.5h-1.5zM476.1 846h1.5v1.5h-1.5zM597.6 846h1.5v1.5h-1.5zM774.6 846h1.5v1.5h-1.5zM30.6 823.5h1.5v1.5h-1.5zM261.6 823.5h1.5v1.5h-1.5zM309.6 823.5h1.5v1.5h-1.5zM453.6 823.5h1.5v3h-1.5zM752.1 823.5h1.5v3h-1.5zM828.6 823.5h1.5v1.5h-1.5zM876.6 823.5h1.5v1.5h-1.5zM921.6 823.5h1.5v1.5h-1.5zM1004.1 823.5h1.5v3h-1.5zM1047.6 823.5h1.5v1.5h-1.5zM1113.6 823.5h1.5v1.5h-1.5zM1268.1 823.5h1.5v1.5h-1.5zM1301.1 823.5h1.5v3h-1.5zM1355.1 823.5h1.5v1.5h-1.5zM161.1 807h1.5v3h-1.5zM198.6 807h1.5v3h-1.5zM248.1 807h1.5v3h-1.5zM335.1 808.5h1.5v1.5h-1.5zM656.1 808.5h1.5v1.5h-1.5zM741.6 807h1.5v3h-1.5zM888.6 808.5h1.5v1.5h-1.5zM1016.1 808.5h1.5v1.5h-1.5zM1257.6 807h1.5v3h-1.5zM1313.1 808.5h1.5v1.5h-1.5zM35.1 817.5h1.5v3h-1.5zM168.6 817.5h1.5v3h-1.5zM257.1 817.5h1.5v1.5h-1.5zM449.1 817.5h1.5v1.5h-1.5zM615.6 817.5h1.5v1.5h-1.5zM749.1 817.5h1.5v3h-1.5zM881.1 817.5h1.5v1.5h-1.5zM1008.6 817.5h1.5v1.5h-1.5zM1043.1 817.5h1.5v3h-1.5zM1305.6 817.5h1.5v1.5h-1.5zM21.6 835.5h1.5v3h-1.5zM462.6 835.5h1.5v1.5h-1.5zM605.1 835.5h1.5v1.5h-1.5zM764.1 835.5h1.5v3h-1.5zM938.1 835.5h1.5v1.5h-1.5zM1059.6 835.5h1.5v1.5h-1.5zM1104.6 835.5h1.5v1.5h-1.5zM24.6 832.5h1.5v1.5h-1.5zM278.1 832.5h1.5v1.5h-1.5zM761.1 832.5h1.5v1.5h-1.5zM935.1 832.5h1.5v1.5h-1.5zM999.6 832.5h1.5v1.5h-1.5zM1280.1 832.5h1.5v1.5h-1.5zM1364.1 832.5h1.5v1.5h-1.5zM42.6 805.5h1.5v3h-1.5zM159.6 805.5h1.5v1.5h-1.5zM200.1 805.5h1.5v1.5h-1.5zM246.6 805.5h1.5v1.5h-1.5zM338.1 805.5h1.5v1.5h-1.5zM440.1 804h1.5v3h-1.5zM659.1 805.5h1.5v1.5h-1.5zM740.1 805.5h1.5v1.5h-1.5zM893.1 805.5h1.5v1.5h-1.5zM1019.1 805.5h1.5v1.5h-1.5zM1032.6 805.5h1.5v1.5h-1.5zM1155.6 805.5h1.5v1.5h-1.5zM1256.1 804h1.5v3h-1.5zM336.6 807h1.5v1.5h-1.5zM441.6 807h1.5v1.5h-1.5zM657.6 807h1.5v1.5h-1.5zM1017.6 807h1.5v1.5h-1.5zM1034.1 807h1.5v1.5h-1.5zM1154.1 807h1.5v1.5h-1.5zM50.1 798h1.5v1.5h-1.5zM206.1 798h1.5v1.5h-1.5zM240.6 798h1.5v1.5h-1.5zM407.1 798h1.5v1.5h-1.5zM668.1 798h1.5v1.5h-1.5zM735.6 796.5h1.5v3h-1.5zM1163.1 798h1.5v1.5h-1.5zM18.6 840h1.5v1.5h-1.5zM467.1 840h1.5v1.5h-1.5zM602.1 840h1.5v1.5h-1.5zM767.1 840h1.5v1.5h-1.5zM804.6 840h1.5v1.5h-1.5zM995.1 840h1.5v1.5h-1.5zM1065.6 840h1.5v1.5h-1.5zM1101.6 840h1.5v1.5h-1.5zM29.1 825h1.5v3h-1.5zM263.1 825h1.5v1.5h-1.5zM611.1 825h1.5v3h-1.5zM815.1 825h1.5v1.5h-1.5zM875.1 825h1.5v3h-1.5zM923.1 825h1.5v1.5h-1.5zM1049.1 825h1.5v3h-1.5zM1112.1 825h1.5v1.5h-1.5zM1269.6 825h1.5v3h-1.5zM1356.6 825h1.5v1.5h-1.5zM986.1 849h1.5v1.5h-1.5zM1094.1 849h1.5v1.5h-1.5zM27.6 828h1.5v1.5h-1.5zM266.1 828h1.5v1.5h-1.5zM456.6 828h1.5v1.5h-1.5zM755.1 828h1.5v1.5h-1.5zM873.6 828h1.5v1.5h-1.5zM1002.6 826.5h1.5v3h-1.5zM1050.6 828h1.5v1.5h-1.5zM1110.6 826.5h1.5v3h-1.5zM1299.6 826.5h1.5v3h-1.5zM1359.6 828h1.5v1.5h-1.5zM44.1 804h1.5v1.5h-1.5zM158.1 804h1.5v1.5h-1.5zM201.6 802.5h1.5v3h-1.5zM245.1 802.5h1.5v3h-1.5zM339.6 804h1.5v1.5h-1.5zM660.6 804h1.5v1.5h-1.5zM738.6 802.5h1.5v3h-1.5zM1157.1 804h1.5v1.5h-1.5zM1236.6 780h1.5v1.5h-1.5zM468.6 841.5h1.5v1.5h-1.5zM600.6 841.5h1.5v1.5h-1.5zM768.6 841.5h1.5v1.5h-1.5zM803.1 841.5h1.5v1.5h-1.5zM945.6 841.5h1.5v1.5h-1.5zM993.6 841.5h1.5v3h-1.5zM1067.1 841.5h1.5v1.5h-1.5zM1100.1 841.5h1.5v1.5h-1.5zM1376.1 841.5h1.5v1.5h-1.5zM801.6 843h1.5v1.5h-1.5zM1068.6 843h1.5v1.5h-1.5zM1098.6 843h1.5v1.5h-1.5zM1377.6 843h1.5v1.5h-1.5zM464.1 837h1.5v1.5h-1.5zM807.6 837h1.5v1.5h-1.5zM939.6 837h1.5v1.5h-1.5zM1061.1 837h1.5v1.5h-1.5zM1370.1 837h1.5v1.5h-1.5zM47.1 801h1.5v1.5h-1.5zM203.1 801h1.5v1.5h-1.5zM243.6 801h1.5v1.5h-1.5zM342.6 801h1.5v1.5h-1.5zM1026.6 801h1.5v1.5h-1.5zM1160.1 801h1.5v1.5h-1.5zM1254.6 801h1.5v3h-1.5zM57.6 790.5h1.5v1.5h-1.5zM137.1 790.5h1.5v1.5h-1.5zM233.1 790.5h1.5v1.5h-1.5zM354.6 790.5h1.5v1.5h-1.5zM401.1 790.5h1.5v1.5h-1.5zM675.6 790.5h1.5v1.5h-1.5zM731.1 790.5h1.5v3h-1.5zM1173.6 790.5h1.5v1.5h-1.5zM1245.6 790.5h1.5v1.5h-1.5zM45.6 802.5h1.5v1.5h-1.5zM341.1 802.5h1.5v1.5h-1.5zM438.6 802.5h1.5v1.5h-1.5zM662.1 802.5h1.5v1.5h-1.5zM1028.1 802.5h1.5v1.5h-1.5zM1158.6 802.5h1.5v1.5h-1.5zM131.1 783h1.5v1.5h-1.5zM362.1 783h1.5v1.5h-1.5zM1239.6 783h1.5v1.5h-1.5zM60.6 787.5h1.5v1.5h-1.5zM357.6 787.5h1.5v1.5h-1.5zM680.1 787.5h1.5v1.5h-1.5zM1242.6 787.5h1.5v1.5h-1.5zM1233.6 777h1.5v1.5h-1.5zM185.1 819h1.5v1.5h-1.5zM258.6 819h1.5v1.5h-1.5zM879.6 819h1.5v1.5h-1.5zM1007.1 819h1.5v1.5h-1.5zM1118.1 819h1.5v1.5h-1.5zM1265.1 819h1.5v1.5h-1.5zM1304.1 819h1.5v1.5h-1.5zM56.1 792h1.5v1.5h-1.5zM138.6 792h1.5v1.5h-1.5zM212.1 792h1.5v1.5h-1.5zM234.6 792h1.5v1.5h-1.5zM353.1 792h1.5v1.5h-1.5zM402.6 792h1.5v1.5h-1.5zM674.1 792h1.5v1.5h-1.5zM1172.1 792h1.5v1.5h-1.5zM1247.1 792h1.5v1.5h-1.5zM264.6 826.5h1.5v1.5h-1.5zM305.1 826.5h1.5v1.5h-1.5zM455.1 826.5h1.5v1.5h-1.5zM753.6 826.5h1.5v1.5h-1.5zM813.6 826.5h1.5v1.5h-1.5zM924.6 826.5h1.5v1.5h-1.5zM1358.1 826.5h1.5v1.5h-1.5zM38.1 814.5h1.5v1.5h-1.5zM191.1 814.5h1.5v1.5h-1.5zM254.1 814.5h1.5v1.5h-1.5zM620.1 814.5h1.5v1.5h-1.5zM906.6 814.5h1.5v1.5h-1.5zM1040.1 814.5h1.5v1.5h-1.5zM1262.1 814.5h1.5v1.5h-1.5zM51.6 796.5h1.5v1.5h-1.5zM144.6 796.5h1.5v1.5h-1.5zM207.6 796.5h1.5v1.5h-1.5zM239.1 796.5h1.5v1.5h-1.5zM348.6 796.5h1.5v1.5h-1.5zM669.6 796.5h1.5v1.5h-1.5zM1164.6 796.5h1.5v1.5h-1.5zM1251.6 796.5h1.5v1.5h-1.5z"/>
<path fill="#ffffff" d="M462.6 853.5h3v1.5h-3zM471.6 853.5h3v1.5h-3zM567.6 853.5h9v1.5h-9zM780.6 853.5h3v1.5h-3zM948.6 853.5h3v1.5h-3zM963.6 853.5h3v1.5h-3zM1068.6 853.5h3v1.5h-3zM1377.6 853.5h15v1.5h-15zM1416.6 853.5h4.5v1.5h-4.5zM618.6 799.5h3v1.5h-3zM137.1 805.5h3v1.5h-3zM147.6 805.5h3v1.5h-3zM327.6 805.5h3v1.5h-3zM651.6 805.5h4.5v1.5h-4.5zM1115.1 805.5h12v1.5h-12zM1145.1 805.5h4.5v1.5h-4.5zM1017.6 793.5h6v1.5h-6zM497.1 841.5h3v1.5h-3zM504.6 841.5h3v1.5h-3zM1274.1 841.5h3v1.5h-3zM1281.6 841.5h3v1.5h-3zM339.6 792h3v1.5h-3zM425.1 792h3v1.5h-3zM1014.6 792h3v1.5h-3zM1023.6 792h4.5v1.5h-4.5zM213.6 780h4.5v1.5h-4.5zM1178.1 780h3v1.5h-3zM858.6 832.5h9v1.5h-9zM143.1 808.5h3v1.5h-3zM321.6 808.5h3v1.5h-3zM813.6 808.5h3v1.5h-3zM1128.6 808.5h3v1.5h-3zM489.6 846h3v1.5h-3zM581.1 846h4.5v1.5h-4.5zM591.6 846h4.5v1.5h-4.5zM753.6 846h4.5v1.5h-4.5zM1052.1 846h4.5v1.5h-4.5zM1367.1 846h4.5v1.5h-4.5zM1404.6 846h3v1.5h-3zM309.6 811.5h9v1.5h-9zM882.6 796.5h3v1.5h-3zM890.1 796.5h3v1.5h-3zM1436.1 859.5h3v1.5h-3zM282.6 823.5h3v1.5h-3zM173.1 835.5h3v1.5h-3zM257.1 835.5h3v1.5h-3zM833.1 835.5h3v1.5h-3zM843.6 835.5h3v1.5h-3zM851.1 835.5h4.5v1.5h-4.5zM911.1 820.5h3v1.5h-3zM1338.6 820.5h3v1.5h-3zM585.6 847.5h6v1.5h-6zM758.1 847.5h4.5v1.5h-4.5zM1056.6 847.5h4.5v1.5h-4.5zM1401.6 847.5h3v1.5h-3zM1407.6 847.5h4.5v1.5h-4.5zM69.6 775.5h3v1.5h-3zM683.1 775.5h3v1.5h-3zM1200.6 775.5h3v1.5h-3zM1206.6 775.5h3v1.5h-3zM1212.6 775.5h3v1.5h-3zM1227.6 775.5h3v1.5h-3zM140.1 807h3v1.5h-3zM324.6 807h3v1.5h-3zM1112.1 807h3v1.5h-3zM1142.1 807h3v1.5h-3zM474.6 855h4.5v1.5h-4.5zM536.1 855h3v1.5h-3zM554.1 855h3v1.5h-3zM768.6 855h3v1.5h-3zM777.6 855h3v1.5h-3zM783.6 855h4.5v1.5h-4.5zM1071.6 855h9v1.5h-9zM1427.1 855h3v1.5h-3zM1347.6 826.5h3v1.5h-3zM614.1 798h4.5v1.5h-4.5zM942.6 850.5h4.5v1.5h-4.5zM1064.1 850.5h3v1.5h-3zM1395.6 850.5h3v1.5h-3zM318.6 810h3v1.5h-3zM816.6 810h3v1.5h-3zM1131.6 810h9v1.5h-9zM126.6 789h3v1.5h-3zM693.6 789h9v1.5h-9zM260.1 837h4.5v1.5h-4.5zM836.1 837h3v1.5h-3zM60.6 774h3v1.5h-3zM66.6 774h3v1.5h-3zM72.6 774h3v1.5h-3zM89.1 774h10.5v1.5h-10.5zM116.1 774h3v1.5h-3zM357.6 774h3v1.5h-3zM1203.6 774h3v1.5h-3zM1215.6 774h3v1.5h-3zM1221.6 774h6v1.5h-6zM939.6 849h3v1.5h-3zM1061.1 849h3v1.5h-3zM1398.6 849h3v1.5h-3zM500.1 840h4.5v1.5h-4.5zM926.1 840h9v1.5h-9zM1287.6 840h3v1.5h-3zM903.6 822h3v1.5h-3zM908.1 822h3v1.5h-3zM1341.6 822h3v1.5h-3zM465.6 852h6v1.5h-6zM960.6 852h3v1.5h-3zM1392.6 852h3v1.5h-3zM1421.1 852h4.5v1.5h-4.5zM47.1 783h3v1.5h-3zM221.1 783h3v1.5h-3zM386.1 783h3v1.5h-3zM713.1 783h4.5v1.5h-4.5zM1184.1 783h4.5v1.5h-4.5zM56.1 777h3v1.5h-3zM677.1 777h3v1.5h-3zM686.1 777h3v1.5h-3zM1197.6 777h3v1.5h-3zM1209.6 777h3v1.5h-3zM1230.6 777h3v1.5h-3zM1334.1 817.5h3v1.5h-3zM228.6 787.5h3v1.5h-3zM702.6 787.5h3v1.5h-3zM846.6 834h4.5v1.5h-4.5zM855.6 834h3v1.5h-3zM507.6 843h3v1.5h-3zM1266.6 843h3v1.5h-3zM1361.1 843h3v1.5h-3zM648.6 804h3v1.5h-3zM1149.6 804h4.5v1.5h-4.5zM422.1 790.5h3v1.5h-3zM492.6 844.5h3v1.5h-3zM1269.6 844.5h3v1.5h-3zM1364.1 844.5h3v1.5h-3zM479.1 856.5h4.5v1.5h-4.5zM539.1 856.5h3v1.5h-3zM551.1 856.5h3v1.5h-3zM771.6 856.5h3v1.5h-3zM1080.6 856.5h3v1.5h-3zM1430.1 856.5h3v1.5h-3zM63.6 772.5h3v1.5h-3zM75.6 772.5h6v1.5h-6zM86.1 772.5h3v1.5h-3zM99.6 772.5h3v1.5h-3zM113.1 772.5h3v1.5h-3zM360.6 772.5h4.5v1.5h-4.5zM1218.6 772.5h3v1.5h-3zM710.1 784.5h3v1.5h-3zM1164.6 784.5h9v1.5h-9zM1188.6 784.5h4.5v1.5h-4.5zM285.6 825h3v1.5h-3zM225.6 786h3v1.5h-3zM705.6 786h4.5v1.5h-4.5zM218.1 781.5h3v1.5h-3zM671.1 781.5h3v1.5h-3zM717.6 781.5h4.5v1.5h-4.5zM1175.1 781.5h3v1.5h-3zM1181.1 781.5h3v1.5h-3zM81.6 771h4.5v1.5h-4.5zM102.6 771h10.5v1.5h-10.5zM365.1 771h3v1.5h-3zM53.1 778.5h3v1.5h-3zM210.6 778.5h3v1.5h-3zM839.1 838.5h3v1.5h-3zM542.1 858h9v1.5h-9zM558.6 858h3v1.5h-3zM969.6 858h3v1.5h-3zM1083.6 858h3v1.5h-3zM1433.1 858h3v1.5h-3zM368.1 769.5h3v1.5h-3zM483.6 853.5h1.5v3h-1.5zM534.6 853.5h1.5v1.5h-1.5zM767.1 853.5h1.5v1.5h-1.5zM788.1 853.5h1.5v1.5h-1.5zM956.1 853.5h1.5v1.5h-1.5zM978.6 853.5h1.5v1.5h-1.5zM1089.6 852h1.5v3h-1.5zM1425.6 853.5h1.5v1.5h-1.5zM1440.6 850.5h1.5v4.5h-1.5zM35.1 799.5h1.5v3h-1.5zM134.1 798h1.5v3h-1.5zM195.6 799.5h1.5v1.5h-1.5zM234.6 798h1.5v3h-1.5zM333.6 799.5h1.5v1.5h-1.5zM399.6 798h1.5v3h-1.5zM417.6 798h1.5v3h-1.5zM432.6 799.5h1.5v1.5h-1.5zM612.6 799.5h1.5v3h-1.5zM657.6 798h1.5v3h-1.5zM729.6 798h1.5v3h-1.5zM879.6 799.5h1.5v3h-1.5zM893.1 798h1.5v3h-1.5zM1005.6 798h1.5v3h-1.5zM1028.1 795h1.5v6h-1.5zM1154.1 799.5h1.5v3h-1.5zM1242.6 799.5h1.5v3h-1.5zM1304.1 799.5h1.5v3h-1.5zM1319.1 798h1.5v3h-1.5zM32.1 804h1.5v3h-1.5zM152.1 805.5h1.5v1.5h-1.5zM189.6 805.5h1.5v1.5h-1.5zM237.6 804h1.5v3h-1.5zM402.6 805.5h1.5v3h-1.5zM414.6 804h1.5v3h-1.5zM435.6 804h1.5v3h-1.5zM611.1 802.5h1.5v4.5h-1.5zM623.1 804h1.5v3h-1.5zM647.1 805.5h1.5v3h-1.5zM732.6 805.5h1.5v3h-1.5zM878.1 802.5h1.5v4.5h-1.5zM896.1 805.5h1.5v3h-1.5zM1002.6 804h1.5v3h-1.5zM1029.6 801h1.5v6h-1.5zM1245.6 804h1.5v3h-1.5zM1302.6 802.5h1.5v4.5h-1.5zM1323.6 805.5h1.5v1.5h-1.5zM26.1 817.5h1.5v4.5h-1.5zM159.6 817.5h1.5v3h-1.5zM182.1 817.5h1.5v4.5h-1.5zM245.1 817.5h1.5v3h-1.5zM306.6 817.5h1.5v3h-1.5zM440.1 817.5h1.5v6h-1.5zM605.1 817.5h1.5v3h-1.5zM630.6 819h1.5v1.5h-1.5zM638.1 819h1.5v1.5h-1.5zM737.1 817.5h1.5v4.5h-1.5zM807.6 819h1.5v3h-1.5zM825.6 819h1.5v1.5h-1.5zM872.1 819h1.5v3h-1.5zM900.6 817.5h1.5v3h-1.5zM996.6 817.5h1.5v4.5h-1.5zM1034.1 817.5h1.5v3h-1.5zM1103.1 819h1.5v3h-1.5zM1253.1 816h1.5v4.5h-1.5zM1296.6 819h1.5v4.5h-1.5zM1337.1 819h1.5v1.5h-1.5zM39.6 792h1.5v3h-1.5zM131.1 792h1.5v3h-1.5zM200.1 792h1.5v3h-1.5zM233.1 793.5h1.5v4.5h-1.5zM338.1 793.5h1.5v1.5h-1.5zM398.1 793.5h1.5v4.5h-1.5zM420.6 792h1.5v3h-1.5zM428.1 793.5h1.5v1.5h-1.5zM660.6 792h1.5v3h-1.5zM726.6 792h1.5v3h-1.5zM887.1 793.5h1.5v1.5h-1.5zM1010.1 793.5h1.5v1.5h-1.5zM1026.6 793.5h1.5v1.5h-1.5zM1157.1 793.5h1.5v3h-1.5zM1238.1 792h1.5v3h-1.5zM1308.6 793.5h1.5v3h-1.5zM1314.6 793.5h1.5v1.5h-1.5zM12.6 841.5h1.5v1.5h-1.5zM266.1 841.5h1.5v1.5h-1.5zM273.6 841.5h1.5v3h-1.5zM452.1 840h1.5v3h-1.5zM521.1 841.5h1.5v1.5h-1.5zM524.1 841.5h1.5v1.5h-1.5zM596.1 840h1.5v4.5h-1.5zM750.6 840h1.5v3h-1.5zM797.1 840h1.5v3h-1.5zM935.1 841.5h1.5v3h-1.5zM987.6 840h1.5v3h-1.5zM1049.1 841.5h1.5v3h-1.5zM1094.1 841.5h1.5v6h-1.5zM1265.1 841.5h1.5v1.5h-1.5zM1286.1 841.5h1.5v1.5h-1.5zM1359.6 841.5h1.5v1.5h-1.5zM21.6 829.5h1.5v3h-1.5zM165.6 829.5h1.5v3h-1.5zM177.6 831h1.5v3h-1.5zM254.1 831h1.5v3h-1.5zM279.6 828h1.5v4.5h-1.5zM293.1 831h1.5v3h-1.5zM299.1 831h1.5v1.5h-1.5zM446.1 831h1.5v1.5h-1.5zM599.1 831h1.5v4.5h-1.5zM743.1 831h1.5v1.5h-1.5zM801.6 831h1.5v3h-1.5zM831.6 831h1.5v3h-1.5zM866.1 831h1.5v1.5h-1.5zM921.6 831h1.5v3h-1.5zM992.1 831h1.5v3h-1.5zM1040.1 831h1.5v1.5h-1.5zM1097.1 831h1.5v6h-1.5zM1257.6 829.5h1.5v3h-1.5zM1293.6 828h1.5v4.5h-1.5zM1352.1 829.5h1.5v3h-1.5zM231.6 790.5h1.5v3h-1.5zM396.6 790.5h1.5v3h-1.5zM1011.6 792h1.5v1.5h-1.5zM1158.6 790.5h1.5v3h-1.5zM1310.1 792h1.5v1.5h-1.5zM1313.1 792h1.5v1.5h-1.5zM51.6 780h1.5v1.5h-1.5zM120.6 778.5h1.5v3h-1.5zM209.1 780h1.5v1.5h-1.5zM351.6 780h1.5v1.5h-1.5zM377.1 780h1.5v1.5h-1.5zM674.1 780h1.5v1.5h-1.5zM689.1 778.5h1.5v3h-1.5zM1194.6 780h1.5v3h-1.5zM1233.6 780h1.5v4.5h-1.5zM20.1 832.5h1.5v3h-1.5zM167.1 832.5h1.5v3h-1.5zM278.1 832.5h1.5v3h-1.5zM297.6 832.5h1.5v3h-1.5zM447.6 832.5h1.5v3h-1.5zM744.6 832.5h1.5v1.5h-1.5zM1041.6 832.5h1.5v1.5h-1.5zM1259.1 832.5h1.5v3h-1.5zM1292.1 832.5h1.5v4.5h-1.5zM1353.6 832.5h1.5v1.5h-1.5zM30.6 807h1.5v3h-1.5zM153.6 807h1.5v3h-1.5zM188.1 807h1.5v3h-1.5zM239.1 807h1.5v3h-1.5zM404.1 808.5h1.5v1.5h-1.5zM411.6 808.5h1.5v1.5h-1.5zM437.1 807h1.5v6h-1.5zM609.6 807h1.5v3h-1.5zM624.6 807h1.5v4.5h-1.5zM645.6 808.5h1.5v1.5h-1.5zM734.1 808.5h1.5v4.5h-1.5zM876.6 807h1.5v3h-1.5zM897.6 808.5h1.5v4.5h-1.5zM1001.1 807h1.5v3h-1.5zM1031.1 807h1.5v6h-1.5zM1110.6 808.5h1.5v1.5h-1.5zM1140.6 808.5h1.5v1.5h-1.5zM1248.6 808.5h1.5v1.5h-1.5zM1301.1 807h1.5v3h-1.5zM1326.6 808.5h1.5v1.5h-1.5zM8.1 846h1.5v3h-1.5zM269.1 844.5h1.5v3h-1.5zM272.1 844.5h1.5v3h-1.5zM455.1 846h1.5v1.5h-1.5zM512.1 846h1.5v1.5h-1.5zM518.1 846h1.5v1.5h-1.5zM527.1 846h1.5v1.5h-1.5zM794.1 846h1.5v1.5h-1.5zM938.1 846h1.5v3h-1.5zM984.6 844.5h1.5v3h-1.5zM1443.6 844.5h1.5v3h-1.5zM29.1 810h1.5v4.5h-1.5zM156.6 811.5h1.5v3h-1.5zM185.1 811.5h1.5v3h-1.5zM240.6 810h1.5v3h-1.5zM407.1 811.5h1.5v1.5h-1.5zM410.1 810h1.5v3h-1.5zM608.1 810h1.5v4.5h-1.5zM626.1 811.5h1.5v3h-1.5zM642.6 811.5h1.5v3h-1.5zM812.1 810h1.5v3h-1.5zM819.6 811.5h1.5v1.5h-1.5zM875.1 810h1.5v4.5h-1.5zM999.6 810h1.5v3h-1.5zM1109.1 810h1.5v3h-1.5zM1250.1 810h1.5v3h-1.5zM1299.6 810h1.5v4.5h-1.5zM1328.1 810h1.5v3h-1.5zM36.6 796.5h1.5v3h-1.5zM132.6 795h1.5v3h-1.5zM198.6 795h1.5v3h-1.5zM335.1 796.5h1.5v3h-1.5zM419.1 795h1.5v3h-1.5zM431.1 796.5h1.5v3h-1.5zM614.1 796.5h1.5v1.5h-1.5zM659.1 795h1.5v3h-1.5zM728.1 795h1.5v3h-1.5zM1007.1 796.5h1.5v1.5h-1.5zM1155.6 796.5h1.5v3h-1.5zM1239.6 795h1.5v3h-1.5zM1307.1 796.5h1.5v1.5h-1.5zM1317.6 796.5h1.5v1.5h-1.5zM561.6 859.5h1.5v1.5h-1.5zM972.6 859.5h1.5v1.5h-1.5zM24.6 822h1.5v4.5h-1.5zM162.6 823.5h1.5v3h-1.5zM180.6 822h1.5v4.5h-1.5zM248.1 823.5h1.5v3h-1.5zM303.6 823.5h1.5v1.5h-1.5zM441.6 823.5h1.5v3h-1.5zM602.1 823.5h1.5v3h-1.5zM635.1 823.5h1.5v1.5h-1.5zM738.6 822h1.5v4.5h-1.5zM806.1 822h1.5v3h-1.5zM828.6 823.5h1.5v3h-1.5zM870.6 822h1.5v3h-1.5zM906.6 823.5h1.5v1.5h-1.5zM915.6 823.5h1.5v1.5h-1.5zM995.1 822h1.5v4.5h-1.5zM1035.6 820.5h1.5v4.5h-1.5zM1101.6 822h1.5v3h-1.5zM1254.6 820.5h1.5v4.5h-1.5zM1295.1 823.5h1.5v4.5h-1.5zM1344.6 823.5h1.5v1.5h-1.5zM18.6 835.5h1.5v1.5h-1.5zM168.6 835.5h1.5v3h-1.5zM276.6 835.5h1.5v3h-1.5zM296.1 835.5h1.5v1.5h-1.5zM449.1 835.5h1.5v1.5h-1.5zM597.6 835.5h1.5v4.5h-1.5zM747.6 835.5h1.5v1.5h-1.5zM800.1 834h1.5v3h-1.5zM923.1 834h1.5v3h-1.5zM990.6 834h1.5v3h-1.5zM1043.1 834h1.5v3h-1.5zM1260.6 835.5h1.5v1.5h-1.5zM1355.1 834h1.5v3h-1.5zM161.1 820.5h1.5v3h-1.5zM246.6 820.5h1.5v3h-1.5zM305.1 820.5h1.5v3h-1.5zM603.6 820.5h1.5v3h-1.5zM632.1 820.5h1.5v1.5h-1.5zM636.6 820.5h1.5v3h-1.5zM827.1 820.5h1.5v3h-1.5zM902.1 820.5h1.5v1.5h-1.5zM33.6 802.5h1.5v1.5h-1.5zM135.6 801h1.5v3h-1.5zM192.6 802.5h1.5v1.5h-1.5zM236.1 801h1.5v3h-1.5zM330.6 802.5h1.5v3h-1.5zM401.1 801h1.5v4.5h-1.5zM416.1 801h1.5v3h-1.5zM434.1 801h1.5v3h-1.5zM621.6 801h1.5v3h-1.5zM656.1 801h1.5v3h-1.5zM731.1 801h1.5v4.5h-1.5zM894.6 801h1.5v4.5h-1.5zM1004.1 801h1.5v3h-1.5zM1152.6 802.5h1.5v1.5h-1.5zM1244.1 802.5h1.5v1.5h-1.5zM1322.1 802.5h1.5v3h-1.5zM270.6 847.5h1.5v1.5h-1.5zM456.6 847.5h1.5v1.5h-1.5zM488.1 847.5h1.5v1.5h-1.5zM513.6 847.5h1.5v1.5h-1.5zM516.6 847.5h1.5v1.5h-1.5zM528.6 847.5h1.5v1.5h-1.5zM579.6 847.5h1.5v1.5h-1.5zM792.6 847.5h1.5v1.5h-1.5zM983.1 847.5h1.5v1.5h-1.5zM1092.6 847.5h1.5v3h-1.5zM1371.6 847.5h1.5v1.5h-1.5zM1442.1 847.5h1.5v3h-1.5zM59.1 775.5h1.5v1.5h-1.5zM119.1 775.5h1.5v3h-1.5zM356.1 775.5h1.5v1.5h-1.5zM374.1 775.5h1.5v3h-1.5zM680.1 775.5h1.5v1.5h-1.5zM146.1 807h1.5v1.5h-1.5zM413.1 807h1.5v1.5h-1.5zM813.6 807h1.5v1.5h-1.5zM1127.1 807h1.5v1.5h-1.5zM1247.1 807h1.5v1.5h-1.5zM1325.1 807h1.5v1.5h-1.5zM566.1 855h1.5v1.5h-1.5zM951.6 855h1.5v1.5h-1.5zM954.6 855h1.5v1.5h-1.5zM966.6 855h1.5v1.5h-1.5zM977.1 855h1.5v1.5h-1.5zM1088.1 855h1.5v1.5h-1.5zM1439.1 855h1.5v3h-1.5zM23.1 826.5h1.5v3h-1.5zM164.1 826.5h1.5v3h-1.5zM179.1 826.5h1.5v4.5h-1.5zM249.6 826.5h1.5v1.5h-1.5zM281.1 825h1.5v3h-1.5zM288.6 826.5h1.5v1.5h-1.5zM302.1 825h1.5v3h-1.5zM443.1 826.5h1.5v3h-1.5zM600.6 826.5h1.5v4.5h-1.5zM740.1 826.5h1.5v3h-1.5zM804.6 825h1.5v3h-1.5zM830.1 826.5h1.5v4.5h-1.5zM869.1 825h1.5v3h-1.5zM917.1 825h1.5v3h-1.5zM993.6 826.5h1.5v4.5h-1.5zM1037.1 825h1.5v3h-1.5zM1100.1 825h1.5v3h-1.5zM1256.1 825h1.5v4.5h-1.5zM197.1 798h1.5v1.5h-1.5zM881.1 798h1.5v1.5h-1.5zM1241.1 798h1.5v1.5h-1.5zM1305.6 798h1.5v1.5h-1.5zM5.1 850.5h1.5v1.5h-1.5zM459.6 850.5h1.5v1.5h-1.5zM486.6 849h1.5v3h-1.5zM531.6 850.5h1.5v1.5h-1.5zM578.1 849h1.5v3h-1.5zM764.1 850.5h1.5v1.5h-1.5zM791.1 849h1.5v3h-1.5zM959.1 850.5h1.5v1.5h-1.5zM981.6 849h1.5v3h-1.5zM1091.1 850.5h1.5v1.5h-1.5zM1374.6 850.5h1.5v1.5h-1.5zM1413.6 850.5h1.5v1.5h-1.5zM155.1 810h1.5v1.5h-1.5zM186.6 810h1.5v1.5h-1.5zM405.6 810h1.5v1.5h-1.5zM644.1 810h1.5v1.5h-1.5zM42.6 787.5h1.5v3h-1.5zM201.6 789h1.5v3h-1.5zM230.1 789h1.5v1.5h-1.5zM344.1 789h1.5v1.5h-1.5zM395.1 789h1.5v1.5h-1.5zM422.1 789h1.5v1.5h-1.5zM663.6 789h1.5v1.5h-1.5zM725.1 789h1.5v3h-1.5zM1160.1 789h1.5v1.5h-1.5zM1236.6 787.5h1.5v4.5h-1.5zM17.1 837h1.5v1.5h-1.5zM171.6 837h1.5v1.5h-1.5zM450.6 837h1.5v3h-1.5zM749.1 837h1.5v3h-1.5zM798.6 837h1.5v3h-1.5zM842.1 837h1.5v1.5h-1.5zM924.6 837h1.5v3h-1.5zM989.1 837h1.5v3h-1.5zM1044.6 837h1.5v1.5h-1.5zM1095.6 837h1.5v4.5h-1.5zM1262.1 837h1.5v1.5h-1.5zM1290.6 837h1.5v3h-1.5zM1356.6 837h1.5v3h-1.5zM372.6 774h1.5v1.5h-1.5zM681.6 774h1.5v1.5h-1.5zM6.6 849h1.5v1.5h-1.5zM458.1 849h1.5v1.5h-1.5zM515.1 849h1.5v1.5h-1.5zM530.1 849h1.5v1.5h-1.5zM762.6 849h1.5v1.5h-1.5zM1373.1 849h1.5v1.5h-1.5zM1412.1 849h1.5v1.5h-1.5zM14.1 840h1.5v1.5h-1.5zM264.6 838.5h1.5v3h-1.5zM275.1 838.5h1.5v3h-1.5zM522.6 840h1.5v1.5h-1.5zM1047.6 840h1.5v1.5h-1.5zM1263.6 838.5h1.5v3h-1.5zM1277.1 840h1.5v1.5h-1.5zM1280.1 840h1.5v1.5h-1.5zM1358.1 840h1.5v1.5h-1.5zM282.6 822h1.5v1.5h-1.5zM633.6 822h1.5v1.5h-1.5zM914.1 822h1.5v1.5h-1.5zM461.1 852h1.5v1.5h-1.5zM485.1 852h1.5v1.5h-1.5zM533.1 852h1.5v1.5h-1.5zM576.6 852h1.5v1.5h-1.5zM765.6 852h1.5v1.5h-1.5zM789.6 852h1.5v1.5h-1.5zM947.1 852h1.5v1.5h-1.5zM957.6 852h1.5v1.5h-1.5zM980.1 852h1.5v1.5h-1.5zM1067.1 852h1.5v1.5h-1.5zM1376.1 852h1.5v1.5h-1.5zM1415.1 852h1.5v1.5h-1.5zM122.1 781.5h1.5v3h-1.5zM206.1 783h1.5v1.5h-1.5zM348.6 783h1.5v1.5h-1.5zM380.1 783h1.5v1.5h-1.5zM390.6 783h1.5v1.5h-1.5zM669.6 783h1.5v1.5h-1.5zM690.6 781.5h1.5v3h-1.5zM722.1 783h1.5v3h-1.5zM1173.6 783h1.5v1.5h-1.5zM1193.1 783h1.5v1.5h-1.5zM354.6 777h1.5v1.5h-1.5zM629.1 817.5h1.5v1.5h-1.5zM639.6 816h1.5v3h-1.5zM809.1 816h1.5v3h-1.5zM824.1 816h1.5v3h-1.5zM873.6 814.5h1.5v4.5h-1.5zM1104.6 816h1.5v3h-1.5zM1298.1 814.5h1.5v4.5h-1.5zM125.1 787.5h1.5v1.5h-1.5zM203.1 786h1.5v3h-1.5zM345.6 787.5h1.5v1.5h-1.5zM393.6 786h1.5v3h-1.5zM665.1 787.5h1.5v1.5h-1.5zM693.6 787.5h1.5v1.5h-1.5zM723.6 786h1.5v3h-1.5zM1161.6 787.5h1.5v1.5h-1.5zM176.1 834h1.5v1.5h-1.5zM255.6 834h1.5v1.5h-1.5zM294.6 834h1.5v1.5h-1.5zM746.1 834h1.5v1.5h-1.5zM833.1 834h1.5v1.5h-1.5zM242.1 813h1.5v3h-1.5zM309.6 813h1.5v1.5h-1.5zM408.6 813h1.5v1.5h-1.5zM438.6 813h1.5v4.5h-1.5zM735.6 813h1.5v4.5h-1.5zM810.6 813h1.5v3h-1.5zM821.1 813h1.5v1.5h-1.5zM899.1 813h1.5v4.5h-1.5zM998.1 813h1.5v4.5h-1.5zM1032.6 813h1.5v4.5h-1.5zM1107.6 813h1.5v1.5h-1.5zM1251.6 813h1.5v3h-1.5zM1329.6 813h1.5v1.5h-1.5zM11.1 843h1.5v1.5h-1.5zM267.6 843h1.5v1.5h-1.5zM453.6 843h1.5v3h-1.5zM495.6 843h1.5v1.5h-1.5zM519.6 843h1.5v3h-1.5zM525.6 843h1.5v3h-1.5zM752.1 843h1.5v3h-1.5zM795.6 843h1.5v3h-1.5zM986.1 843h1.5v1.5h-1.5zM1272.6 843h1.5v1.5h-1.5zM1284.6 843h1.5v1.5h-1.5zM137.1 804h1.5v1.5h-1.5zM150.6 804h1.5v1.5h-1.5zM191.1 804h1.5v1.5h-1.5zM654.6 804h1.5v1.5h-1.5zM252.6 829.5h1.5v1.5h-1.5zM291.6 829.5h1.5v1.5h-1.5zM300.6 828h1.5v3h-1.5zM444.6 829.5h1.5v1.5h-1.5zM741.6 829.5h1.5v1.5h-1.5zM803.1 828h1.5v3h-1.5zM867.6 828h1.5v3h-1.5zM920.1 829.5h1.5v1.5h-1.5zM1038.6 828h1.5v3h-1.5zM1098.6 828h1.5v3h-1.5zM251.1 828h1.5v1.5h-1.5zM290.1 828h1.5v1.5h-1.5zM918.6 828h1.5v1.5h-1.5zM1350.6 828h1.5v1.5h-1.5zM41.1 790.5h1.5v1.5h-1.5zM129.6 790.5h1.5v1.5h-1.5zM342.6 790.5h1.5v1.5h-1.5zM662.1 790.5h1.5v1.5h-1.5zM1013.1 790.5h1.5v1.5h-1.5zM1311.6 790.5h1.5v1.5h-1.5zM9.6 844.5h1.5v1.5h-1.5zM510.6 844.5h1.5v1.5h-1.5zM594.6 844.5h1.5v1.5h-1.5zM936.6 844.5h1.5v1.5h-1.5zM1050.6 844.5h1.5v1.5h-1.5zM557.1 856.5h1.5v1.5h-1.5zM564.6 856.5h1.5v1.5h-1.5zM776.1 856.5h1.5v1.5h-1.5zM953.1 856.5h1.5v1.5h-1.5zM968.1 856.5h1.5v1.5h-1.5zM975.6 856.5h1.5v1.5h-1.5zM1086.6 856.5h1.5v1.5h-1.5zM371.1 771h1.5v3h-1.5zM27.6 814.5h1.5v3h-1.5zM158.1 814.5h1.5v3h-1.5zM183.6 814.5h1.5v3h-1.5zM308.1 814.5h1.5v3h-1.5zM606.6 814.5h1.5v3h-1.5zM627.6 814.5h1.5v3h-1.5zM641.1 814.5h1.5v1.5h-1.5zM822.6 814.5h1.5v1.5h-1.5zM1106.1 814.5h1.5v1.5h-1.5zM1331.1 814.5h1.5v1.5h-1.5zM45.6 784.5h1.5v1.5h-1.5zM123.6 784.5h1.5v3h-1.5zM204.6 784.5h1.5v1.5h-1.5zM224.1 784.5h1.5v1.5h-1.5zM347.1 784.5h1.5v3h-1.5zM381.6 784.5h1.5v1.5h-1.5zM384.6 784.5h1.5v1.5h-1.5zM392.1 784.5h1.5v1.5h-1.5zM668.1 784.5h1.5v1.5h-1.5zM692.1 784.5h1.5v3h-1.5zM1235.1 784.5h1.5v3h-1.5zM1346.1 825h1.5v1.5h-1.5zM44.1 786h1.5v1.5h-1.5zM383.1 786h1.5v1.5h-1.5zM666.6 786h1.5v1.5h-1.5zM1163.1 786h1.5v1.5h-1.5zM38.1 795h1.5v1.5h-1.5zM336.6 795h1.5v1.5h-1.5zM429.6 795h1.5v1.5h-1.5zM885.6 795h1.5v1.5h-1.5zM888.6 795h1.5v1.5h-1.5zM1008.6 795h1.5v1.5h-1.5zM1316.1 795h1.5v1.5h-1.5zM243.6 816h1.5v1.5h-1.5zM1332.6 816h1.5v1.5h-1.5zM50.1 781.5h1.5v1.5h-1.5zM207.6 781.5h1.5v1.5h-1.5zM350.1 781.5h1.5v1.5h-1.5zM378.6 781.5h1.5v1.5h-1.5zM389.1 781.5h1.5v1.5h-1.5zM353.1 778.5h1.5v1.5h-1.5zM375.6 778.5h1.5v1.5h-1.5zM675.6 778.5h1.5v1.5h-1.5zM1196.1 778.5h1.5v1.5h-1.5zM1232.1 778.5h1.5v1.5h-1.5zM15.6 838.5h1.5v1.5h-1.5zM170.1 838.5h1.5v1.5h-1.5zM1046.1 838.5h1.5v1.5h-1.5zM1278.6 838.5h1.5v1.5h-1.5zM563.1 858h1.5v1.5h-1.5zM774.6 858h1.5v1.5h-1.5zM974.1 858h1.5v1.5h-1.5zM1437.6 858h1.5v1.5h-1.5zM194.1 801h1.5v1.5h-1.5zM332.1 801h1.5v1.5h-1.5zM1320.6 801h1.5v1.5h-1.5z"/>
</svg>
<path fill="#00dd00" d="M1361.1 241.5h9v1.5h-9zM1313.1 232.5h6v1.5h-6zM1253.1 222h7.5v1.5h-7.5zM1380.6 246h6v1.5h-6zM1421.1 253.5h6v1.5h-6zM1344.6 238.5h6v1.5h-6zM1319.1 234h7.5v1.5h-7.5zM1242.6 219h4.5v1.5h-4.5zM1413.6 252h7.5v1.5h-7.5zM1350.6 240h10.5v1.5h-10.5zM1272.6 226.5h6v1.5h-6zM1284.6 229.5h6v1.5h-6zM1394.1 249h10.5v1.5h-10.5zM1370.1 243h6v1.5h-6zM1290.6 231h22.5v1.5h-22.5zM1427.1 255h6v1.5h-6zM1326.6 235.5h9v1.5h-9zM1335.6 237h9v1.5h-9zM1260.6 223.5h6v1.5h-6zM1386.6 247.5h7.5v1.5h-7.5zM1404.6 250.5h9v1.5h-9zM1278.6 228h6v1.5h-6zM1247.1 220.5h6v1.5h-6zM1266.6 225h6v1.5h-6zM1439.1 258h4.5v1.5h-4.5zM1376.1 244.5h4.5v1.5h-4.5zM1433.1 256.5h6v1.5h-6z"/>
<polygon points="12.45,245.8 20.45,254.3 15.45,254.3 15.45,262.8 9.45,262.8 9.45,254.3 4.45,254.3" fill="#ff0000" stroke="none" stroke-width="1.5"/>
<polygon points="184.95,124.8 192.95,133.3 187.95,133.3 187.95,141.8 181.95,141.8 181.95,133.3 176.95,133.3" fill="#ff0000" stroke="none" stroke-width="1.5"/>
<polygon points="283.95,111.8 291.95,120.3 286.95,120.3 286.95,128.8 280.95,128.8 280.95,120.3 275.95,120.3" fill="#ff0000" stroke="none" stroke-width="1.5"/>
<polygon points="310.95,123.8 318.95,132.3 313.95,132.3 313.95,140.8 307.95,140.8 307.95,132.3 302.95,132.3" fill="#ff0000" stroke="none" stroke-width="1.5"/>
<polygon points="489.45,182.8 497.45,191.3 492.45,191.3 492.45,199.8 486.45,199.8 486.45,191.3 481.45,191.3" fill="#ff0000" stroke="none" stroke-width="1.5"/>
<polygon points="576.45,288.6 584.45,297.1 579.45,297.1 579.45,305.6 573.45,305.6 573.45,297.1 568.45,297.1" fill="#ff0000" stroke="none" stroke-width="1.5"/>
<polygon points="795.45,349.8 803.45,358.3 798.45,358.3 798.45,366.8 792.45,366.8 792.45,358.3 787.45,358.3" fill="#ff0000" stroke="none" stroke-width="1.5"/>
<polygon points="847.95,355.3 855.95,363.8 850.95,363.8 850.95,372.3 844.95,372.3 844.95,363.8 839.95,363.8" fill="#ff0000" stroke="none" stroke-width="1.5"/>
<polygon points="934.95,367.8 942.95,376.3 937.95,376.3 937.95,384.8 931.95,384.8 931.95,376.3 926.95,376.3" fill="#ff0000" stroke="none" stroke-width="1.5"/>
<polygon points="981.45,411.8 989.45,420.3 984.45,420.3 984.45,428.8 978.45,428.8 978.45,420.3 973.45,420.3" fill="#ff0000" stroke="none" stroke-width="1.5"/>
<polygon points="1279.95,438.8 1287.95,447.3 1282.95,447.3 1282.95,455.8 1276.95,455.8 1276.95,447.3 1271.95,447.3" fill="#ff0000" stroke="none" stroke-width="1.5"/>
<polygon points="1398.45,462.8 1406.45,471.3 1401.45,471.3 1401.45,479.8 1395.45,479.8 1395.45,471.3 1390.45,471.3" fill="#ff0000" stroke="none" stroke-width="1.5"/>
<polygon points="89.55,98.3 94.75,98.3 94.75,106.3 98.75,106.3 92.15,113.3 85.55,106.3 89.55,106.3" fill="none" stroke="#00e000" stroke-width="1.5"/>
<polygon points="122.55,51.8 127.75,51.8 127.75,59.8 131.75,59.8 125.15,66.8 118.55,59.8 122.55,59.8" fill="none" stroke="#00e000" stroke-width="1.5"/>
<polygon points="215.55,42.3 220.75,42.3 220.75,50.3 224.75,50.3 218.15,57.3 211.55,50.3 215.55,50.3" fill="none" stroke="#00e000" stroke-width="1.5"/>
<polygon points="374.55,54.9 379.75,54.9 379.75,62.9 383.75,62.9 377.15,69.9 370.55,62.9 374.55,62.9" fill="none" stroke="#00e000" stroke-width="1.5"/>
<polygon points="428.55,50.3 433.75,50.3 433.75,58.3 437.75,58.3 431.15,65.3 424.55,58.3 428.55,58.3" fill="none" stroke="#00e000" stroke-width="1.5"/>
<polygon points="680.55,212.3 685.75,212.3 685.75,220.3 689.75,220.3 683.15,227.3 676.55,220.3 680.55,220.3" fill="none" stroke="#00e000" stroke-width="1.5"/>
<polygon points="727.05,206.8 732.25,206.8 732.25,214.8 736.25,214.8 729.65,221.8 723.05,214.8 727.05,214.8" fill="none" stroke="#00e000" stroke-width="1.5"/>
<polygon points="1184.55,380.3 1189.75,380.3 1189.75,388.3 1193.75,388.3 1187.15,395.3 1180.55,388.3 1184.55,388.3" fill="none" stroke="#00e000" stroke-width="1.5"/>
<polygon points="1231.05,351.8 1236.25,351.8 1236.25,359.8 1240.25,359.8 1233.65,366.8 1227.05,359.8 1231.05,359.8" fill="none" stroke="#00e000" stroke-width="1.5"/>
<polygon points="1217,290 1223,290 1223,297.5 1227.5,297.5 1220,306 1212.5,297.5 1217,297.5" fill="#22ee22" stroke="none" stroke-width="1.5"/>
<path fill="#0000f4" d="M426.6 232.5h3v1.5h-3zM623.1 330h3v1.5h-3zM668.1 352.5h3v1.5h-3zM656.1 346.5h3v1.5h-3zM644.1 340.5h3v1.5h-3zM854.1 444h3v1.5h-3zM840.6 438h3v1.5h-3zM887.1 460.5h3v1.5h-3zM875.1 454.5h3v1.5h-3zM195.6 118.5h3v1.5h-3zM183.6 112.5h3v1.5h-3zM171.6 106.5h3v1.5h-3zM843.6 439.5h3v1.5h-3zM218.1 129h3v1.5h-3zM831.6 433.5h3v1.5h-3zM414.6 226.5h3v1.5h-3zM402.6 220.5h3v1.5h-3zM420.6 229.5h3v1.5h-3zM174.6 108h3v1.5h-3zM162.6 102h3v1.5h-3zM359.1 199.5h4.5v1.5h-4.5zM650.1 343.5h3v1.5h-3zM638.1 337.5h3v1.5h-3zM834.6 435h3v1.5h-3zM881.1 457.5h3v1.5h-3zM578.1 307.5h3v1.5h-3zM869.1 451.5h3v1.5h-3zM177.6 109.5h3v1.5h-3zM224.1 132h3v1.5h-3zM165.6 103.5h3v1.5h-3zM212.1 126h3v1.5h-3zM825.6 430.5h3v1.5h-3zM198.6 120h4.5v1.5h-4.5zM408.6 223.5h3v1.5h-3zM813.6 424.5h3v1.5h-3zM396.6 217.5h3v1.5h-3zM168.6 105h3v1.5h-3zM156.6 99h3v1.5h-3zM353.1 196.5h3v1.5h-3zM399.6 219h3v1.5h-3zM341.1 190.5h3v1.5h-3zM632.1 334.5h3v1.5h-3zM387.6 213h3v1.5h-3zM375.6 207h3v1.5h-3zM572.1 304.5h3v1.5h-3zM863.1 448.5h3v1.5h-3zM851.1 442.5h3v1.5h-3zM605.1 321h3v1.5h-3zM206.1 123h3v1.5h-3zM819.6 427.5h3v1.5h-3zM807.6 421.5h3v1.5h-3zM390.6 214.5h3v1.5h-3zM378.6 208.5h3v1.5h-3zM132.6 87h3v1.5h-3zM150.6 96h3v1.5h-3zM138.6 90h3v1.5h-3zM347.1 193.5h3v1.5h-3zM381.6 210h3v1.5h-3zM369.6 204h3v1.5h-3zM566.1 301.5h3v1.5h-3zM857.1 445.5h3v1.5h-3zM611.1 324h3v1.5h-3zM554.1 295.5h3v1.5h-3zM599.1 318h3v1.5h-3zM783.6 409.5h3v1.5h-3zM384.6 211.5h3v1.5h-3zM126.6 84h3v1.5h-3zM786.6 411h3v1.5h-3zM774.6 405h3v1.5h-3zM144.6 93h3v1.5h-3zM363.6 201h3v1.5h-3zM117.6 79.5h3v1.5h-3zM350.1 195h3v1.5h-3zM105.6 73.5h3v1.5h-3zM560.1 298.5h3v1.5h-3zM593.1 315h3v1.5h-3zM581.1 309h3v1.5h-3zM789.6 412.5h3v1.5h-3zM777.6 406.5h3v1.5h-3zM765.6 400.5h3v1.5h-3zM584.1 310.5h3v1.5h-3zM120.6 81h3v1.5h-3zM108.6 75h3v1.5h-3zM768.6 402h3v1.5h-3zM756.6 396h3v1.5h-3zM998.1 516h3v1.5h-3zM986.1 510h3v1.5h-3zM356.1 198h3v1.5h-3zM111.6 76.5h3v1.5h-3zM99.6 70.5h3v1.5h-3zM296.1 168h3v1.5h-3zM587.1 312h3v1.5h-3zM284.1 162h3v1.5h-3zM575.1 306h3v1.5h-3zM329.1 184.5h3v1.5h-3zM563.1 300h3v1.5h-3zM771.6 403.5h3v1.5h-3zM114.6 78h3v1.5h-3zM102.6 72h3v1.5h-3zM762.6 399h3v1.5h-3zM750.6 393h3v1.5h-3zM795.6 415.5h3v1.5h-3zM738.6 387h3v1.5h-3zM992.1 513h3v1.5h-3zM980.1 507h3v1.5h-3zM968.1 501h3v1.5h-3zM93.6 67.5h3v1.5h-3zM81.6 61.5h3v1.5h-3zM290.1 165h3v1.5h-3zM278.1 159h3v1.5h-3zM323.1 181.5h3v1.5h-3zM311.1 175.5h3v1.5h-3zM971.1 502.5h3v1.5h-3zM507.6 273h3v1.5h-3zM959.1 496.5h3v1.5h-3zM495.6 267h3v1.5h-3zM542.1 289.5h3v1.5h-3zM302.1 171h3v1.5h-3zM744.6 390h3v1.5h-3zM498.6 268.5h3v1.5h-3zM486.6 262.5h3v1.5h-3zM69.6 55.5h3v1.5h-3zM974.1 504h3v1.5h-3zM962.1 498h3v1.5h-3zM717.6 376.5h3v1.5h-3zM950.1 492h3v1.5h-3zM87.6 64.5h3v1.5h-3zM75.6 58.5h3v1.5h-3zM317.1 178.5h3v1.5h-3zM305.1 172.5h3v1.5h-3zM293.1 166.5h3v1.5h-3zM965.1 499.5h3v1.5h-3zM501.6 270h3v1.5h-3zM548.1 292.5h3v1.5h-3zM489.6 264h3v1.5h-3zM953.1 493.5h3v1.5h-3zM536.1 286.5h3v1.5h-3zM941.1 487.5h3v1.5h-3zM522.6 280.5h4.5v1.5h-4.5zM720.6 378h3v1.5h-3zM708.6 372h3v1.5h-3zM492.6 265.5h3v1.5h-3zM480.6 259.5h3v1.5h-3zM63.6 52.5h3v1.5h-3zM468.6 253.5h3v1.5h-3zM513.6 276h3v1.5h-3zM51.6 46.5h3v1.5h-3zM723.6 379.5h3v1.5h-3zM711.6 373.5h3v1.5h-3zM699.6 367.5h3v1.5h-3zM929.1 481.5h3v1.5h-3zM299.1 169.5h3v1.5h-3zM54.6 48h3v1.5h-3zM42.6 42h3v1.5h-3zM947.1 490.5h3v1.5h-3zM530.1 283.5h3v1.5h-3zM227.1 133.5h3v1.5h-3zM714.6 375h3v1.5h-3zM702.6 369h3v1.5h-3zM474.6 256.5h3v1.5h-3zM519.6 279h3v1.5h-3zM57.6 49.5h3v1.5h-3zM462.6 250.5h3v1.5h-3zM45.6 43.5h3v1.5h-3zM705.6 370.5h3v1.5h-3zM693.6 364.5h3v1.5h-3zM680.1 358.5h3v1.5h-3zM726.6 381h3v1.5h-3zM935.1 484.5h3v1.5h-3zM923.1 478.5h3v1.5h-3zM911.1 472.5h3v1.5h-3zM48.6 45h3v1.5h-3zM36.6 39h3v1.5h-3zM683.1 360h4.5v1.5h-4.5zM221.1 130.5h3v1.5h-3zM266.1 153h3v1.5h-3zM209.1 124.5h3v1.5h-3zM671.1 354h3v1.5h-3zM254.1 147h3v1.5h-3zM902.1 468h3v1.5h-3zM438.6 238.5h3v1.5h-3zM687.6 361.5h3v1.5h-3zM441.6 240h3v1.5h-3zM674.1 355.5h3v1.5h-3zM732.6 384h3v1.5h-3zM429.6 234h3v1.5h-3zM917.1 475.5h3v1.5h-3zM905.1 469.5h3v1.5h-3zM893.1 463.5h3v1.5h-3zM677.1 357h3v1.5h-3zM215.1 127.5h3v1.5h-3zM260.1 150h3v1.5h-3zM665.1 351h3v1.5h-3zM248.1 144h3v1.5h-3zM236.1 138h3v1.5h-3zM908.1 471h3v1.5h-3zM896.1 465h3v1.5h-3zM432.6 235.5h3v1.5h-3zM884.1 459h3v1.5h-3zM192.6 117h3v1.5h-3zM239.1 139.5h3v1.5h-3zM180.6 111h3v1.5h-3zM435.6 237h3v1.5h-3zM423.6 231h3v1.5h-3zM411.6 225h3v1.5h-3zM899.1 466.5h3v1.5h-3zM653.1 345h3v1.5h-3zM641.1 339h3v1.5h-3zM659.1 348h3v1.5h-3zM242.1 141h3v1.5h-3zM230.1 135h3v1.5h-3zM890.1 462h3v1.5h-3zM878.1 456h3v1.5h-3zM828.6 432h3v1.5h-3zM816.6 426h3v1.5h-3zM186.6 114h3v1.5h-3zM233.1 136.5h3v1.5h-3zM417.6 228h3v1.5h-3zM405.6 222h3v1.5h-3zM159.6 100.5h3v1.5h-3zM393.6 216h3v1.5h-3zM450.6 244.5h3v1.5h-3zM647.1 342h3v1.5h-3zM635.1 336h3v1.5h-3zM866.1 450h3v1.5h-3zM872.1 453h3v1.5h-3zM626.1 331.5h3v1.5h-3zM614.1 325.5h3v1.5h-3zM822.6 429h3v1.5h-3zM810.6 423h3v1.5h-3zM798.6 417h3v1.5h-3zM153.6 97.5h3v1.5h-3zM444.6 241.5h3v1.5h-3zM141.6 91.5h3v1.5h-3zM629.1 333h3v1.5h-3zM617.1 327h3v1.5h-3zM372.6 205.5h3v1.5h-3zM860.1 447h3v1.5h-3zM846.6 441h4.5v1.5h-4.5zM620.1 328.5h3v1.5h-3zM203.1 121.5h3v1.5h-3zM608.1 322.5h3v1.5h-3zM596.1 316.5h3v1.5h-3zM804.6 420h3v1.5h-3zM792.6 414h3v1.5h-3zM837.6 436.5h3v1.5h-3zM780.6 408h3v1.5h-3zM147.6 94.5h3v1.5h-3zM135.6 88.5h3v1.5h-3zM123.6 82.5h3v1.5h-3zM366.6 202.5h3v1.5h-3zM1001.1 517.5h3v1.5h-3zM602.1 319.5h3v1.5h-3zM590.1 313.5h3v1.5h-3zM344.1 192h3v1.5h-3zM1004.1 519h3v1.5h-3zM759.6 397.5h3v1.5h-3zM129.6 85.5h3v1.5h-3zM335.1 187.5h3v1.5h-3zM1007.1 520.5h3v1.5h-3zM995.1 514.5h3v1.5h-3zM338.1 189h3v1.5h-3zM326.1 183h3v1.5h-3zM510.6 274.5h3v1.5h-3zM801.6 418.5h3v1.5h-3zM557.1 297h3v1.5h-3zM753.6 394.5h3v1.5h-3zM741.6 388.5h3v1.5h-3zM96.6 69h3v1.5h-3zM84.6 63h3v1.5h-3zM989.1 511.5h3v1.5h-3zM977.1 505.5h3v1.5h-3zM332.1 186h3v1.5h-3zM320.1 180h3v1.5h-3zM308.1 174h3v1.5h-3zM516.6 277.5h3v1.5h-3zM504.6 271.5h3v1.5h-3zM551.1 294h3v1.5h-3zM539.1 288h3v1.5h-3zM747.6 391.5h3v1.5h-3zM735.6 385.5h3v1.5h-3zM90.6 66h3v1.5h-3zM78.6 60h3v1.5h-3zM983.1 508.5h3v1.5h-3zM66.6 54h3v1.5h-3zM944.1 489h3v1.5h-3zM314.1 177h3v1.5h-3zM545.1 291h3v1.5h-3zM533.1 285h3v1.5h-3zM729.6 382.5h3v1.5h-3zM471.6 255h3v1.5h-3zM72.6 57h3v1.5h-3zM60.6 51h3v1.5h-3zM938.1 486h3v1.5h-3zM527.1 282h3v1.5h-3zM281.1 160.5h3v1.5h-3zM269.1 154.5h3v1.5h-3zM465.6 252h3v1.5h-3zM272.1 156h3v1.5h-3zM932.1 483h3v1.5h-3zM920.1 477h3v1.5h-3zM275.1 157.5h3v1.5h-3zM263.1 151.5h3v1.5h-3zM459.6 249h3v1.5h-3zM447.6 243h3v1.5h-3zM926.1 480h3v1.5h-3zM914.1 474h3v1.5h-3zM251.1 145.5h3v1.5h-3zM257.1 148.5h3v1.5h-3zM245.1 142.5h3v1.5h-3zM453.6 246h3v1.5h-3zM477.6 258h3v1.5h-3zM662.1 349.5h3v1.5h-3zM189.6 115.5h3v1.5h-3zM456.6 247.5h3v1.5h-3zM690.6 363h3v1.5h-3zM569.1 303h3v1.5h-3zM956.1 495h3v1.5h-3zM287.1 163.5h3v1.5h-3zM39.6 40.5h3v1.5h-3zM483.6 261h3v1.5h-3zM696.6 366h3v1.5h-3z"/>
<path fill="#0000f4" d="M633.6 174h3v1.5h-3zM621.6 168h3v1.5h-3zM830.1 271.5h3v1.5h-3zM863.1 288h3v1.5h-3zM401.1 58.5h3v1.5h-3zM851.1 282h3v1.5h-3zM1059.6 385.5h3v1.5h-3zM1047.6 379.5h3v1.5h-3zM1035.6 373.5h3v1.5h-3zM392.1 54h3v1.5h-3zM380.1 48h3v1.5h-3zM1050.6 381h3v1.5h-3zM425.1 70.5h3v1.5h-3zM1038.6 375h3v1.5h-3zM1026.6 369h3v1.5h-3zM609.6 162h3v1.5h-3zM1223.1 466.5h3v1.5h-3zM1268.1 489h3v1.5h-3zM1211.1 460.5h3v1.5h-3zM1256.1 483h3v1.5h-3zM627.6 171h3v1.5h-3zM857.1 285h3v1.5h-3zM554.1 135h4.5v1.5h-4.5zM845.1 279h3v1.5h-3zM600.6 157.5h3v1.5h-3zM833.1 273h3v1.5h-3zM1041.6 376.5h3v1.5h-3zM785.1 249h3v1.5h-3zM386.1 51h3v1.5h-3zM374.1 45h3v1.5h-3zM419.1 67.5h3v1.5h-3zM1032.6 372h3v1.5h-3zM407.1 61.5h3v1.5h-3zM615.6 165h3v1.5h-3zM1020.6 366h3v1.5h-3zM603.6 159h3v1.5h-3zM1008.6 360h3v1.5h-3zM1217.1 463.5h3v1.5h-3zM591.6 153h3v1.5h-3zM1262.1 486h3v1.5h-3zM1250.1 480h3v1.5h-3zM1238.1 474h3v1.5h-3zM548.1 132h3v1.5h-3zM594.6 154.5h3v1.5h-3zM582.6 148.5h3v1.5h-3zM791.1 252h3v1.5h-3zM1241.1 475.5h3v1.5h-3zM779.1 246h3v1.5h-3zM1229.1 469.5h3v1.5h-3zM767.1 240h3v1.5h-3zM812.1 262.5h3v1.5h-3zM996.6 354h3v1.5h-3zM413.1 64.5h3v1.5h-3zM1014.6 363h3v1.5h-3zM597.6 156h3v1.5h-3zM1244.1 477h3v1.5h-3zM1232.1 471h3v1.5h-3zM987.6 349.5h3v1.5h-3zM1220.1 465h3v1.5h-3zM588.6 151.5h3v1.5h-3zM576.6 145.5h3v1.5h-3zM564.6 139.5h3v1.5h-3zM1235.1 472.5h3v1.5h-3zM773.1 243h3v1.5h-3zM818.1 265.5h3v1.5h-3zM761.1 237h3v1.5h-3zM806.1 259.5h3v1.5h-3zM794.1 253.5h3v1.5h-3zM1002.6 357h3v1.5h-3zM990.6 351h3v1.5h-3zM978.6 345h3v1.5h-3zM738.6 226.5h3v1.5h-3zM993.6 352.5h3v1.5h-3zM935.1 324h3v1.5h-3zM981.6 346.5h3v1.5h-3zM969.6 340.5h3v1.5h-3zM1199.1 454.5h3v1.5h-3zM570.6 142.5h3v1.5h-3zM509.1 112.5h3v1.5h-3zM800.1 256.5h3v1.5h-3zM497.1 106.5h3v1.5h-3zM788.1 250.5h3v1.5h-3zM776.1 244.5h3v1.5h-3zM984.6 348h3v1.5h-3zM972.6 342h3v1.5h-3zM744.6 229.5h3v1.5h-3zM732.6 223.5h3v1.5h-3zM362.1 39h3v1.5h-3zM975.6 343.5h3v1.5h-3zM558.6 136.5h3v1.5h-3zM963.6 337.5h3v1.5h-3zM951.6 331.5h3v1.5h-3zM1205.1 457.5h3v1.5h-3zM1148.1 429h3v1.5h-3zM1193.1 451.5h3v1.5h-3zM1181.1 445.5h3v1.5h-3zM503.1 109.5h3v1.5h-3zM491.1 103.5h3v1.5h-3zM782.1 247.5h3v1.5h-3zM536.1 126h3v1.5h-3zM479.1 97.5h3v1.5h-3zM941.1 327h3v1.5h-3zM524.1 120h3v1.5h-3zM1137.6 424.5h4.5v1.5h-4.5zM720.6 217.5h3v1.5h-3zM1125.6 418.5h3v1.5h-3zM1172.1 441h3v1.5h-3zM708.6 211.5h3v1.5h-3zM957.6 334.5h3v1.5h-3zM711.6 213h3v1.5h-3zM699.6 207h3v1.5h-3zM1187.1 448.5h3v1.5h-3zM1175.1 442.5h3v1.5h-3zM1163.1 436.5h3v1.5h-3zM485.1 100.5h3v1.5h-3zM530.1 123h3v1.5h-3zM518.1 117h3v1.5h-3zM1131.6 421.5h3v1.5h-3zM506.1 111h3v1.5h-3zM1178.1 444h3v1.5h-3zM714.6 214.5h3v1.5h-3zM1119.6 415.5h3v1.5h-3zM1166.1 438h3v1.5h-3zM702.6 208.5h3v1.5h-3zM747.6 231h4.5v1.5h-4.5zM690.6 202.5h3v1.5h-3zM1154.1 432h3v1.5h-3zM705.6 210h3v1.5h-3zM693.6 204h3v1.5h-3zM681.6 198h3v1.5h-3zM1169.1 439.5h3v1.5h-3zM923.1 318h3v1.5h-3zM866.1 289.5h3v1.5h-3zM1328.1 519h3v1.5h-3zM911.1 312h3v1.5h-3zM512.1 114h3v1.5h-3zM500.1 108h3v1.5h-3zM1160.1 435h3v1.5h-3zM440.1 78h3v1.5h-3zM1098.6 405h3v1.5h-3zM1331.1 520.5h3v1.5h-3zM1086.6 399h3v1.5h-3zM687.6 201h3v1.5h-3zM675.6 195h3v1.5h-3zM663.6 189h3v1.5h-3zM917.1 315h3v1.5h-3zM1322.1 516h3v1.5h-3zM905.1 309h3v1.5h-3zM1310.1 510h3v1.5h-3zM893.1 303h3v1.5h-3zM1077.6 394.5h3v1.5h-3zM896.1 304.5h3v1.5h-3zM434.1 75h3v1.5h-3zM884.1 298.5h3v1.5h-3zM422.1 69h3v1.5h-3zM1092.6 402h3v1.5h-3zM467.1 91.5h3v1.5h-3zM1080.6 396h3v1.5h-3zM1068.6 390h3v1.5h-3zM651.6 183h3v1.5h-3zM1298.1 504h3v1.5h-3zM1316.1 513h3v1.5h-3zM899.1 306h3v1.5h-3zM944.1 328.5h4.5v1.5h-4.5zM887.1 300h3v1.5h-3zM642.6 178.5h3v1.5h-3zM890.1 301.5h3v1.5h-3zM428.1 72h3v1.5h-3zM473.1 94.5h3v1.5h-3zM878.1 295.5h3v1.5h-3zM461.1 88.5h3v1.5h-3zM1074.6 393h3v1.5h-3zM449.1 82.5h3v1.5h-3zM1062.6 387h3v1.5h-3zM1107.6 409.5h3v1.5h-3zM645.6 180h3v1.5h-3zM1095.6 403.5h3v1.5h-3zM1304.1 507h3v1.5h-3zM1292.1 501h3v1.5h-3zM1280.1 495h3v1.5h-3zM648.6 181.5h3v1.5h-3zM636.6 175.5h3v1.5h-3zM624.6 169.5h3v1.5h-3zM1283.1 496.5h3v1.5h-3zM1271.1 490.5h3v1.5h-3zM854.1 283.5h3v1.5h-3zM872.1 292.5h3v1.5h-3zM455.1 85.5h3v1.5h-3zM443.1 79.5h3v1.5h-3zM431.1 73.5h3v1.5h-3zM1101.6 406.5h3v1.5h-3zM639.6 177h3v1.5h-3zM1089.6 400.5h3v1.5h-3zM1286.1 498h3v1.5h-3zM1274.1 492h3v1.5h-3zM1029.6 370.5h3v1.5h-3zM446.1 81h3v1.5h-3zM630.6 172.5h3v1.5h-3zM618.6 166.5h3v1.5h-3zM606.6 160.5h3v1.5h-3zM1277.1 493.5h3v1.5h-3zM860.1 286.5h3v1.5h-3zM1265.1 487.5h3v1.5h-3zM848.1 280.5h3v1.5h-3zM836.1 274.5h3v1.5h-3zM437.1 76.5h3v1.5h-3zM1083.6 397.5h3v1.5h-3zM827.1 270h3v1.5h-3zM365.1 40.5h3v1.5h-3zM410.1 63h3v1.5h-3zM1023.6 367.5h3v1.5h-3zM1011.6 361.5h3v1.5h-3zM612.6 163.5h3v1.5h-3zM657.6 186h3v1.5h-3zM1259.1 484.5h3v1.5h-3zM842.1 277.5h3v1.5h-3zM1247.1 478.5h3v1.5h-3zM416.1 66h3v1.5h-3zM821.1 267h3v1.5h-3zM404.1 60h3v1.5h-3zM809.1 261h3v1.5h-3zM1017.6 364.5h3v1.5h-3zM1005.6 358.5h3v1.5h-3zM1253.1 481.5h3v1.5h-3zM383.1 49.5h3v1.5h-3zM824.1 268.5h3v1.5h-3zM579.6 147h3v1.5h-3zM567.6 141h3v1.5h-3zM1214.1 462h3v1.5h-3zM815.1 264h3v1.5h-3zM398.1 57h3v1.5h-3zM803.1 258h3v1.5h-3zM999.6 355.5h3v1.5h-3zM1044.6 378h3v1.5h-3zM741.6 228h3v1.5h-3zM389.1 52.5h3v1.5h-3zM377.1 46.5h3v1.5h-3zM573.6 144h3v1.5h-3zM561.6 138h3v1.5h-3zM1208.1 459h3v1.5h-3zM797.1 255h3v1.5h-3zM551.1 133.5h3v1.5h-3zM539.1 127.5h3v1.5h-3zM368.1 42h3v1.5h-3zM735.6 225h3v1.5h-3zM770.1 241.5h3v1.5h-3zM966.6 339h3v1.5h-3zM371.1 43.5h3v1.5h-3zM542.1 129h3v1.5h-3zM1202.1 456h3v1.5h-3zM1190.1 450h3v1.5h-3zM545.1 130.5h3v1.5h-3zM533.1 124.5h3v1.5h-3zM729.6 222h3v1.5h-3zM717.6 216h3v1.5h-3zM764.1 238.5h3v1.5h-3zM960.6 336h3v1.5h-3zM948.6 330h3v1.5h-3zM1196.1 453h3v1.5h-3zM1184.1 447h3v1.5h-3zM938.1 325.5h3v1.5h-3zM521.1 118.5h3v1.5h-3zM755.1 234h3v1.5h-3zM527.1 121.5h3v1.5h-3zM515.1 115.5h3v1.5h-3zM723.6 219h3v1.5h-3zM758.1 235.5h3v1.5h-3zM954.6 333h3v1.5h-3zM929.1 321h3v1.5h-3zM932.1 322.5h3v1.5h-3zM920.1 316.5h3v1.5h-3zM1116.6 414h3v1.5h-3zM1104.6 408h3v1.5h-3zM1151.1 430.5h3v1.5h-3zM752.1 232.5h3v1.5h-3zM494.1 105h3v1.5h-3zM726.6 220.5h3v1.5h-3zM678.6 196.5h3v1.5h-3zM1325.1 517.5h3v1.5h-3zM1142.1 426h3v1.5h-3zM926.1 319.5h3v1.5h-3zM914.1 313.5h3v1.5h-3zM902.1 307.5h3v1.5h-3zM1110.6 411h3v1.5h-3zM1157.1 433.5h3v1.5h-3zM1145.1 427.5h3v1.5h-3zM488.1 102h3v1.5h-3zM476.1 96h3v1.5h-3zM684.6 199.5h3v1.5h-3zM1134.6 423h3v1.5h-3zM672.6 193.5h3v1.5h-3zM1122.6 417h3v1.5h-3zM660.6 187.5h3v1.5h-3zM1319.1 514.5h3v1.5h-3zM1307.1 508.5h3v1.5h-3zM908.1 310.5h3v1.5h-3zM881.1 297h3v1.5h-3zM1113.6 412.5h3v1.5h-3zM482.1 99h3v1.5h-3zM470.1 93h3v1.5h-3zM458.1 87h3v1.5h-3zM1128.6 420h3v1.5h-3zM666.6 190.5h3v1.5h-3zM654.6 184.5h3v1.5h-3zM1313.1 511.5h3v1.5h-3zM1301.1 505.5h3v1.5h-3zM1289.1 499.5h3v1.5h-3zM875.1 294h3v1.5h-3zM464.1 90h3v1.5h-3zM452.1 84h3v1.5h-3zM1295.1 502.5h3v1.5h-3zM669.6 192h3v1.5h-3zM869.1 291h3v1.5h-3zM1065.6 388.5h3v1.5h-3zM839.1 276h3v1.5h-3zM1056.6 384h3v1.5h-3zM1071.6 391.5h3v1.5h-3zM585.6 150h3v1.5h-3zM395.1 55.5h3v1.5h-3zM1053.6 382.5h3v1.5h-3zM1226.1 468h3v1.5h-3zM696.6 205.5h3v1.5h-3z"/>
<path fill="#0000f4" d="M896.1 141h3v1.5h-3zM882.6 135h4.5v1.5h-4.5zM1176.6 279h3v1.5h-3zM1361.1 370.5h3v1.5h-3zM1115.1 249h3v1.5h-3zM1407.6 393h3v1.5h-3zM1103.1 243h3v1.5h-3zM1395.6 387h3v1.5h-3zM1383.6 381h3v1.5h-3zM887.1 136.5h3v1.5h-3zM828.6 108h3v1.5h-3zM1121.1 252h3v1.5h-3zM873.6 130.5h3v1.5h-3zM861.6 124.5h3v1.5h-3zM1352.1 366h3v1.5h-3zM1340.1 360h3v1.5h-3zM1094.1 238.5h3v1.5h-3zM1328.1 354h3v1.5h-3zM852.6 120h3v1.5h-3zM1109.1 246h3v1.5h-3zM1097.1 240h3v1.5h-3zM1389.6 384h3v1.5h-3zM1085.1 234h3v1.5h-3zM1377.6 378h3v1.5h-3zM867.6 127.5h3v1.5h-3zM1316.1 348h3v1.5h-3zM855.6 121.5h3v1.5h-3zM843.6 115.5h3v1.5h-3zM1100.1 241.5h3v1.5h-3zM1041.6 213h3v1.5h-3zM1088.1 235.5h3v1.5h-3zM1074.6 229.5h3v1.5h-3zM858.6 123h3v1.5h-3zM1307.1 343.5h3v1.5h-3zM846.6 117h3v1.5h-3zM834.6 111h3v1.5h-3zM1065.6 225h3v1.5h-3zM1091.1 237h3v1.5h-3zM1077.6 231h4.5v1.5h-4.5zM1322.1 351h3v1.5h-3zM1310.1 345h3v1.5h-3zM849.6 118.5h3v1.5h-3zM1298.1 339h3v1.5h-3zM837.6 112.5h3v1.5h-3zM1082.1 232.5h3v1.5h-3zM1068.6 226.5h3v1.5h-3zM1056.6 220.5h3v1.5h-3zM1313.1 346.5h3v1.5h-3zM1254.6 318h3v1.5h-3zM1301.1 340.5h3v1.5h-3zM840.6 114h3v1.5h-3zM1289.1 334.5h3v1.5h-3zM1071.6 228h3v1.5h-3zM767.1 78h3v1.5h-3zM1059.6 222h3v1.5h-3zM1047.6 216h3v1.5h-3zM1304.1 342h3v1.5h-3zM1062.6 223.5h3v1.5h-3zM816.6 102h3v1.5h-3zM758.1 73.5h3v1.5h-3zM804.6 96h3v1.5h-3zM1295.1 337.5h3v1.5h-3zM1283.1 331.5h3v1.5h-3zM1269.6 325.5h4.5v1.5h-4.5zM773.1 81h3v1.5h-3zM761.1 75h3v1.5h-3zM1053.6 219h3v1.5h-3zM749.1 69h3v1.5h-3zM980.1 183h4.5v1.5h-4.5zM1260.6 321h3v1.5h-3zM810.6 99h3v1.5h-3zM798.6 93h3v1.5h-3zM785.1 87h4.5v1.5h-4.5zM1277.1 328.5h3v1.5h-3zM1029.6 207h3v1.5h-3zM971.1 178.5h3v1.5h-3zM1017.6 201h3v1.5h-3zM755.1 72h3v1.5h-3zM743.1 66h3v1.5h-3zM789.6 88.5h3v1.5h-3zM731.1 60h3v1.5h-3zM776.1 82.5h3v1.5h-3zM974.1 180h3v1.5h-3zM1266.6 324h3v1.5h-3zM962.1 174h3v1.5h-3zM792.6 90h3v1.5h-3zM1023.6 204h3v1.5h-3zM1011.6 198h3v1.5h-3zM999.6 192h3v1.5h-3zM737.1 63h3v1.5h-3zM1242.6 312h3v1.5h-3zM782.1 85.5h3v1.5h-3zM1230.6 306h3v1.5h-3zM770.1 79.5h3v1.5h-3zM968.1 177h3v1.5h-3zM956.1 171h3v1.5h-3zM710.1 49.5h3v1.5h-3zM944.1 165h3v1.5h-3zM1002.6 193.5h3v1.5h-3zM990.6 187.5h3v1.5h-3zM1005.6 195h3v1.5h-3zM993.6 189h3v1.5h-3zM1236.6 309h3v1.5h-3zM1224.6 303h3v1.5h-3zM764.1 76.5h3v1.5h-3zM1212.6 297h3v1.5h-3zM716.1 52.5h3v1.5h-3zM950.1 168h3v1.5h-3zM1455.6 417h3v1.5h-3zM704.1 46.5h3v1.5h-3zM996.6 190.5h3v1.5h-3zM1443.6 411h3v1.5h-3zM692.1 40.5h3v1.5h-3zM984.6 184.5h3v1.5h-3zM1169.1 276h3v1.5h-3zM923.1 154.5h3v1.5h-3zM1215.6 298.5h3v1.5h-3zM1203.6 292.5h3v1.5h-3zM1218.6 300h3v1.5h-3zM1206.6 294h3v1.5h-3zM1449.6 414h3v1.5h-3zM698.1 43.5h3v1.5h-3zM1437.6 408h3v1.5h-3zM977.1 181.5h3v1.5h-3zM719.1 54h3v1.5h-3zM929.1 157.5h3v1.5h-3zM917.1 151.5h3v1.5h-3zM1209.6 295.5h3v1.5h-3zM905.1 145.5h3v1.5h-3zM1197.6 289.5h3v1.5h-3zM1440.6 409.5h3v1.5h-3zM1136.1 259.5h3v1.5h-3zM1428.6 403.5h3v1.5h-3zM1416.6 397.5h3v1.5h-3zM1431.6 405h3v1.5h-3zM1185.6 283.5h3v1.5h-3zM725.1 57h3v1.5h-3zM1419.6 399h3v1.5h-3zM1172.1 277.5h4.5v1.5h-4.5zM713.1 51h3v1.5h-3zM701.1 45h3v1.5h-3zM911.1 148.5h3v1.5h-3zM899.1 142.5h3v1.5h-3zM1191.6 286.5h3v1.5h-3zM932.1 159h3v1.5h-3zM1142.1 262.5h3v1.5h-3zM1130.1 256.5h3v1.5h-3zM1422.6 400.5h3v1.5h-3zM1410.6 394.5h3v1.5h-3zM1349.1 364.5h3v1.5h-3zM876.6 132h3v1.5h-3zM1425.6 402h3v1.5h-3zM1179.6 280.5h3v1.5h-3zM707.1 48h3v1.5h-3zM695.1 42h3v1.5h-3zM893.1 139.5h3v1.5h-3zM1398.6 388.5h3v1.5h-3zM938.1 162h3v1.5h-3zM926.1 156h3v1.5h-3zM914.1 150h3v1.5h-3zM1124.1 253.5h3v1.5h-3zM1112.1 247.5h3v1.5h-3zM1404.6 391.5h3v1.5h-3zM1157.1 270h3v1.5h-3zM1145.1 264h3v1.5h-3zM1355.1 367.5h3v1.5h-3zM1343.1 361.5h3v1.5h-3zM870.6 129h3v1.5h-3zM689.1 39h3v1.5h-3zM1392.6 385.5h3v1.5h-3zM1380.6 379.5h3v1.5h-3zM920.1 153h3v1.5h-3zM908.1 147h3v1.5h-3zM1118.1 250.5h3v1.5h-3zM1106.1 244.5h3v1.5h-3zM1151.1 267h3v1.5h-3zM1139.1 261h3v1.5h-3zM1337.1 358.5h3v1.5h-3zM1325.1 352.5h3v1.5h-3zM864.6 126h3v1.5h-3zM1371.6 375h3v1.5h-3zM1386.6 382.5h3v1.5h-3zM1374.6 376.5h3v1.5h-3zM902.1 144h3v1.5h-3zM1133.1 258h3v1.5h-3zM1331.1 355.5h3v1.5h-3zM1319.1 349.5h3v1.5h-3zM1364.1 372h3v1.5h-3zM831.6 109.5h3v1.5h-3zM1367.1 373.5h4.5v1.5h-4.5zM1127.1 255h3v1.5h-3zM822.6 105h3v1.5h-3zM1358.1 369h3v1.5h-3zM1346.1 363h3v1.5h-3zM1334.1 357h3v1.5h-3zM779.1 84h3v1.5h-3zM1286.1 333h3v1.5h-3zM825.6 106.5h3v1.5h-3zM813.6 100.5h3v1.5h-3zM1044.6 214.5h3v1.5h-3zM1035.6 210h3v1.5h-3zM1292.1 336h3v1.5h-3zM1280.1 330h3v1.5h-3zM819.6 103.5h3v1.5h-3zM807.6 97.5h3v1.5h-3zM795.6 91.5h3v1.5h-3zM1050.6 217.5h3v1.5h-3zM1038.6 211.5h3v1.5h-3zM1026.6 205.5h3v1.5h-3zM1257.6 319.5h3v1.5h-3zM1274.1 327h3v1.5h-3zM801.6 94.5h3v1.5h-3zM1248.6 315h3v1.5h-3zM1032.6 208.5h3v1.5h-3zM1020.6 202.5h3v1.5h-3zM1008.6 196.5h3v1.5h-3zM1263.6 322.5h3v1.5h-3zM1251.6 316.5h3v1.5h-3zM1239.6 310.5h3v1.5h-3zM722.1 55.5h3v1.5h-3zM1014.6 199.5h3v1.5h-3zM1461.6 420h3v1.5h-3zM1245.6 313.5h3v1.5h-3zM1233.6 307.5h3v1.5h-3zM987.6 186h3v1.5h-3zM1221.6 301.5h3v1.5h-3zM1464.6 421.5h3v1.5h-3zM1452.6 415.5h3v1.5h-3zM935.1 160.5h3v1.5h-3zM1227.6 304.5h3v1.5h-3zM1458.6 418.5h3v1.5h-3zM752.1 70.5h3v1.5h-3zM1446.6 412.5h3v1.5h-3zM1200.6 291h3v1.5h-3zM740.1 64.5h3v1.5h-3zM1434.6 406.5h3v1.5h-3zM728.1 58.5h3v1.5h-3zM959.1 172.5h3v1.5h-3zM1148.1 265.5h3v1.5h-3zM1194.6 288h3v1.5h-3zM734.1 61.5h3v1.5h-3zM1182.6 282h3v1.5h-3zM965.1 175.5h3v1.5h-3zM1413.6 396h3v1.5h-3zM953.1 169.5h3v1.5h-3zM941.1 163.5h3v1.5h-3zM1188.6 285h3v1.5h-3zM1163.1 273h3v1.5h-3zM947.1 166.5h3v1.5h-3zM1166.1 274.5h3v1.5h-3zM1154.1 268.5h3v1.5h-3zM1401.6 390h3v1.5h-3zM879.6 133.5h3v1.5h-3zM1160.1 271.5h3v1.5h-3zM890.1 138h3v1.5h-3zM746.1 67.5h3v1.5h-3z"/>
<path fill="#0000f4" d="M1409.1 292.5h4.5v1.5h-4.5zM1029.6 445.5h4.5v1.5h-4.5zM1316.1 330h4.5v1.5h-4.5zM936.6 483h4.5v1.5h-4.5zM1223.1 367.5h4.5v1.5h-4.5zM845.1 520.5h3v1.5h-3zM1130.1 405h4.5v1.5h-4.5zM1371.6 307.5h4.5v1.5h-4.5zM1278.6 345h4.5v1.5h-4.5zM891.6 501h4.5v1.5h-4.5zM1178.1 385.5h4.5v1.5h-4.5zM858.6 514.5h4.5v1.5h-4.5zM1085.1 423h4.5v1.5h-4.5zM1052.1 436.5h4.5v1.5h-4.5zM1100.1 417h4.5v1.5h-4.5zM1386.6 301.5h4.5v1.5h-4.5zM1007.1 454.5h4.5v1.5h-4.5zM1293.6 339h4.5v1.5h-4.5zM914.1 492h4.5v1.5h-4.5zM1248.6 357h4.5v1.5h-4.5zM1137.6 402h4.5v1.5h-4.5zM1044.6 439.5h4.5v1.5h-4.5zM1092.6 420h4.5v1.5h-4.5zM1379.1 304.5h4.5v1.5h-4.5zM999.6 457.5h4.5v1.5h-4.5zM1286.1 342h4.5v1.5h-4.5zM866.1 511.5h4.5v1.5h-4.5zM1242.6 360h3v1.5h-3zM1301.1 336h4.5v1.5h-4.5zM921.6 489h4.5v1.5h-4.5zM1208.1 373.5h4.5v1.5h-4.5zM1107.6 414h4.5v1.5h-4.5zM1401.6 295.5h4.5v1.5h-4.5zM1014.6 451.5h4.5v1.5h-4.5zM1256.1 354h4.5v1.5h-4.5zM1163.1 391.5h4.5v1.5h-4.5zM1449.6 276h4.5v1.5h-4.5zM1070.1 429h4.5v1.5h-4.5zM1356.6 313.5h4.5v1.5h-4.5zM1442.1 279h4.5v1.5h-4.5zM1022.1 448.5h4.5v1.5h-4.5zM929.1 486h4.5v1.5h-4.5zM984.6 463.5h4.5v1.5h-4.5zM1271.1 348h4.5v1.5h-4.5zM885.6 504h3v1.5h-3zM1170.6 388.5h4.5v1.5h-4.5zM1077.6 426h4.5v1.5h-4.5zM1421.1 288h3v1.5h-3zM1328.1 325.5h3v1.5h-3zM906.6 495h4.5v1.5h-4.5zM1341.6 319.5h4.5v1.5h-4.5zM992.1 460.5h4.5v1.5h-4.5zM899.1 498h4.5v1.5h-4.5zM1041.6 441h3v1.5h-3zM1334.1 322.5h4.5v1.5h-4.5zM948.6 478.5h3v1.5h-3zM1235.1 363h3v1.5h-3zM855.6 516h3v1.5h-3zM1142.1 400.5h3v1.5h-3zM1155.6 394.5h4.5v1.5h-4.5zM1064.1 432h3v1.5h-3zM1349.1 316.5h4.5v1.5h-4.5zM971.1 469.5h3v1.5h-3zM1398.6 297h3v1.5h-3zM1305.6 334.5h3v1.5h-3zM1056.6 435h3v1.5h-3zM1391.1 300h3v1.5h-3zM1011.6 453h3v1.5h-3zM1298.1 337.5h3v1.5h-3zM1263.6 351h4.5v1.5h-4.5zM878.1 507h3v1.5h-3zM1220.1 369h3v1.5h-3zM1127.1 406.5h3v1.5h-3zM1413.6 291h3v1.5h-3zM1034.1 444h3v1.5h-3zM1320.6 328.5h3v1.5h-3zM1461.6 271.5h3v1.5h-3zM941.1 481.5h3v1.5h-3zM1368.6 309h3v1.5h-3zM1275.6 346.5h3v1.5h-3zM848.1 519h3v1.5h-3zM1283.1 343.5h3v1.5h-3zM1190.1 381h3v1.5h-3zM1097.1 418.5h3v1.5h-3zM1383.6 303h3v1.5h-3zM996.6 459h3v1.5h-3zM963.6 472.5h3v1.5h-3zM1431.6 283.5h3v1.5h-3zM870.6 510h3v1.5h-3zM1338.6 321h3v1.5h-3zM918.6 490.5h3v1.5h-3zM1205.1 375h3v1.5h-3zM1454.1 274.5h3v1.5h-3zM1004.1 456h3v1.5h-3zM911.1 493.5h3v1.5h-3zM1119.6 409.5h3v1.5h-3zM1026.6 447h3v1.5h-3zM1167.6 390h3v1.5h-3zM1074.6 427.5h3v1.5h-3zM1361.1 312h3v1.5h-3zM1268.1 349.5h3v1.5h-3zM981.6 465h3v1.5h-3zM888.6 502.5h3v1.5h-3zM1067.1 430.5h3v1.5h-3zM896.1 499.5h3v1.5h-3zM1182.6 384h3v1.5h-3zM1089.6 421.5h3v1.5h-3zM1424.1 286.5h3v1.5h-3zM1331.1 324h3v1.5h-3zM951.6 477h4.5v1.5h-4.5zM1238.1 361.5h4.5v1.5h-4.5zM1193.1 379.5h4.5v1.5h-4.5zM1253.1 355.5h3v1.5h-3zM1160.1 393h3v1.5h-3zM1446.6 277.5h3v1.5h-3zM1245.6 358.5h3v1.5h-3zM1145.1 399h4.5v1.5h-4.5zM1152.6 396h3v1.5h-3zM1200.6 376.5h4.5v1.5h-4.5zM1394.1 298.5h4.5v1.5h-4.5zM974.1 468h4.5v1.5h-4.5zM881.1 505.5h4.5v1.5h-4.5zM1215.6 370.5h4.5v1.5h-4.5zM1122.6 408h4.5v1.5h-4.5zM1464.6 270h3v1.5h-3zM966.6 471h4.5v1.5h-4.5zM873.6 508.5h4.5v1.5h-4.5zM1416.6 289.5h4.5v1.5h-4.5zM1037.1 442.5h4.5v1.5h-4.5zM1323.6 327h4.5v1.5h-4.5zM944.1 480h4.5v1.5h-4.5zM1230.6 364.5h4.5v1.5h-4.5zM851.1 517.5h4.5v1.5h-4.5zM1185.6 382.5h4.5v1.5h-4.5zM1434.6 282h4.5v1.5h-4.5zM1115.1 411h4.5v1.5h-4.5zM1457.1 273h4.5v1.5h-4.5zM1364.1 310.5h4.5v1.5h-4.5zM1406.1 294h3v1.5h-3zM1427.1 285h4.5v1.5h-4.5zM1049.1 438h3v1.5h-3zM956.1 475.5h3v1.5h-3zM863.1 513h3v1.5h-3zM1149.6 397.5h3v1.5h-3zM1104.6 415.5h3v1.5h-3zM978.6 466.5h3v1.5h-3zM1313.1 331.5h3v1.5h-3zM1112.1 412.5h3v1.5h-3zM1019.1 450h3v1.5h-3zM1212.6 372h3v1.5h-3zM1227.6 366h3v1.5h-3zM1134.6 403.5h3v1.5h-3zM1376.1 306h3v1.5h-3zM1175.1 387h3v1.5h-3zM1290.6 340.5h3v1.5h-3zM1197.6 378h3v1.5h-3zM1439.1 280.5h3v1.5h-3zM1346.1 318h3v1.5h-3zM926.1 487.5h3v1.5h-3zM1353.6 315h3v1.5h-3zM1260.6 352.5h3v1.5h-3zM1082.1 424.5h3v1.5h-3zM989.1 462h3v1.5h-3zM903.6 496.5h3v1.5h-3zM959.1 474h4.5v1.5h-4.5zM1059.6 433.5h4.5v1.5h-4.5zM1308.6 333h4.5v1.5h-4.5zM933.6 484.5h3v1.5h-3z"/>
<path fill="#0000f4" d="M1082.1 516h3v1.5h-3zM1371.6 400.5h3v1.5h-3zM1334.1 415.5h3v1.5h-3zM1277.1 438h4.5v1.5h-4.5zM1239.6 453h3v1.5h-3zM1092.6 511.5h4.5v1.5h-4.5zM1227.6 457.5h4.5v1.5h-4.5zM1461.6 364.5h3v1.5h-3zM1232.1 456h3v1.5h-3zM1424.1 379.5h3v1.5h-3zM1194.6 471h3v1.5h-3zM1386.6 394.5h3v1.5h-3zM1329.6 417h4.5v1.5h-4.5zM1427.1 378h4.5v1.5h-4.5zM1190.1 472.5h4.5v1.5h-4.5zM1382.1 396h4.5v1.5h-4.5zM1152.6 487.5h4.5v1.5h-4.5zM1097.1 510h3v1.5h-3zM1326.6 418.5h3v1.5h-3zM1284.6 435h4.5v1.5h-4.5zM1289.1 433.5h3v1.5h-3zM1250.1 448.5h4.5v1.5h-4.5zM1337.1 414h4.5v1.5h-4.5zM1281.6 436.5h3v1.5h-3zM1242.6 451.5h4.5v1.5h-4.5zM1434.6 375h4.5v1.5h-4.5zM1205.1 466.5h4.5v1.5h-4.5zM1149.6 489h3v1.5h-3zM1439.1 373.5h3v1.5h-3zM1112.1 504h3v1.5h-3zM1104.6 507h3v1.5h-3zM1107.6 505.5h4.5v1.5h-4.5zM1397.1 390h4.5v1.5h-4.5zM1299.6 429h4.5v1.5h-4.5zM1071.6 520.5h3v1.5h-3zM1304.1 427.5h3v1.5h-3zM1359.6 405h4.5v1.5h-4.5zM1265.1 442.5h4.5v1.5h-4.5zM1292.1 432h4.5v1.5h-4.5zM1254.6 447h3v1.5h-3zM1197.6 469.5h4.5v1.5h-4.5zM1257.6 445.5h4.5v1.5h-4.5zM1160.1 484.5h4.5v1.5h-4.5zM1220.1 460.5h4.5v1.5h-4.5zM1164.6 483h3v1.5h-3zM1394.1 391.5h3v1.5h-3zM1449.6 369h4.5v1.5h-4.5zM1356.6 406.5h3v1.5h-3zM1446.6 370.5h3v1.5h-3zM1115.1 502.5h4.5v1.5h-4.5zM1119.6 501h3v1.5h-3zM1349.1 409.5h3v1.5h-3zM1122.6 499.5h4.5v1.5h-4.5zM1352.1 408h4.5v1.5h-4.5zM1409.1 385.5h3v1.5h-3zM1314.6 423h4.5v1.5h-4.5zM1085.1 514.5h4.5v1.5h-4.5zM1074.6 519h3v1.5h-3zM1307.1 426h4.5v1.5h-4.5zM1269.6 441h4.5v1.5h-4.5zM1212.6 463.5h4.5v1.5h-4.5zM1442.1 372h4.5v1.5h-4.5zM1404.6 387h4.5v1.5h-4.5zM1175.1 478.5h4.5v1.5h-4.5zM1464.6 363h3v1.5h-3zM1367.1 402h4.5v1.5h-4.5zM1172.1 480h3v1.5h-3zM1130.1 496.5h4.5v1.5h-4.5zM1134.6 495h3v1.5h-3zM1322.1 420h4.5v1.5h-4.5zM1364.1 403.5h3v1.5h-3zM1319.1 421.5h3v1.5h-3zM1224.6 459h3v1.5h-3zM1187.1 474h3v1.5h-3zM1419.6 381h4.5v1.5h-4.5zM1179.6 477h3v1.5h-3zM1416.6 382.5h3v1.5h-3zM1142.1 492h3v1.5h-3zM1089.6 513h3v1.5h-3zM1374.6 399h4.5v1.5h-4.5zM1341.6 412.5h3v1.5h-3zM1379.1 397.5h3v1.5h-3zM1100.1 508.5h4.5v1.5h-4.5zM1274.1 439.5h3v1.5h-3zM1235.1 454.5h4.5v1.5h-4.5zM1431.6 376.5h3v1.5h-3zM1202.1 468h3v1.5h-3zM1145.1 490.5h4.5v1.5h-4.5zM1389.6 393h4.5v1.5h-4.5zM1296.6 430.5h3v1.5h-3zM1344.6 411h4.5v1.5h-4.5zM1157.1 486h3v1.5h-3zM1209.6 465h3v1.5h-3zM1167.6 481.5h4.5v1.5h-4.5zM1262.1 444h3v1.5h-3zM1401.6 388.5h3v1.5h-3zM1457.1 366h4.5v1.5h-4.5zM1217.1 462h3v1.5h-3zM1127.1 498h3v1.5h-3zM1412.1 384h4.5v1.5h-4.5zM1454.1 367.5h3v1.5h-3zM1311.6 424.5h3v1.5h-3zM1182.6 475.5h4.5v1.5h-4.5zM1077.6 517.5h4.5v1.5h-4.5zM1137.6 493.5h4.5v1.5h-4.5zM1247.1 450h3v1.5h-3z"/>
<path fill="#0000f4" d="M1349.1 498h3v1.5h-3zM1311.6 513h3v1.5h-3zM1401.6 477h3v1.5h-3zM1344.6 499.5h4.5v1.5h-4.5zM1307.1 514.5h4.5v1.5h-4.5zM1299.6 517.5h4.5v1.5h-4.5zM1409.1 474h3v1.5h-3zM1464.6 451.5h3v1.5h-3zM1454.1 456h3v1.5h-3zM1397.1 478.5h4.5v1.5h-4.5zM1457.1 454.5h4.5v1.5h-4.5zM1359.6 493.5h4.5v1.5h-4.5zM1419.6 469.5h4.5v1.5h-4.5zM1319.1 510h3v1.5h-3zM1322.1 508.5h4.5v1.5h-4.5zM1412.1 472.5h4.5v1.5h-4.5zM1374.6 487.5h4.5v1.5h-4.5zM1427.1 466.5h4.5v1.5h-4.5zM1371.6 489h3v1.5h-3zM1329.6 505.5h4.5v1.5h-4.5zM1334.1 504h3v1.5h-3zM1461.6 453h3v1.5h-3zM1424.1 468h3v1.5h-3zM1386.6 483h3v1.5h-3zM1382.1 484.5h4.5v1.5h-4.5zM1326.6 507h3v1.5h-3zM1337.1 502.5h4.5v1.5h-4.5zM1446.6 459h3v1.5h-3zM1434.6 463.5h4.5v1.5h-4.5zM1439.1 462h3v1.5h-3zM1304.1 516h3v1.5h-3zM1449.6 457.5h4.5v1.5h-4.5zM1394.1 480h3v1.5h-3zM1356.6 495h3v1.5h-3zM1352.1 496.5h4.5v1.5h-4.5zM1314.6 511.5h4.5v1.5h-4.5zM1442.1 460.5h4.5v1.5h-4.5zM1404.6 475.5h4.5v1.5h-4.5zM1367.1 490.5h4.5v1.5h-4.5zM1364.1 492h3v1.5h-3zM1416.6 471h3v1.5h-3zM1379.1 486h3v1.5h-3zM1341.6 501h3v1.5h-3zM1431.6 465h3v1.5h-3zM1389.6 481.5h4.5v1.5h-4.5zM1293.6 520.5h3v1.5h-3zM1296.6 519h3v1.5h-3z"/>
<path fill="#0000f4" d="M0.6 357h1467v1.5h-1467z"/>
<path fill="#0000f4" d="M0.6 406.5h1467v1.5h-1467z"/>
<path d="M211.8,46 V40.6 H216.8 V42.6 M211.8,42.6 H216.5 M213,45.6 H220.5 L228.5,48.6" fill="none" stroke="#c8c8c8" stroke-width="1.4"/>
<text x="232.8" y="56.6" fill="#c8c8c8" font-size="17.5" textLength="66" lengthAdjust="spacingAndGlyphs" >1918.22</text>
<polygon points="1094,512 1100.5,520.5 1087.5,520.5" fill="#ff0000" stroke="none" stroke-width="1.5"/>
<line x1="1096" y1="512.5" x2="1110.5" y2="512.5" stroke="#d0d0d0" stroke-width="1.5"/>
<text x="1113.4" y="520.8" fill="#c8c8c8" font-size="17.5" textLength="63" lengthAdjust="spacingAndGlyphs" >1184.91</text>
<line x1="1360" y1="431.25" x2="1467" y2="431.25" stroke="#a8a8a8" stroke-width="1.5"/>
<svg x="1355" y="400" width="112.5" height="40" overflow="hidden"><text x="10.2" y="24.3" fill="#c8c8c8" font-size="18" textLength="100.5" lengthAdjust="spacingAndGlyphs" >1309.44 - 13</text></svg>
<rect x="1467.5" y="12" width="1.5" height="876" fill="#a80000"/>
<line x1="1467" y1="54.75" x2="1477" y2="54.75" stroke="#a80000" stroke-width="1.5"/>
<line x1="1467" y1="117.75" x2="1477" y2="117.75" stroke="#a80000" stroke-width="1.5"/>
<line x1="1467" y1="182.25" x2="1477" y2="182.25" stroke="#a80000" stroke-width="1.5"/>
<line x1="1467" y1="246.75" x2="1477" y2="246.75" stroke="#a80000" stroke-width="1.5"/>
<line x1="1467" y1="309.75" x2="1477" y2="309.75" stroke="#a80000" stroke-width="1.5"/>
<line x1="1467" y1="374.25" x2="1477" y2="374.25" stroke="#a80000" stroke-width="1.5"/>
<line x1="1467" y1="438.75" x2="1477" y2="438.75" stroke="#a80000" stroke-width="1.5"/>
<line x1="1467" y1="501.75" x2="1477" y2="501.75" stroke="#a80000" stroke-width="1.5"/>
<line x1="1467" y1="588.75" x2="1477" y2="588.75" stroke="#a80000" stroke-width="1.5"/>
<line x1="1467" y1="630.75" x2="1477" y2="630.75" stroke="#a80000" stroke-width="1.5"/>
<line x1="1467" y1="671.25" x2="1477" y2="671.25" stroke="#a80000" stroke-width="1.5"/>
<line x1="1467" y1="86.25" x2="1472.5" y2="86.25" stroke="#a80000" stroke-width="1.5"/>
<line x1="1467" y1="150" x2="1472.5" y2="150" stroke="#a80000" stroke-width="1.5"/>
<line x1="1467" y1="214.5" x2="1472.5" y2="214.5" stroke="#a80000" stroke-width="1.5"/>
<line x1="1467" y1="278.25" x2="1472.5" y2="278.25" stroke="#a80000" stroke-width="1.5"/>
<line x1="1467" y1="342" x2="1472.5" y2="342" stroke="#a80000" stroke-width="1.5"/>
<line x1="1467" y1="406.5" x2="1472.5" y2="406.5" stroke="#a80000" stroke-width="1.5"/>
<line x1="1467" y1="470.25" x2="1472.5" y2="470.25" stroke="#a80000" stroke-width="1.5"/>
<line x1="1467" y1="609.75" x2="1472.5" y2="609.75" stroke="#a80000" stroke-width="1.5"/>
<line x1="1467" y1="651.75" x2="1472.5" y2="651.75" stroke="#a80000" stroke-width="1.5"/>
<line x1="2" y1="539.5" x2="1484" y2="539.5" stroke="#a80000" stroke-width="1.5"/>
<line x1="2" y1="715" x2="1484" y2="715" stroke="#a80000" stroke-width="1.5"/>
<line x1="1468" y1="692.75" x2="1484" y2="692.75" stroke="#a80000" stroke-width="1.5"/>
<line x1="1468" y1="716.25" x2="1484" y2="716.25" stroke="#a80000" stroke-width="1.5"/>
<rect x="1469" y="715" width="1.6" height="173" fill="#a80000"/>
<path d="M1472.2,696.5 L1482.5,709.8 M1482.5,696.5 L1472.2,709.8" stroke="#d02828" stroke-width="1.5" fill="none"/>
<polygon points="1435,18.5 1443,26.5 1435,34.5 1427,26.5" fill="none" stroke="#b00000" stroke-width="1.4"/>
<rect x="1449.75" y="18.75" width="14" height="15" fill="none" stroke="#b00000" stroke-width="1.5"/>
<line x1="1458.75" y1="18.5" x2="1458.75" y2="34" stroke="#b00000" stroke-width="1.5"/>
<text x="3.4" y="33" fill="#c8c8c8" font-size="17.5" textLength="178.5" lengthAdjust="spacingAndGlyphs" >创业板指(日线.前复权)</text>
<polygon points="198,16 206,24.5 201,24.5 201,33 195,33 195,24.5 190,24.5" fill="#ff0000" stroke="none" stroke-width="1.5"/>
<text x="211.8" y="31" fill="#e8e8e8" font-size="17.5" textLength="106.5" lengthAdjust="spacingAndGlyphs" >MA5: 1237.41</text>
<text x="330.5" y="31" fill="#ffff00" font-size="17.5" textLength="120" lengthAdjust="spacingAndGlyphs" >MA10: 1255.73</text>
<text x="459.5" y="31" fill="#ff00ff" font-size="17.5" textLength="119.5" lengthAdjust="spacingAndGlyphs" >MA20: 1288.40</text>
<text x="588" y="31" fill="#00ee00" font-size="17.5" textLength="130.5" lengthAdjust="spacingAndGlyphs" >MA250: 1580.69</text>
<text x="2.4" y="557.8" fill="#e8e8e8" font-size="17.5" textLength="191" lengthAdjust="spacingAndGlyphs" >VOLUME: 57771140.00</text>
<text x="203" y="557.8" fill="#e8e8e8" font-size="17.5" textLength="150.5" lengthAdjust="spacingAndGlyphs" >MA5: 46846564.00</text>
<text x="363.4" y="557.8" fill="#ffff00" font-size="17.5" textLength="161.8" lengthAdjust="spacingAndGlyphs" >MA10: 44871340.00</text>
<text x="3" y="733" fill="#c8c8c8" font-size="17.5" textLength="85.8" lengthAdjust="spacingAndGlyphs" >KDJ(9,3,3)</text>
<text x="97" y="733" fill="#e8e8e8" font-size="17.5" textLength="66.8" lengthAdjust="spacingAndGlyphs" >K: 22.82</text>
<text x="172" y="733" fill="#ffff00" font-size="17.5" textLength="68.8" lengthAdjust="spacingAndGlyphs" >D: 16.42</text>
<text x="248" y="733" fill="#ff00ff" font-size="17.5" textLength="64.8" lengthAdjust="spacingAndGlyphs" >J: 35.62</text>
</svg></div></body></html>
